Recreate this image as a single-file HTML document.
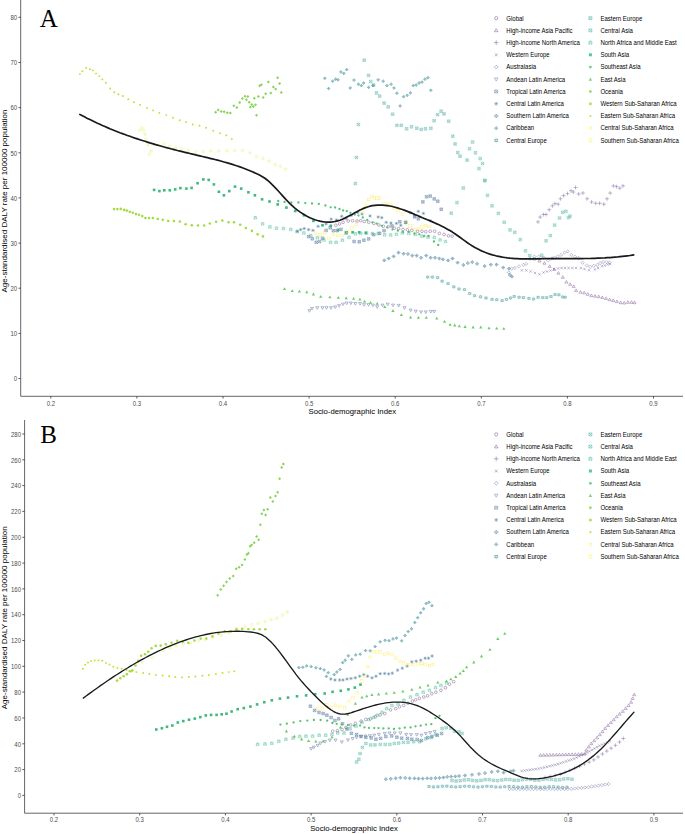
<!DOCTYPE html>
<html><head><meta charset="utf-8"><style>
html,body{margin:0;padding:0;background:#fff;width:685px;height:834px;overflow:hidden}
svg{display:block}
.tk{font-family:"Liberation Sans",sans-serif;font-size:6.4px;fill:#4d4d4d}
.ttl{font-family:"Liberation Sans",sans-serif;font-size:8px;fill:#000}
.lg{font-family:"Liberation Sans",sans-serif;font-size:6.45px;fill:#000}
.big{font-family:"Liberation Serif",serif;font-size:25px;fill:#000}
</style></head><body>
<svg width="685" height="834" viewBox="0 0 685 834">
<rect width="685" height="834" fill="#fff"/>
<path d="M20.7 0V396.3H683" stroke="#555" stroke-width="0.9" fill="none"/>
<path d="M18.5 378.5H20.7" stroke="#444" stroke-width="0.9"/>
<text transform="translate(17.099999999999998 381.2) scale(0.935 1)" text-anchor="end" class="tk">0</text>
<path d="M18.5 333.4H20.7" stroke="#444" stroke-width="0.9"/>
<text transform="translate(17.099999999999998 336.09999999999997) scale(0.935 1)" text-anchor="end" class="tk">10</text>
<path d="M18.5 288.2H20.7" stroke="#444" stroke-width="0.9"/>
<text transform="translate(17.099999999999998 290.9) scale(0.935 1)" text-anchor="end" class="tk">20</text>
<path d="M18.5 243.1H20.7" stroke="#444" stroke-width="0.9"/>
<text transform="translate(17.099999999999998 245.79999999999998) scale(0.935 1)" text-anchor="end" class="tk">30</text>
<path d="M18.5 197.9H20.7" stroke="#444" stroke-width="0.9"/>
<text transform="translate(17.099999999999998 200.6) scale(0.935 1)" text-anchor="end" class="tk">40</text>
<path d="M18.5 152.8H20.7" stroke="#444" stroke-width="0.9"/>
<text transform="translate(17.099999999999998 155.5) scale(0.935 1)" text-anchor="end" class="tk">50</text>
<path d="M18.5 107.6H20.7" stroke="#444" stroke-width="0.9"/>
<text transform="translate(17.099999999999998 110.3) scale(0.935 1)" text-anchor="end" class="tk">60</text>
<path d="M18.5 62.5H20.7" stroke="#444" stroke-width="0.9"/>
<text transform="translate(17.099999999999998 65.2) scale(0.935 1)" text-anchor="end" class="tk">70</text>
<path d="M18.5 17.3H20.7" stroke="#444" stroke-width="0.9"/>
<text transform="translate(17.099999999999998 20.0) scale(0.935 1)" text-anchor="end" class="tk">80</text>
<path d="M50.8 396.3V398.5" stroke="#444" stroke-width="0.9"/>
<text transform="translate(50.8 405.5) scale(0.935 1)" text-anchor="middle" class="tk">0.2</text>
<path d="M136.9 396.3V398.5" stroke="#444" stroke-width="0.9"/>
<text transform="translate(136.9 405.5) scale(0.935 1)" text-anchor="middle" class="tk">0.3</text>
<path d="M223.0 396.3V398.5" stroke="#444" stroke-width="0.9"/>
<text transform="translate(223.0 405.5) scale(0.935 1)" text-anchor="middle" class="tk">0.4</text>
<path d="M309.1 396.3V398.5" stroke="#444" stroke-width="0.9"/>
<text transform="translate(309.1 405.5) scale(0.935 1)" text-anchor="middle" class="tk">0.5</text>
<path d="M395.2 396.3V398.5" stroke="#444" stroke-width="0.9"/>
<text transform="translate(395.2 405.5) scale(0.935 1)" text-anchor="middle" class="tk">0.6</text>
<path d="M481.3 396.3V398.5" stroke="#444" stroke-width="0.9"/>
<text transform="translate(481.3 405.5) scale(0.935 1)" text-anchor="middle" class="tk">0.7</text>
<path d="M567.4 396.3V398.5" stroke="#444" stroke-width="0.9"/>
<text transform="translate(567.4 405.5) scale(0.935 1)" text-anchor="middle" class="tk">0.8</text>
<path d="M653.5 396.3V398.5" stroke="#444" stroke-width="0.9"/>
<text transform="translate(653.5 405.5) scale(0.935 1)" text-anchor="middle" class="tk">0.9</text>
<text transform="translate(352.3 414.3) scale(0.966 1)" text-anchor="middle" class="ttl">Socio-demographic Index</text>
<text transform="translate(7.4 201) rotate(-90)" text-anchor="middle" class="ttl">Age-standardised DALY rate per 100000 population</text>
<text x="39.8" y="26.7" class="big">A</text>
<g opacity="0.8"><circle cx="496.2" cy="18.2" r="1.60" stroke="#440154" stroke-width="0.45" fill="none"/></g>
<text transform="translate(506.3 20.5) scale(0.935 1)" class="lg">Global</text>
<g opacity="0.8"><path d="M496.2 28.7L498.0 31.7L494.4 31.7Z" stroke="#471365" stroke-width="0.45" fill="none"/></g>
<text transform="translate(506.3 32.72) scale(0.935 1)" class="lg">High-income Asia Pacific</text>
<g opacity="0.8"><path d="M493.9 42.6H498.5M496.2 40.3V45.0" stroke="#482374" stroke-width="0.45" fill="none"/></g>
<text transform="translate(506.3 44.94) scale(0.935 1)" class="lg">High-income North America</text>
<g opacity="0.8"><path d="M494.8 53.4L497.6 56.3M494.8 56.3L497.6 53.4" stroke="#46327e" stroke-width="0.45" fill="none"/></g>
<text transform="translate(506.3 57.16) scale(0.935 1)" class="lg">Western Europe</text>
<g opacity="0.8"><path d="M496.2 65.2L498.1 67.1L496.2 69.0L494.3 67.1Z" stroke="#424086" stroke-width="0.45" fill="none"/></g>
<text transform="translate(506.3 69.38) scale(0.935 1)" class="lg">Australasia</text>
<g opacity="0.8"><path d="M496.2 81.1L498.0 78.0L494.4 78.0Z" stroke="#3d4e8a" stroke-width="0.45" fill="none"/></g>
<text transform="translate(506.3 81.6) scale(0.935 1)" class="lg">Andean Latin America</text>
<g opacity="0.8"><path d="M494.7 90.0h3.0v3.0h-3.0ZM494.7 90.0L497.7 93.0M494.7 93.0L497.7 90.0" stroke="#365c8d" stroke-width="0.45" fill="none"/></g>
<text transform="translate(506.3 93.82000000000001) scale(0.935 1)" class="lg">Tropical Latin America</text>
<g opacity="0.8"><path d="M494.2 103.7H498.2M496.2 101.7V105.7M494.8 102.3L497.6 105.2M494.8 105.2L497.6 102.3" stroke="#31688e" stroke-width="0.45" fill="none"/></g>
<text transform="translate(506.3 106.04) scale(0.935 1)" class="lg">Central Latin America</text>
<g opacity="0.8"><path d="M496.2 114.0L498.1 116.0L496.2 117.9L494.3 116.0ZM494.3 116.0H498.1M496.2 114.0V117.9" stroke="#2c738e" stroke-width="0.45" fill="none"/></g>
<text transform="translate(506.3 118.26) scale(0.935 1)" class="lg">Southern Latin America</text>
<g opacity="0.8"><path d="M496.2 126.5L497.9 128.2L496.2 129.9L494.5 128.2ZM494.5 128.2H497.9M496.2 126.5V129.9" stroke="#277f8e" stroke-width="0.45" fill="none" stroke-width="0.6"/></g>
<text transform="translate(506.3 130.48000000000002) scale(0.935 1)" class="lg">Caribbean</text>
<g opacity="0.8"><path d="M496.2 138.6L498.0 141.5L494.4 141.5ZM496.2 142.2L498.0 139.3L494.4 139.3Z" stroke="#238a8d" stroke-width="0.45" fill="none"/></g>
<text transform="translate(506.3 142.70000000000002) scale(0.935 1)" class="lg">Central Europe</text>
<g opacity="0.8"><path d="M588.9 16.7h3.0v3.0h-3.0ZM588.9 16.7L591.9 19.7M588.9 19.7L591.9 16.7" stroke="#1f968b" stroke-width="0.45" fill="none"/></g>
<text transform="translate(600.4 20.5) scale(0.935 1)" class="lg">Eastern Europe</text>
<g opacity="0.8"><path d="M588.9 28.9h3.0v3.0h-3.0ZM588.9 28.9L591.9 31.9M588.9 31.9L591.9 28.9" stroke="#1fa187" stroke-width="0.45" fill="none"/></g>
<text transform="translate(600.4 32.72) scale(0.935 1)" class="lg">Central Asia</text>
<g opacity="0.8"><path d="M588.9 41.1h3.0v3.0h-3.0ZM588.9 44.2L590.4 41.1L591.9 44.2" stroke="#26ad81" stroke-width="0.45" fill="none"/></g>
<text transform="translate(600.4 44.94) scale(0.935 1)" class="lg">North Africa and Middle East</text>
<g opacity="0.8"><rect x="588.9" y="53.3" width="3.0" height="3.0" fill="#35b779"/></g>
<text transform="translate(600.4 57.16) scale(0.935 1)" class="lg">South Asia</text>
<g opacity="0.8"><circle cx="590.4" cy="67.1" r="1.36" fill="#4ac16d"/></g>
<text transform="translate(600.4 69.38) scale(0.935 1)" class="lg">Southeast Asia</text>
<g opacity="0.8"><path d="M590.4 77.5L592.2 80.7L588.6 80.7Z" fill="#65cb5e"/></g>
<text transform="translate(600.4 81.6) scale(0.935 1)" class="lg">East Asia</text>
<g opacity="0.8"><path d="M590.4 89.8L592.2 91.5L590.4 93.3L588.6 91.5Z" fill="#81d34d"/></g>
<text transform="translate(600.4 93.82000000000001) scale(0.935 1)" class="lg">Oceania</text>
<g opacity="0.8"><circle cx="590.4" cy="103.7" r="1.52" fill="#a0da39"/></g>
<text transform="translate(600.4 106.04) scale(0.935 1)" class="lg">Western Sub-Saharan Africa</text>
<g opacity="0.8"><circle cx="590.4" cy="116.0" r="1.12" fill="#c0df25"/></g>
<text transform="translate(600.4 118.26) scale(0.935 1)" class="lg">Eastern Sub-Saharan Africa</text>
<g opacity="0.8"><circle cx="590.4" cy="128.2" r="1.41" stroke="#dfe318" stroke-width="0.45" fill="none"/></g>
<text transform="translate(600.4 130.48000000000002) scale(0.935 1)" class="lg">Central Sub-Saharan Africa</text>
<g opacity="0.8"><rect x="588.9" y="138.9" width="3.0" height="3.0" stroke="#fde725" stroke-width="0.45" fill="none"/></g>
<text transform="translate(600.4 142.70000000000002) scale(0.935 1)" class="lg">Southern Sub-Saharan Africa</text>
<path d="M24.6 420V813.2H683" stroke="#555" stroke-width="0.9" fill="none"/>
<path d="M22.400000000000002 795.4H24.6" stroke="#444" stroke-width="0.9"/>
<text transform="translate(21.0 798.1) scale(0.935 1)" text-anchor="end" class="tk">0</text>
<path d="M22.400000000000002 769.6H24.6" stroke="#444" stroke-width="0.9"/>
<text transform="translate(21.0 772.3000000000001) scale(0.935 1)" text-anchor="end" class="tk">20</text>
<path d="M22.400000000000002 743.8H24.6" stroke="#444" stroke-width="0.9"/>
<text transform="translate(21.0 746.5) scale(0.935 1)" text-anchor="end" class="tk">40</text>
<path d="M22.400000000000002 718.0H24.6" stroke="#444" stroke-width="0.9"/>
<text transform="translate(21.0 720.7) scale(0.935 1)" text-anchor="end" class="tk">60</text>
<path d="M22.400000000000002 692.1H24.6" stroke="#444" stroke-width="0.9"/>
<text transform="translate(21.0 694.8000000000001) scale(0.935 1)" text-anchor="end" class="tk">80</text>
<path d="M22.400000000000002 666.3H24.6" stroke="#444" stroke-width="0.9"/>
<text transform="translate(21.0 669.0) scale(0.935 1)" text-anchor="end" class="tk">100</text>
<path d="M22.400000000000002 640.5H24.6" stroke="#444" stroke-width="0.9"/>
<text transform="translate(21.0 643.2) scale(0.935 1)" text-anchor="end" class="tk">120</text>
<path d="M22.400000000000002 614.7H24.6" stroke="#444" stroke-width="0.9"/>
<text transform="translate(21.0 617.4000000000001) scale(0.935 1)" text-anchor="end" class="tk">140</text>
<path d="M22.400000000000002 588.9H24.6" stroke="#444" stroke-width="0.9"/>
<text transform="translate(21.0 591.6) scale(0.935 1)" text-anchor="end" class="tk">160</text>
<path d="M22.400000000000002 563.1H24.6" stroke="#444" stroke-width="0.9"/>
<text transform="translate(21.0 565.8000000000001) scale(0.935 1)" text-anchor="end" class="tk">180</text>
<path d="M22.400000000000002 537.3H24.6" stroke="#444" stroke-width="0.9"/>
<text transform="translate(21.0 540.0) scale(0.935 1)" text-anchor="end" class="tk">200</text>
<path d="M22.400000000000002 511.4H24.6" stroke="#444" stroke-width="0.9"/>
<text transform="translate(21.0 514.1) scale(0.935 1)" text-anchor="end" class="tk">220</text>
<path d="M22.400000000000002 485.6H24.6" stroke="#444" stroke-width="0.9"/>
<text transform="translate(21.0 488.3) scale(0.935 1)" text-anchor="end" class="tk">240</text>
<path d="M22.400000000000002 459.8H24.6" stroke="#444" stroke-width="0.9"/>
<text transform="translate(21.0 462.5) scale(0.935 1)" text-anchor="end" class="tk">260</text>
<path d="M22.400000000000002 434.0H24.6" stroke="#444" stroke-width="0.9"/>
<text transform="translate(21.0 436.7) scale(0.935 1)" text-anchor="end" class="tk">280</text>
<path d="M54.0 813.2V815.4000000000001" stroke="#444" stroke-width="0.9"/>
<text transform="translate(54.0 822.4000000000001) scale(0.935 1)" text-anchor="middle" class="tk">0.2</text>
<path d="M139.7 813.2V815.4000000000001" stroke="#444" stroke-width="0.9"/>
<text transform="translate(139.7 822.4000000000001) scale(0.935 1)" text-anchor="middle" class="tk">0.3</text>
<path d="M225.4 813.2V815.4000000000001" stroke="#444" stroke-width="0.9"/>
<text transform="translate(225.4 822.4000000000001) scale(0.935 1)" text-anchor="middle" class="tk">0.4</text>
<path d="M311.1 813.2V815.4000000000001" stroke="#444" stroke-width="0.9"/>
<text transform="translate(311.1 822.4000000000001) scale(0.935 1)" text-anchor="middle" class="tk">0.5</text>
<path d="M396.8 813.2V815.4000000000001" stroke="#444" stroke-width="0.9"/>
<text transform="translate(396.8 822.4000000000001) scale(0.935 1)" text-anchor="middle" class="tk">0.6</text>
<path d="M482.5 813.2V815.4000000000001" stroke="#444" stroke-width="0.9"/>
<text transform="translate(482.5 822.4000000000001) scale(0.935 1)" text-anchor="middle" class="tk">0.7</text>
<path d="M568.2 813.2V815.4000000000001" stroke="#444" stroke-width="0.9"/>
<text transform="translate(568.2 822.4000000000001) scale(0.935 1)" text-anchor="middle" class="tk">0.8</text>
<path d="M653.9 813.2V815.4000000000001" stroke="#444" stroke-width="0.9"/>
<text transform="translate(653.9 822.4000000000001) scale(0.935 1)" text-anchor="middle" class="tk">0.9</text>
<text transform="translate(354 831.4) scale(0.966 1)" text-anchor="middle" class="ttl">Socio-demographic Index</text>
<text transform="translate(7.4 617.8) rotate(-90)" text-anchor="middle" class="ttl">Age-standardised DALY rate per 100000 population</text>
<text x="40.2" y="442.9" class="big">B</text>
<g opacity="0.8"><circle cx="496.2" cy="434.4" r="1.60" stroke="#440154" stroke-width="0.45" fill="none"/></g>
<text transform="translate(506.3 436.7) scale(0.935 1)" class="lg">Global</text>
<g opacity="0.8"><path d="M496.2 444.9L498.0 447.9L494.4 447.9Z" stroke="#471365" stroke-width="0.45" fill="none"/></g>
<text transform="translate(506.3 448.92) scale(0.935 1)" class="lg">High-income Asia Pacific</text>
<g opacity="0.8"><path d="M493.9 458.8H498.5M496.2 456.5V461.2" stroke="#482374" stroke-width="0.45" fill="none"/></g>
<text transform="translate(506.3 461.14) scale(0.935 1)" class="lg">High-income North America</text>
<g opacity="0.8"><path d="M494.8 469.6L497.6 472.5M494.8 472.5L497.6 469.6" stroke="#46327e" stroke-width="0.45" fill="none"/></g>
<text transform="translate(506.3 473.36) scale(0.935 1)" class="lg">Western Europe</text>
<g opacity="0.8"><path d="M496.2 481.4L498.1 483.3L496.2 485.2L494.3 483.3Z" stroke="#424086" stroke-width="0.45" fill="none"/></g>
<text transform="translate(506.3 485.58) scale(0.935 1)" class="lg">Australasia</text>
<g opacity="0.8"><path d="M496.2 497.3L498.0 494.2L494.4 494.2Z" stroke="#3d4e8a" stroke-width="0.45" fill="none"/></g>
<text transform="translate(506.3 497.8) scale(0.935 1)" class="lg">Andean Latin America</text>
<g opacity="0.8"><path d="M494.7 506.2h3.0v3.0h-3.0ZM494.7 506.2L497.7 509.2M494.7 509.2L497.7 506.2" stroke="#365c8d" stroke-width="0.45" fill="none"/></g>
<text transform="translate(506.3 510.02) scale(0.935 1)" class="lg">Tropical Latin America</text>
<g opacity="0.8"><path d="M494.2 519.9H498.2M496.2 517.9V521.9M494.8 518.5L497.6 521.4M494.8 521.4L497.6 518.5" stroke="#31688e" stroke-width="0.45" fill="none"/></g>
<text transform="translate(506.3 522.2399999999999) scale(0.935 1)" class="lg">Central Latin America</text>
<g opacity="0.8"><path d="M496.2 530.2L498.1 532.2L496.2 534.1L494.3 532.2ZM494.3 532.2H498.1M496.2 530.2V534.1" stroke="#2c738e" stroke-width="0.45" fill="none"/></g>
<text transform="translate(506.3 534.4599999999999) scale(0.935 1)" class="lg">Southern Latin America</text>
<g opacity="0.8"><path d="M496.2 542.7L497.9 544.4L496.2 546.1L494.5 544.4ZM494.5 544.4H497.9M496.2 542.7V546.1" stroke="#277f8e" stroke-width="0.45" fill="none" stroke-width="0.6"/></g>
<text transform="translate(506.3 546.68) scale(0.935 1)" class="lg">Caribbean</text>
<g opacity="0.8"><path d="M496.2 554.8L498.0 557.7L494.4 557.7ZM496.2 558.4L498.0 555.5L494.4 555.5Z" stroke="#238a8d" stroke-width="0.45" fill="none"/></g>
<text transform="translate(506.3 558.9) scale(0.935 1)" class="lg">Central Europe</text>
<g opacity="0.8"><path d="M588.9 432.9h3.0v3.0h-3.0ZM588.9 432.9L591.9 435.9M588.9 435.9L591.9 432.9" stroke="#1f968b" stroke-width="0.45" fill="none"/></g>
<text transform="translate(600.4 436.7) scale(0.935 1)" class="lg">Eastern Europe</text>
<g opacity="0.8"><path d="M588.9 445.1h3.0v3.0h-3.0ZM588.9 445.1L591.9 448.1M588.9 448.1L591.9 445.1" stroke="#1fa187" stroke-width="0.45" fill="none"/></g>
<text transform="translate(600.4 448.92) scale(0.935 1)" class="lg">Central Asia</text>
<g opacity="0.8"><path d="M588.9 457.3h3.0v3.0h-3.0ZM588.9 460.4L590.4 457.3L591.9 460.4" stroke="#26ad81" stroke-width="0.45" fill="none"/></g>
<text transform="translate(600.4 461.14) scale(0.935 1)" class="lg">North Africa and Middle East</text>
<g opacity="0.8"><rect x="588.9" y="469.5" width="3.0" height="3.0" fill="#35b779"/></g>
<text transform="translate(600.4 473.36) scale(0.935 1)" class="lg">South Asia</text>
<g opacity="0.8"><circle cx="590.4" cy="483.3" r="1.36" fill="#4ac16d"/></g>
<text transform="translate(600.4 485.58) scale(0.935 1)" class="lg">Southeast Asia</text>
<g opacity="0.8"><path d="M590.4 493.7L592.2 496.9L588.6 496.9Z" fill="#65cb5e"/></g>
<text transform="translate(600.4 497.8) scale(0.935 1)" class="lg">East Asia</text>
<g opacity="0.8"><path d="M590.4 506.0L592.2 507.7L590.4 509.5L588.6 507.7Z" fill="#81d34d"/></g>
<text transform="translate(600.4 510.02) scale(0.935 1)" class="lg">Oceania</text>
<g opacity="0.8"><circle cx="590.4" cy="519.9" r="1.52" fill="#a0da39"/></g>
<text transform="translate(600.4 522.2399999999999) scale(0.935 1)" class="lg">Western Sub-Saharan Africa</text>
<g opacity="0.8"><circle cx="590.4" cy="532.2" r="1.12" fill="#c0df25"/></g>
<text transform="translate(600.4 534.4599999999999) scale(0.935 1)" class="lg">Eastern Sub-Saharan Africa</text>
<g opacity="0.8"><circle cx="590.4" cy="544.4" r="1.41" stroke="#dfe318" stroke-width="0.45" fill="none"/></g>
<text transform="translate(600.4 546.68) scale(0.935 1)" class="lg">Central Sub-Saharan Africa</text>
<g opacity="0.8"><rect x="588.9" y="555.1" width="3.0" height="3.0" stroke="#fde725" stroke-width="0.45" fill="none"/></g>
<text transform="translate(600.4 558.9) scale(0.935 1)" class="lg">Southern Sub-Saharan Africa</text>
<g opacity="0.72"><circle cx="335.8" cy="225.3" r="1.36" stroke="#440154" stroke-width="0.45" fill="none"/><circle cx="339.5" cy="224.0" r="1.36" stroke="#440154" stroke-width="0.45" fill="none"/><circle cx="343.1" cy="222.3" r="1.36" stroke="#440154" stroke-width="0.45" fill="none"/><circle cx="348.2" cy="221.0" r="1.36" stroke="#440154" stroke-width="0.45" fill="none"/><circle cx="352.6" cy="220.7" r="1.36" stroke="#440154" stroke-width="0.45" fill="none"/><circle cx="357.0" cy="221.0" r="1.36" stroke="#440154" stroke-width="0.45" fill="none"/><circle cx="360.7" cy="220.7" r="1.36" stroke="#440154" stroke-width="0.45" fill="none"/><circle cx="364.3" cy="221.5" r="1.36" stroke="#440154" stroke-width="0.45" fill="none"/><circle cx="368.7" cy="222.3" r="1.36" stroke="#440154" stroke-width="0.45" fill="none"/><circle cx="373.8" cy="223.4" r="1.36" stroke="#440154" stroke-width="0.45" fill="none"/><circle cx="378.9" cy="225.0" r="1.36" stroke="#440154" stroke-width="0.45" fill="none"/><circle cx="383.3" cy="226.3" r="1.36" stroke="#440154" stroke-width="0.45" fill="none"/><circle cx="388.4" cy="226.6" r="1.36" stroke="#440154" stroke-width="0.45" fill="none"/><circle cx="394.2" cy="228.2" r="1.36" stroke="#440154" stroke-width="0.45" fill="none"/><circle cx="398.6" cy="228.8" r="1.36" stroke="#440154" stroke-width="0.45" fill="none"/><circle cx="403.0" cy="229.4" r="1.36" stroke="#440154" stroke-width="0.45" fill="none"/><circle cx="407.4" cy="229.9" r="1.36" stroke="#440154" stroke-width="0.45" fill="none"/><circle cx="411.8" cy="230.4" r="1.36" stroke="#440154" stroke-width="0.45" fill="none"/><circle cx="417.6" cy="231.3" r="1.36" stroke="#440154" stroke-width="0.45" fill="none"/><circle cx="422.0" cy="231.3" r="1.36" stroke="#440154" stroke-width="0.45" fill="none"/><circle cx="425.8" cy="231.8" r="1.36" stroke="#440154" stroke-width="0.45" fill="none"/><circle cx="430.2" cy="231.3" r="1.36" stroke="#440154" stroke-width="0.45" fill="none"/><circle cx="434.6" cy="231.3" r="1.36" stroke="#440154" stroke-width="0.45" fill="none"/><circle cx="439.3" cy="233.4" r="1.36" stroke="#440154" stroke-width="0.45" fill="none"/><circle cx="444.1" cy="234.5" r="1.36" stroke="#440154" stroke-width="0.45" fill="none"/><circle cx="448.5" cy="235.9" r="1.36" stroke="#440154" stroke-width="0.45" fill="none"/><circle cx="452.1" cy="236.1" r="1.36" stroke="#440154" stroke-width="0.45" fill="none"/></g>
<g opacity="0.72"><path d="M539.4 259.4L540.9 262.0L537.9 262.0Z" stroke="#471365" stroke-width="0.45" fill="none"/><path d="M544.5 261.6L546.0 264.2L543.0 264.2Z" stroke="#471365" stroke-width="0.45" fill="none"/><path d="M549.6 264.8L551.1 267.4L548.1 267.4Z" stroke="#471365" stroke-width="0.45" fill="none"/><path d="M554.3 267.8L555.8 270.4L552.8 270.4Z" stroke="#471365" stroke-width="0.45" fill="none"/><path d="M558.4 271.6L559.9 274.2L556.9 274.2Z" stroke="#471365" stroke-width="0.45" fill="none"/><path d="M562.8 275.7L564.3 278.3L561.3 278.3Z" stroke="#471365" stroke-width="0.45" fill="none"/><path d="M566.4 280.5L567.9 283.1L564.9 283.1Z" stroke="#471365" stroke-width="0.45" fill="none"/><path d="M570.1 282.8L571.6 285.4L568.6 285.4Z" stroke="#471365" stroke-width="0.45" fill="none"/><path d="M573.7 284.8L575.2 287.4L572.2 287.4Z" stroke="#471365" stroke-width="0.45" fill="none"/><path d="M576.1 288.9L577.6 291.5L574.6 291.5Z" stroke="#471365" stroke-width="0.45" fill="none"/><path d="M580.4 290.6L581.9 293.2L578.9 293.2Z" stroke="#471365" stroke-width="0.45" fill="none"/><path d="M584.1 291.3L585.6 293.9L582.6 293.9Z" stroke="#471365" stroke-width="0.45" fill="none"/><path d="M587.7 292.7L589.2 295.3L586.2 295.3Z" stroke="#471365" stroke-width="0.45" fill="none"/><path d="M591.4 294.0L592.9 296.6L589.9 296.6Z" stroke="#471365" stroke-width="0.45" fill="none"/><path d="M595.0 294.6L596.5 297.2L593.5 297.2Z" stroke="#471365" stroke-width="0.45" fill="none"/><path d="M598.7 295.1L600.2 297.7L597.2 297.7Z" stroke="#471365" stroke-width="0.45" fill="none"/><path d="M602.3 296.0L603.8 298.6L600.8 298.6Z" stroke="#471365" stroke-width="0.45" fill="none"/><path d="M606.0 296.9L607.5 299.5L604.5 299.5Z" stroke="#471365" stroke-width="0.45" fill="none"/><path d="M609.6 298.1L611.1 300.7L608.1 300.7Z" stroke="#471365" stroke-width="0.45" fill="none"/><path d="M613.3 298.9L614.8 301.5L611.8 301.5Z" stroke="#471365" stroke-width="0.45" fill="none"/><path d="M616.9 300.0L618.4 302.6L615.4 302.6Z" stroke="#471365" stroke-width="0.45" fill="none"/><path d="M620.6 301.1L622.1 303.7L619.1 303.7Z" stroke="#471365" stroke-width="0.45" fill="none"/><path d="M624.2 301.4L625.7 304.0L622.7 304.0Z" stroke="#471365" stroke-width="0.45" fill="none"/><path d="M627.9 300.7L629.4 303.3L626.4 303.3Z" stroke="#471365" stroke-width="0.45" fill="none"/><path d="M631.5 300.7L633.0 303.3L630.0 303.3Z" stroke="#471365" stroke-width="0.45" fill="none"/><path d="M634.5 301.1L636.0 303.7L633.0 303.7Z" stroke="#471365" stroke-width="0.45" fill="none"/></g>
<g opacity="0.72"><path d="M536.0 221.9H540.0M538.0 219.9V223.9" stroke="#482374" stroke-width="0.45" fill="none"/><path d="M538.2 217.1H542.2M540.2 215.1V219.1" stroke="#482374" stroke-width="0.45" fill="none"/><path d="M541.4 214.5H545.4M543.4 212.5V216.5" stroke="#482374" stroke-width="0.45" fill="none"/><path d="M544.0 214.5H548.0M546.0 212.5V216.5" stroke="#482374" stroke-width="0.45" fill="none"/><path d="M547.2 209.7H551.2M549.2 207.7V211.7" stroke="#482374" stroke-width="0.45" fill="none"/><path d="M550.4 205.8H554.4M552.4 203.8V207.8" stroke="#482374" stroke-width="0.45" fill="none"/><path d="M553.0 203.6H557.0M555.0 201.6V205.6" stroke="#482374" stroke-width="0.45" fill="none"/><path d="M556.2 204.2H560.2M558.2 202.2V206.2" stroke="#482374" stroke-width="0.45" fill="none"/><path d="M558.4 198.8H562.4M560.4 196.8V200.8" stroke="#482374" stroke-width="0.45" fill="none"/><path d="M561.6 195.6H565.6M563.6 193.6V197.6" stroke="#482374" stroke-width="0.45" fill="none"/><path d="M565.5 193.6H569.5M567.5 191.6V195.6" stroke="#482374" stroke-width="0.45" fill="none"/><path d="M569.0 190.7H573.0M571.0 188.7V192.7" stroke="#482374" stroke-width="0.45" fill="none"/><path d="M571.3 192.0H575.3M573.3 190.0V194.0" stroke="#482374" stroke-width="0.45" fill="none"/><path d="M573.5 187.5H577.5M575.5 185.5V189.5" stroke="#482374" stroke-width="0.45" fill="none"/><path d="M576.7 194.0H580.7M578.7 192.0V196.0" stroke="#482374" stroke-width="0.45" fill="none"/><path d="M580.9 193.0H584.9M582.9 191.0V195.0" stroke="#482374" stroke-width="0.45" fill="none"/><path d="M585.1 198.8H589.1M587.1 196.8V200.8" stroke="#482374" stroke-width="0.45" fill="none"/><path d="M589.6 202.0H593.6M591.6 200.0V204.0" stroke="#482374" stroke-width="0.45" fill="none"/><path d="M593.7 203.3H597.7M595.7 201.3V205.3" stroke="#482374" stroke-width="0.45" fill="none"/><path d="M597.6 203.3H601.6M599.6 201.3V205.3" stroke="#482374" stroke-width="0.45" fill="none"/><path d="M601.8 204.2H605.8M603.8 202.2V206.2" stroke="#482374" stroke-width="0.45" fill="none"/><path d="M605.0 198.8H609.0M607.0 196.8V200.8" stroke="#482374" stroke-width="0.45" fill="none"/><path d="M608.2 193.0H612.2M610.2 191.0V195.0" stroke="#482374" stroke-width="0.45" fill="none"/><path d="M611.4 185.9H615.4M613.4 183.9V187.9" stroke="#482374" stroke-width="0.45" fill="none"/><path d="M614.6 186.6H618.6M616.6 184.6V188.6" stroke="#482374" stroke-width="0.45" fill="none"/><path d="M617.8 188.2H621.8M619.8 186.2V190.2" stroke="#482374" stroke-width="0.45" fill="none"/><path d="M621.0 185.9H625.0M623.0 183.9V187.9" stroke="#482374" stroke-width="0.45" fill="none"/></g>
<g opacity="0.72"><path d="M520.7 269.1L523.1 271.5M520.7 271.5L523.1 269.1" stroke="#46327e" stroke-width="0.45" fill="none"/><path d="M525.1 269.1L527.5 271.5M525.1 271.5L527.5 269.1" stroke="#46327e" stroke-width="0.45" fill="none"/><path d="M529.5 270.3L531.9 272.7M529.5 272.7L531.9 270.3" stroke="#46327e" stroke-width="0.45" fill="none"/><path d="M533.8 271.8L536.2 274.2M533.8 274.2L536.2 271.8" stroke="#46327e" stroke-width="0.45" fill="none"/><path d="M538.2 273.1L540.6 275.5M538.2 275.5L540.6 273.1" stroke="#46327e" stroke-width="0.45" fill="none"/><path d="M542.3 271.3L544.7 273.7M542.3 273.7L544.7 271.3" stroke="#46327e" stroke-width="0.45" fill="none"/><path d="M545.8 270.3L548.2 272.7M545.8 272.7L548.2 270.3" stroke="#46327e" stroke-width="0.45" fill="none"/><path d="M549.3 269.3L551.7 271.7M549.3 271.7L551.7 269.3" stroke="#46327e" stroke-width="0.45" fill="none"/><path d="M552.8 267.8L555.2 270.2M552.8 270.2L555.2 267.8" stroke="#46327e" stroke-width="0.45" fill="none"/><path d="M556.9 267.2L559.3 269.6M556.9 269.6L559.3 267.2" stroke="#46327e" stroke-width="0.45" fill="none"/><path d="M560.4 266.9L562.8 269.3M560.4 269.3L562.8 266.9" stroke="#46327e" stroke-width="0.45" fill="none"/><path d="M563.8 266.8L566.2 269.2M563.8 269.2L566.2 266.8" stroke="#46327e" stroke-width="0.45" fill="none"/><path d="M567.4 266.8L569.8 269.2M567.4 269.2L569.8 266.8" stroke="#46327e" stroke-width="0.45" fill="none"/><path d="M571.1 266.8L573.5 269.2M571.1 269.2L573.5 266.8" stroke="#46327e" stroke-width="0.45" fill="none"/><path d="M574.8 266.8L577.2 269.2M574.8 269.2L577.2 266.8" stroke="#46327e" stroke-width="0.45" fill="none"/><path d="M579.7 266.9L582.1 269.3M579.7 269.3L582.1 266.9" stroke="#46327e" stroke-width="0.45" fill="none"/><path d="M583.3 267.8L585.7 270.2M583.3 270.2L585.7 267.8" stroke="#46327e" stroke-width="0.45" fill="none"/><path d="M587.8 269.0L590.2 271.4M587.8 271.4L590.2 269.0" stroke="#46327e" stroke-width="0.45" fill="none"/><path d="M593.7 268.3L596.1 270.7M593.7 270.7L596.1 268.3" stroke="#46327e" stroke-width="0.45" fill="none"/><path d="M596.8 266.8L599.2 269.2M596.8 269.2L599.2 266.8" stroke="#46327e" stroke-width="0.45" fill="none"/><path d="M600.7 265.0L603.1 267.4M600.7 267.4L603.1 265.0" stroke="#46327e" stroke-width="0.45" fill="none"/><path d="M603.6 264.3L606.0 266.7M603.6 266.7L606.0 264.3" stroke="#46327e" stroke-width="0.45" fill="none"/><path d="M606.5 263.3L608.9 265.7M606.5 265.7L608.9 263.3" stroke="#46327e" stroke-width="0.45" fill="none"/><path d="M608.8 262.8L611.2 265.2M608.8 265.2L611.2 262.8" stroke="#46327e" stroke-width="0.45" fill="none"/></g>
<g opacity="0.72"><path d="M508.8 270.8L510.4 272.4L508.8 274.0L507.2 272.4Z" stroke="#424086" stroke-width="0.45" fill="none"/><path d="M511.7 267.0L513.3 268.6L511.7 270.2L510.1 268.6Z" stroke="#424086" stroke-width="0.45" fill="none"/><path d="M515.0 266.4L516.6 268.0L515.0 269.6L513.4 268.0Z" stroke="#424086" stroke-width="0.45" fill="none"/><path d="M519.0 264.7L520.6 266.3L519.0 267.9L517.4 266.3Z" stroke="#424086" stroke-width="0.45" fill="none"/><path d="M523.4 263.2L525.0 264.8L523.4 266.4L521.8 264.8Z" stroke="#424086" stroke-width="0.45" fill="none"/><path d="M526.3 262.3L527.9 263.9L526.3 265.5L524.7 263.9Z" stroke="#424086" stroke-width="0.45" fill="none"/><path d="M529.9 257.2L531.5 258.8L529.9 260.4L528.3 258.8Z" stroke="#424086" stroke-width="0.45" fill="none"/><path d="M534.3 255.0L535.9 256.6L534.3 258.2L532.7 256.6Z" stroke="#424086" stroke-width="0.45" fill="none"/><path d="M538.7 255.0L540.3 256.6L538.7 258.2L537.1 256.6Z" stroke="#424086" stroke-width="0.45" fill="none"/><path d="M543.8 256.1L545.4 257.7L543.8 259.3L542.2 257.7Z" stroke="#424086" stroke-width="0.45" fill="none"/><path d="M548.2 258.7L549.8 260.3L548.2 261.9L546.6 260.3Z" stroke="#424086" stroke-width="0.45" fill="none"/><path d="M552.0 256.9L553.6 258.5L552.0 260.1L550.4 258.5Z" stroke="#424086" stroke-width="0.45" fill="none"/><path d="M554.0 256.2L555.6 257.8L554.0 259.4L552.4 257.8Z" stroke="#424086" stroke-width="0.45" fill="none"/><path d="M557.5 255.1L559.1 256.7L557.5 258.3L555.9 256.7Z" stroke="#424086" stroke-width="0.45" fill="none"/><path d="M561.0 253.3L562.6 254.9L561.0 256.5L559.4 254.9Z" stroke="#424086" stroke-width="0.45" fill="none"/><path d="M564.5 251.0L566.1 252.6L564.5 254.2L562.9 252.6Z" stroke="#424086" stroke-width="0.45" fill="none"/><path d="M567.8 249.8L569.4 251.4L567.8 253.0L566.2 251.4Z" stroke="#424086" stroke-width="0.45" fill="none"/><path d="M571.3 253.3L572.9 254.9L571.3 256.5L569.7 254.9Z" stroke="#424086" stroke-width="0.45" fill="none"/><path d="M575.0 255.1L576.6 256.7L575.0 258.3L573.4 256.7Z" stroke="#424086" stroke-width="0.45" fill="none"/><path d="M578.5 256.2L580.1 257.8L578.5 259.4L576.9 257.8Z" stroke="#424086" stroke-width="0.45" fill="none"/><path d="M582.6 261.1L584.2 262.7L582.6 264.3L581.0 262.7Z" stroke="#424086" stroke-width="0.45" fill="none"/><path d="M586.7 263.8L588.3 265.4L586.7 267.0L585.1 265.4Z" stroke="#424086" stroke-width="0.45" fill="none"/><path d="M590.2 265.2L591.8 266.8L590.2 268.4L588.6 266.8Z" stroke="#424086" stroke-width="0.45" fill="none"/><path d="M593.7 264.2L595.3 265.8L593.7 267.4L592.1 265.8Z" stroke="#424086" stroke-width="0.45" fill="none"/><path d="M597.2 263.3L598.8 264.9L597.2 266.5L595.6 264.9Z" stroke="#424086" stroke-width="0.45" fill="none"/><path d="M600.1 261.5L601.7 263.1L600.1 264.7L598.5 263.1Z" stroke="#424086" stroke-width="0.45" fill="none"/><path d="M603.1 260.4L604.7 262.0L603.1 263.6L601.5 262.0Z" stroke="#424086" stroke-width="0.45" fill="none"/><path d="M606.6 260.7L608.2 262.3L606.6 263.9L605.0 262.3Z" stroke="#424086" stroke-width="0.45" fill="none"/><path d="M609.5 260.9L611.1 262.5L609.5 264.1L607.9 262.5Z" stroke="#424086" stroke-width="0.45" fill="none"/></g>
<g opacity="0.85"><path d="M309.4 312.2L310.9 309.6L307.9 309.6Z" stroke="#3d4e8a" stroke-width="0.45" fill="none"/><path d="M312.0 310.1L313.5 307.5L310.5 307.5Z" stroke="#3d4e8a" stroke-width="0.45" fill="none"/><path d="M317.3 309.3L318.8 306.7L315.8 306.7Z" stroke="#3d4e8a" stroke-width="0.45" fill="none"/><path d="M322.5 309.3L324.0 306.7L321.0 306.7Z" stroke="#3d4e8a" stroke-width="0.45" fill="none"/><path d="M326.5 309.3L328.0 306.7L325.0 306.7Z" stroke="#3d4e8a" stroke-width="0.45" fill="none"/><path d="M331.0 309.3L332.5 306.7L329.5 306.7Z" stroke="#3d4e8a" stroke-width="0.45" fill="none"/><path d="M335.2 308.5L336.7 305.9L333.7 305.9Z" stroke="#3d4e8a" stroke-width="0.45" fill="none"/><path d="M339.1 307.2L340.6 304.6L337.6 304.6Z" stroke="#3d4e8a" stroke-width="0.45" fill="none"/><path d="M343.0 305.7L344.5 303.1L341.5 303.1Z" stroke="#3d4e8a" stroke-width="0.45" fill="none"/><path d="M346.7 304.6L348.2 302.0L345.2 302.0Z" stroke="#3d4e8a" stroke-width="0.45" fill="none"/><path d="M350.9 304.6L352.4 302.0L349.4 302.0Z" stroke="#3d4e8a" stroke-width="0.45" fill="none"/><path d="M355.4 305.1L356.9 302.5L353.9 302.5Z" stroke="#3d4e8a" stroke-width="0.45" fill="none"/><path d="M360.1 305.1L361.6 302.5L358.6 302.5Z" stroke="#3d4e8a" stroke-width="0.45" fill="none"/><path d="M364.1 306.2L365.6 303.6L362.6 303.6Z" stroke="#3d4e8a" stroke-width="0.45" fill="none"/><path d="M368.5 306.2L370.0 303.6L367.0 303.6Z" stroke="#3d4e8a" stroke-width="0.45" fill="none"/><path d="M373.0 306.7L374.5 304.1L371.5 304.1Z" stroke="#3d4e8a" stroke-width="0.45" fill="none"/><path d="M377.2 308.3L378.7 305.7L375.7 305.7Z" stroke="#3d4e8a" stroke-width="0.45" fill="none"/><path d="M382.5 306.7L384.0 304.1L381.0 304.1Z" stroke="#3d4e8a" stroke-width="0.45" fill="none"/><path d="M387.7 305.7L389.2 303.1L386.2 303.1Z" stroke="#3d4e8a" stroke-width="0.45" fill="none"/><path d="M393.0 306.7L394.5 304.1L391.5 304.1Z" stroke="#3d4e8a" stroke-width="0.45" fill="none"/><path d="M398.7 307.0L400.2 304.4L397.2 304.4Z" stroke="#3d4e8a" stroke-width="0.45" fill="none"/><path d="M404.5 309.3L406.0 306.7L403.0 306.7Z" stroke="#3d4e8a" stroke-width="0.45" fill="none"/><path d="M410.6 311.7L412.1 309.1L409.1 309.1Z" stroke="#3d4e8a" stroke-width="0.45" fill="none"/><path d="M415.8 312.7L417.3 310.1L414.3 310.1Z" stroke="#3d4e8a" stroke-width="0.45" fill="none"/><path d="M421.1 313.5L422.6 310.9L419.6 310.9Z" stroke="#3d4e8a" stroke-width="0.45" fill="none"/><path d="M425.8 313.5L427.3 310.9L424.3 310.9Z" stroke="#3d4e8a" stroke-width="0.45" fill="none"/><path d="M430.8 313.0L432.3 310.4L429.3 310.4Z" stroke="#3d4e8a" stroke-width="0.45" fill="none"/><path d="M434.2 313.0L435.7 310.4L432.7 310.4Z" stroke="#3d4e8a" stroke-width="0.45" fill="none"/></g>
<g opacity="0.85"><path d="M307.3 235.3h2.6v2.6h-2.6ZM307.3 235.3L309.9 237.9M307.3 237.9L309.9 235.3" stroke="#365c8d" stroke-width="0.45" fill="none"/><path d="M311.0 237.5h2.6v2.6h-2.6ZM311.0 237.5L313.6 240.1M311.0 240.1L313.6 237.5" stroke="#365c8d" stroke-width="0.45" fill="none"/><path d="M314.9 241.0h2.6v2.6h-2.6ZM314.9 241.0L317.5 243.6M314.9 243.6L317.5 241.0" stroke="#365c8d" stroke-width="0.45" fill="none"/><path d="M318.3 240.3h2.6v2.6h-2.6ZM318.3 240.3L320.9 242.9M318.3 242.9L320.9 240.3" stroke="#365c8d" stroke-width="0.45" fill="none"/><path d="M321.2 236.9h2.6v2.6h-2.6ZM321.2 236.9L323.8 239.5M321.2 239.5L323.8 236.9" stroke="#365c8d" stroke-width="0.45" fill="none"/><path d="M324.8 229.1h2.6v2.6h-2.6ZM324.8 229.1L327.4 231.7M324.8 231.7L327.4 229.1" stroke="#365c8d" stroke-width="0.45" fill="none"/><path d="M328.9 226.4h2.6v2.6h-2.6ZM328.9 226.4L331.5 229.0M328.9 229.0L331.5 226.4" stroke="#365c8d" stroke-width="0.45" fill="none"/><path d="M332.1 229.4h2.6v2.6h-2.6ZM332.1 229.4L334.7 232.0M332.1 232.0L334.7 229.4" stroke="#365c8d" stroke-width="0.45" fill="none"/><path d="M335.8 229.4h2.6v2.6h-2.6ZM335.8 229.4L338.4 232.0M335.8 232.0L338.4 229.4" stroke="#365c8d" stroke-width="0.45" fill="none"/><path d="M339.7 228.1h2.6v2.6h-2.6ZM339.7 228.1L342.3 230.7M339.7 230.7L342.3 228.1" stroke="#365c8d" stroke-width="0.45" fill="none"/><path d="M344.8 231.7h2.6v2.6h-2.6ZM344.8 231.7L347.4 234.3M344.8 234.3L347.4 231.7" stroke="#365c8d" stroke-width="0.45" fill="none"/><path d="M352.8 240.2h2.6v2.6h-2.6ZM352.8 240.2L355.4 242.8M352.8 242.8L355.4 240.2" stroke="#365c8d" stroke-width="0.45" fill="none"/><path d="M357.9 240.5h2.6v2.6h-2.6ZM357.9 240.5L360.5 243.1M357.9 243.1L360.5 240.5" stroke="#365c8d" stroke-width="0.45" fill="none"/><path d="M362.6 238.9h2.6v2.6h-2.6ZM362.6 238.9L365.2 241.5M362.6 241.5L365.2 238.9" stroke="#365c8d" stroke-width="0.45" fill="none"/><path d="M367.4 237.6h2.6v2.6h-2.6ZM367.4 237.6L370.0 240.2M367.4 240.2L370.0 237.6" stroke="#365c8d" stroke-width="0.45" fill="none"/><path d="M372.5 233.4h2.6v2.6h-2.6ZM372.5 233.4L375.1 236.0M372.5 236.0L375.1 233.4" stroke="#365c8d" stroke-width="0.45" fill="none"/><path d="M378.3 232.0h2.6v2.6h-2.6ZM378.3 232.0L380.9 234.6M378.3 234.6L380.9 232.0" stroke="#365c8d" stroke-width="0.45" fill="none"/><path d="M382.7 229.4h2.6v2.6h-2.6ZM382.7 229.4L385.3 232.0M382.7 232.0L385.3 229.4" stroke="#365c8d" stroke-width="0.45" fill="none"/><path d="M390.7 224.7h2.6v2.6h-2.6ZM390.7 224.7L393.3 227.3M390.7 227.3L393.3 224.7" stroke="#365c8d" stroke-width="0.45" fill="none"/><path d="M398.5 220.5h2.6v2.6h-2.6ZM398.5 220.5L401.1 223.1M398.5 223.1L401.1 220.5" stroke="#365c8d" stroke-width="0.45" fill="none"/><path d="M404.2 221.0h2.6v2.6h-2.6ZM404.2 221.0L406.8 223.6M404.2 223.6L406.8 221.0" stroke="#365c8d" stroke-width="0.45" fill="none"/><path d="M413.4 215.6h2.6v2.6h-2.6ZM413.4 215.6L416.0 218.2M413.4 218.2L416.0 215.6" stroke="#365c8d" stroke-width="0.45" fill="none"/><path d="M417.0 217.5h2.6v2.6h-2.6ZM417.0 217.5L419.6 220.1M417.0 220.1L419.6 217.5" stroke="#365c8d" stroke-width="0.45" fill="none"/><path d="M421.6 200.6h2.6v2.6h-2.6ZM421.6 200.6L424.2 203.2M421.6 203.2L424.2 200.6" stroke="#365c8d" stroke-width="0.45" fill="none"/><path d="M425.3 195.5h2.6v2.6h-2.6ZM425.3 195.5L427.9 198.1M425.3 198.1L427.9 195.5" stroke="#365c8d" stroke-width="0.45" fill="none"/><path d="M428.9 194.8h2.6v2.6h-2.6ZM428.9 194.8L431.5 197.4M428.9 197.4L431.5 194.8" stroke="#365c8d" stroke-width="0.45" fill="none"/><path d="M432.9 197.6h2.6v2.6h-2.6ZM432.9 197.6L435.5 200.2M432.9 200.2L435.5 197.6" stroke="#365c8d" stroke-width="0.45" fill="none"/><path d="M436.5 199.9h2.6v2.6h-2.6ZM436.5 199.9L439.1 202.5M436.5 202.5L439.1 199.9" stroke="#365c8d" stroke-width="0.45" fill="none"/><path d="M439.9 208.0h2.6v2.6h-2.6ZM439.9 208.0L442.5 210.6M439.9 210.6L442.5 208.0" stroke="#365c8d" stroke-width="0.45" fill="none"/></g>
<g opacity="0.85"><path d="M295.5 231.4H298.9M297.2 229.7V233.1M296.0 230.2L298.4 232.6M296.0 232.6L298.4 230.2" stroke="#31688e" stroke-width="0.45" fill="none"/><path d="M298.9 229.6H302.3M300.6 227.9V231.3M299.4 228.4L301.8 230.8M299.4 230.8L301.8 228.4" stroke="#31688e" stroke-width="0.45" fill="none"/><path d="M302.5 228.5H305.9M304.2 226.8V230.2M303.0 227.3L305.4 229.7M303.0 229.7L305.4 227.3" stroke="#31688e" stroke-width="0.45" fill="none"/><path d="M306.9 229.6H310.3M308.6 227.9V231.3M307.4 228.4L309.8 230.8M307.4 230.8L309.8 228.4" stroke="#31688e" stroke-width="0.45" fill="none"/><path d="M311.3 230.4H314.7M313.0 228.7V232.1M311.8 229.2L314.2 231.6M311.8 231.6L314.2 229.2" stroke="#31688e" stroke-width="0.45" fill="none"/><path d="M316.4 226.3H319.8M318.1 224.6V228.0M316.9 225.1L319.3 227.5M316.9 227.5L319.3 225.1" stroke="#31688e" stroke-width="0.45" fill="none"/><path d="M324.4 223.9H327.8M326.1 222.2V225.6M324.9 222.7L327.3 225.1M324.9 225.1L327.3 222.7" stroke="#31688e" stroke-width="0.45" fill="none"/><path d="M329.5 219.1H332.9M331.2 217.4V220.8M330.0 217.9L332.4 220.3M330.0 220.3L332.4 217.9" stroke="#31688e" stroke-width="0.45" fill="none"/><path d="M334.7 219.9H338.1M336.4 218.2V221.6M335.2 218.7L337.6 221.1M335.2 221.1L337.6 218.7" stroke="#31688e" stroke-width="0.45" fill="none"/><path d="M340.0 216.3H343.4M341.7 214.6V218.0M340.5 215.1L342.9 217.5M340.5 217.5L342.9 215.1" stroke="#31688e" stroke-width="0.45" fill="none"/><path d="M344.4 218.6H347.8M346.1 216.9V220.3M344.9 217.4L347.3 219.8M344.9 219.8L347.3 217.4" stroke="#31688e" stroke-width="0.45" fill="none"/><path d="M349.5 215.5H352.9M351.2 213.8V217.2M350.0 214.3L352.4 216.7M350.0 216.7L352.4 214.3" stroke="#31688e" stroke-width="0.45" fill="none"/><path d="M356.0 212.6H359.4M357.7 210.9V214.3M356.5 211.4L358.9 213.8M356.5 213.8L358.9 211.4" stroke="#31688e" stroke-width="0.45" fill="none"/><path d="M360.3 214.0H363.7M362.0 212.3V215.7M360.8 212.8L363.2 215.2M360.8 215.2L363.2 212.8" stroke="#31688e" stroke-width="0.45" fill="none"/><path d="M368.3 216.0H371.7M370.0 214.3V217.7M368.8 214.8L371.2 217.2M368.8 217.2L371.2 214.8" stroke="#31688e" stroke-width="0.45" fill="none"/><path d="M376.5 217.0H379.9M378.2 215.3V218.7M377.0 215.8L379.4 218.2M377.0 218.2L379.4 215.8" stroke="#31688e" stroke-width="0.45" fill="none"/><path d="M380.1 217.7H383.5M381.8 216.0V219.4M380.6 216.5L383.0 218.9M380.6 218.9L383.0 216.5" stroke="#31688e" stroke-width="0.45" fill="none"/><path d="M384.5 222.3H387.9M386.2 220.6V224.0M385.0 221.1L387.4 223.5M385.0 223.5L387.4 221.1" stroke="#31688e" stroke-width="0.45" fill="none"/><path d="M389.3 223.0H392.7M391.0 221.3V224.7M389.8 221.8L392.2 224.2M389.8 224.2L392.2 221.8" stroke="#31688e" stroke-width="0.45" fill="none"/><path d="M394.7 223.4H398.1M396.4 221.7V225.1M395.2 222.2L397.6 224.6M395.2 224.6L397.6 222.2" stroke="#31688e" stroke-width="0.45" fill="none"/><path d="M399.1 225.3H402.5M400.8 223.6V227.0M399.6 224.1L402.0 226.5M399.6 226.5L402.0 224.1" stroke="#31688e" stroke-width="0.45" fill="none"/><path d="M404.2 222.6H407.6M405.9 220.9V224.3M404.7 221.4L407.1 223.8M404.7 223.8L407.1 221.4" stroke="#31688e" stroke-width="0.45" fill="none"/><path d="M408.6 212.6H412.0M410.3 210.9V214.3M409.1 211.4L411.5 213.8M409.1 213.8L411.5 211.4" stroke="#31688e" stroke-width="0.45" fill="none"/><path d="M413.0 215.5H416.4M414.7 213.8V217.2M413.5 214.3L415.9 216.7M413.5 216.7L415.9 214.3" stroke="#31688e" stroke-width="0.45" fill="none"/><path d="M416.6 211.4H420.0M418.3 209.7V213.1M417.1 210.2L419.5 212.6M417.1 212.6L419.5 210.2" stroke="#31688e" stroke-width="0.45" fill="none"/><path d="M421.7 213.4H425.1M423.4 211.7V215.1M422.2 212.2L424.6 214.6M422.2 214.6L424.6 212.2" stroke="#31688e" stroke-width="0.45" fill="none"/><path d="M428.5 220.6H431.9M430.2 218.9V222.3M429.0 219.4L431.4 221.8M429.0 221.8L431.4 219.4" stroke="#31688e" stroke-width="0.45" fill="none"/></g>
<g opacity="0.85"><path d="M384.3 258.8L385.9 260.4L384.3 262.0L382.7 260.4ZM382.7 260.4H385.9M384.3 258.8V262.0" stroke="#2c738e" stroke-width="0.45" fill="none"/><path d="M388.7 256.9L390.3 258.5L388.7 260.1L387.1 258.5ZM387.1 258.5H390.3M388.7 256.9V260.1" stroke="#2c738e" stroke-width="0.45" fill="none"/><path d="M393.6 254.8L395.2 256.4L393.6 258.0L392.0 256.4ZM392.0 256.4H395.2M393.6 254.8V258.0" stroke="#2c738e" stroke-width="0.45" fill="none"/><path d="M398.5 251.0L400.1 252.6L398.5 254.2L396.9 252.6ZM396.9 252.6H400.1M398.5 251.0V254.2" stroke="#2c738e" stroke-width="0.45" fill="none"/><path d="M403.6 252.1L405.2 253.7L403.6 255.3L402.0 253.7ZM402.0 253.7H405.2M403.6 252.1V255.3" stroke="#2c738e" stroke-width="0.45" fill="none"/><path d="M408.0 252.4L409.6 254.0L408.0 255.6L406.4 254.0ZM406.4 254.0H409.6M408.0 252.4V255.6" stroke="#2c738e" stroke-width="0.45" fill="none"/><path d="M412.3 254.0L413.9 255.6L412.3 257.2L410.7 255.6ZM410.7 255.6H413.9M412.3 254.0V257.2" stroke="#2c738e" stroke-width="0.45" fill="none"/><path d="M416.7 254.0L418.3 255.6L416.7 257.2L415.1 255.6ZM415.1 255.6H418.3M416.7 254.0V257.2" stroke="#2c738e" stroke-width="0.45" fill="none"/><path d="M421.1 256.1L422.7 257.7L421.1 259.3L419.5 257.7ZM419.5 257.7H422.7M421.1 256.1V259.3" stroke="#2c738e" stroke-width="0.45" fill="none"/><path d="M426.2 254.0L427.8 255.6L426.2 257.2L424.6 255.6ZM424.6 255.6H427.8M426.2 254.0V257.2" stroke="#2c738e" stroke-width="0.45" fill="none"/><path d="M430.6 256.1L432.2 257.7L430.6 259.3L429.0 257.7ZM429.0 257.7H432.2M430.6 256.1V259.3" stroke="#2c738e" stroke-width="0.45" fill="none"/><path d="M435.0 256.1L436.6 257.7L435.0 259.3L433.4 257.7ZM433.4 257.7H436.6M435.0 256.1V259.3" stroke="#2c738e" stroke-width="0.45" fill="none"/><path d="M439.3 256.9L440.9 258.5L439.3 260.1L437.7 258.5ZM437.7 258.5H440.9M439.3 256.9V260.1" stroke="#2c738e" stroke-width="0.45" fill="none"/><path d="M443.0 257.8L444.6 259.4L443.0 261.0L441.4 259.4ZM441.4 259.4H444.6M443.0 257.8V261.0" stroke="#2c738e" stroke-width="0.45" fill="none"/><path d="M448.1 258.8L449.7 260.4L448.1 262.0L446.5 260.4ZM446.5 260.4H449.7M448.1 258.8V262.0" stroke="#2c738e" stroke-width="0.45" fill="none"/><path d="M452.5 256.9L454.1 258.5L452.5 260.1L450.9 258.5ZM450.9 258.5H454.1M452.5 256.9V260.1" stroke="#2c738e" stroke-width="0.45" fill="none"/><path d="M457.6 261.0L459.2 262.6L457.6 264.2L456.0 262.6ZM456.0 262.6H459.2M457.6 261.0V264.2" stroke="#2c738e" stroke-width="0.45" fill="none"/><path d="M463.4 263.4L465.0 265.0L463.4 266.6L461.8 265.0ZM461.8 265.0H465.0M463.4 263.4V266.6" stroke="#2c738e" stroke-width="0.45" fill="none"/><path d="M467.8 261.5L469.4 263.1L467.8 264.7L466.2 263.1ZM466.2 263.1H469.4M467.8 261.5V264.7" stroke="#2c738e" stroke-width="0.45" fill="none"/><path d="M472.2 260.5L473.8 262.1L472.2 263.7L470.6 262.1ZM470.6 262.1H473.8M472.2 260.5V263.7" stroke="#2c738e" stroke-width="0.45" fill="none"/><path d="M477.1 262.2L478.7 263.8L477.1 265.4L475.5 263.8ZM475.5 263.8H478.7M477.1 262.2V265.4" stroke="#2c738e" stroke-width="0.45" fill="none"/><path d="M484.6 264.5L486.2 266.1L484.6 267.7L483.0 266.1ZM483.0 266.1H486.2M484.6 264.5V267.7" stroke="#2c738e" stroke-width="0.45" fill="none"/><path d="M490.8 263.0L492.4 264.6L490.8 266.2L489.2 264.6ZM489.2 264.6H492.4M490.8 263.0V266.2" stroke="#2c738e" stroke-width="0.45" fill="none"/><path d="M496.5 263.0L498.1 264.6L496.5 266.2L494.9 264.6ZM494.9 264.6H498.1M496.5 263.0V266.2" stroke="#2c738e" stroke-width="0.45" fill="none"/><path d="M503.2 266.0L504.8 267.6L503.2 269.2L501.6 267.6ZM501.6 267.6H504.8M503.2 266.0V269.2" stroke="#2c738e" stroke-width="0.45" fill="none"/><path d="M508.9 267.0L510.5 268.6L508.9 270.2L507.3 268.6ZM507.3 268.6H510.5M508.9 267.0V270.2" stroke="#2c738e" stroke-width="0.45" fill="none"/><path d="M509.9 273.4L511.5 275.0L509.9 276.6L508.3 275.0ZM508.3 275.0H511.5M509.9 273.4V276.6" stroke="#2c738e" stroke-width="0.45" fill="none"/><path d="M511.9 275.0L513.5 276.6L511.9 278.2L510.3 276.6ZM510.3 276.6H513.5M511.9 275.0V278.2" stroke="#2c738e" stroke-width="0.45" fill="none"/></g>
<g opacity="0.85"><path d="M324.8 76.9L326.2 78.3L324.8 79.7L323.4 78.3ZM323.4 78.3H326.2M324.8 76.9V79.7" stroke="#277f8e" stroke-width="0.45" fill="none" stroke-width="0.6"/><path d="M328.6 87.1L330.0 88.5L328.6 89.9L327.2 88.5ZM327.2 88.5H330.0M328.6 87.1V89.9" stroke="#277f8e" stroke-width="0.45" fill="none" stroke-width="0.6"/><path d="M332.7 79.8L334.1 81.2L332.7 82.6L331.3 81.2ZM331.3 81.2H334.1M332.7 79.8V82.6" stroke="#277f8e" stroke-width="0.45" fill="none" stroke-width="0.6"/><path d="M335.6 77.8L337.0 79.2L335.6 80.6L334.2 79.2ZM334.2 79.2H337.0M335.6 77.8V80.6" stroke="#277f8e" stroke-width="0.45" fill="none" stroke-width="0.6"/><path d="M338.0 78.4L339.4 79.8L338.0 81.2L336.6 79.8ZM336.6 79.8H339.4M338.0 78.4V81.2" stroke="#277f8e" stroke-width="0.45" fill="none" stroke-width="0.6"/><path d="M340.9 70.5L342.3 71.9L340.9 73.3L339.5 71.9ZM339.5 71.9H342.3M340.9 70.5V73.3" stroke="#277f8e" stroke-width="0.45" fill="none" stroke-width="0.6"/><path d="M343.8 72.0L345.2 73.4L343.8 74.8L342.4 73.4ZM342.4 73.4H345.2M343.8 72.0V74.8" stroke="#277f8e" stroke-width="0.45" fill="none" stroke-width="0.6"/><path d="M346.7 68.2L348.1 69.6L346.7 71.0L345.3 69.6ZM345.3 69.6H348.1M346.7 68.2V71.0" stroke="#277f8e" stroke-width="0.45" fill="none" stroke-width="0.6"/><path d="M350.2 86.6L351.6 88.0L350.2 89.4L348.8 88.0ZM348.8 88.0H351.6M350.2 86.6V89.4" stroke="#277f8e" stroke-width="0.45" fill="none" stroke-width="0.6"/><path d="M354.0 78.7L355.4 80.1L354.0 81.5L352.6 80.1ZM352.6 80.1H355.4M354.0 78.7V81.5" stroke="#277f8e" stroke-width="0.45" fill="none" stroke-width="0.6"/><path d="M358.4 82.8L359.8 84.2L358.4 85.6L357.0 84.2ZM357.0 84.2H359.8M358.4 82.8V85.6" stroke="#277f8e" stroke-width="0.45" fill="none" stroke-width="0.6"/><path d="M361.3 84.2L362.7 85.6L361.3 87.0L359.9 85.6ZM359.9 85.6H362.7M361.3 84.2V87.0" stroke="#277f8e" stroke-width="0.45" fill="none" stroke-width="0.6"/><path d="M363.6 81.6L365.0 83.0L363.6 84.4L362.2 83.0ZM362.2 83.0H365.0M363.6 81.6V84.4" stroke="#277f8e" stroke-width="0.45" fill="none" stroke-width="0.6"/><path d="M368.6 86.0L370.0 87.4L368.6 88.8L367.2 87.4ZM367.2 87.4H370.0M368.6 86.0V88.8" stroke="#277f8e" stroke-width="0.45" fill="none" stroke-width="0.6"/><path d="M373.0 84.2L374.4 85.6L373.0 87.0L371.6 85.6ZM371.6 85.6H374.4M373.0 84.2V87.0" stroke="#277f8e" stroke-width="0.45" fill="none" stroke-width="0.6"/><path d="M378.2 78.4L379.6 79.8L378.2 81.2L376.8 79.8ZM376.8 79.8H379.6M378.2 78.4V81.2" stroke="#277f8e" stroke-width="0.45" fill="none" stroke-width="0.6"/><path d="M383.2 79.8L384.6 81.2L383.2 82.6L381.8 81.2ZM381.8 81.2H384.6M383.2 79.8V82.6" stroke="#277f8e" stroke-width="0.45" fill="none" stroke-width="0.6"/><path d="M387.0 84.2L388.4 85.6L387.0 87.0L385.6 85.6ZM385.6 85.6H388.4M387.0 84.2V87.0" stroke="#277f8e" stroke-width="0.45" fill="none" stroke-width="0.6"/><path d="M391.1 82.8L392.5 84.2L391.1 85.6L389.7 84.2ZM389.7 84.2H392.5M391.1 82.8V85.6" stroke="#277f8e" stroke-width="0.45" fill="none" stroke-width="0.6"/><path d="M394.0 86.6L395.4 88.0L394.0 89.4L392.6 88.0ZM392.6 88.0H395.4M394.0 86.6V89.4" stroke="#277f8e" stroke-width="0.45" fill="none" stroke-width="0.6"/><path d="M396.9 91.8L398.3 93.2L396.9 94.6L395.5 93.2ZM395.5 93.2H398.3M396.9 91.8V94.6" stroke="#277f8e" stroke-width="0.45" fill="none" stroke-width="0.6"/><path d="M400.1 104.6L401.5 106.0L400.1 107.4L398.7 106.0ZM398.7 106.0H401.5M400.1 104.6V107.4" stroke="#277f8e" stroke-width="0.45" fill="none" stroke-width="0.6"/><path d="M403.6 95.3L405.0 96.7L403.6 98.1L402.2 96.7ZM402.2 96.7H405.0M403.6 95.3V98.1" stroke="#277f8e" stroke-width="0.45" fill="none" stroke-width="0.6"/><path d="M407.2 93.9L408.6 95.3L407.2 96.7L405.8 95.3ZM405.8 95.3H408.6M407.2 93.9V96.7" stroke="#277f8e" stroke-width="0.45" fill="none" stroke-width="0.6"/><path d="M410.4 91.5L411.8 92.9L410.4 94.3L409.0 92.9ZM409.0 92.9H411.8M410.4 91.5V94.3" stroke="#277f8e" stroke-width="0.45" fill="none" stroke-width="0.6"/><path d="M413.3 84.2L414.7 85.6L413.3 87.0L411.9 85.6ZM411.9 85.6H414.7M413.3 84.2V87.0" stroke="#277f8e" stroke-width="0.45" fill="none" stroke-width="0.6"/><path d="M416.2 83.6L417.6 85.0L416.2 86.4L414.8 85.0ZM414.8 85.0H417.6M416.2 83.6V86.4" stroke="#277f8e" stroke-width="0.45" fill="none" stroke-width="0.6"/><path d="M419.1 81.6L420.5 83.0L419.1 84.4L417.7 83.0ZM417.7 83.0H420.5M419.1 81.6V84.4" stroke="#277f8e" stroke-width="0.45" fill="none" stroke-width="0.6"/><path d="M422.0 80.7L423.4 82.1L422.0 83.5L420.6 82.1ZM420.6 82.1H423.4M422.0 80.7V83.5" stroke="#277f8e" stroke-width="0.45" fill="none" stroke-width="0.6"/><path d="M425.0 77.8L426.4 79.2L425.0 80.6L423.6 79.2ZM423.6 79.2H426.4M425.0 77.8V80.6" stroke="#277f8e" stroke-width="0.45" fill="none" stroke-width="0.6"/><path d="M427.9 76.3L429.3 77.7L427.9 79.1L426.5 77.7ZM426.5 77.7H429.3M427.9 76.3V79.1" stroke="#277f8e" stroke-width="0.45" fill="none" stroke-width="0.6"/><path d="M430.8 88.9L432.2 90.3L430.8 91.7L429.4 90.3ZM429.4 90.3H432.2M430.8 88.9V91.7" stroke="#277f8e" stroke-width="0.45" fill="none" stroke-width="0.6"/></g>
<g opacity="0.72"><path d="M427.6 275.6L429.1 278.0L426.1 278.0ZM427.6 278.6L429.1 276.2L426.1 276.2Z" stroke="#238a8d" stroke-width="0.45" fill="none"/><path d="M432.4 275.6L433.9 278.0L430.9 278.0ZM432.4 278.6L433.9 276.2L430.9 276.2Z" stroke="#238a8d" stroke-width="0.45" fill="none"/><path d="M437.6 276.1L439.1 278.5L436.1 278.5ZM437.6 279.1L439.1 276.7L436.1 276.7Z" stroke="#238a8d" stroke-width="0.45" fill="none"/><path d="M442.1 279.7L443.6 282.1L440.6 282.1ZM442.1 282.7L443.6 280.3L440.6 280.3Z" stroke="#238a8d" stroke-width="0.45" fill="none"/><path d="M448.1 282.1L449.6 284.5L446.6 284.5ZM448.1 285.1L449.6 282.7L446.6 282.7Z" stroke="#238a8d" stroke-width="0.45" fill="none"/><path d="M453.8 285.3L455.3 287.7L452.3 287.7ZM453.8 288.3L455.3 285.9L452.3 285.9Z" stroke="#238a8d" stroke-width="0.45" fill="none"/><path d="M459.0 287.5L460.5 289.9L457.5 289.9ZM459.0 290.5L460.5 288.1L457.5 288.1Z" stroke="#238a8d" stroke-width="0.45" fill="none"/><path d="M464.5 288.1L466.0 290.5L463.0 290.5ZM464.5 291.1L466.0 288.7L463.0 288.7Z" stroke="#238a8d" stroke-width="0.45" fill="none"/><path d="M469.7 292.0L471.2 294.4L468.2 294.4ZM469.7 295.0L471.2 292.6L468.2 292.6Z" stroke="#238a8d" stroke-width="0.45" fill="none"/><path d="M474.6 294.2L476.1 296.6L473.1 296.6ZM474.6 297.2L476.1 294.8L473.1 294.8Z" stroke="#238a8d" stroke-width="0.45" fill="none"/><path d="M480.5 295.3L482.0 297.7L479.0 297.7ZM480.5 298.3L482.0 295.9L479.0 295.9Z" stroke="#238a8d" stroke-width="0.45" fill="none"/><path d="M486.0 296.5L487.5 298.9L484.5 298.9ZM486.0 299.5L487.5 297.1L484.5 297.1Z" stroke="#238a8d" stroke-width="0.45" fill="none"/><path d="M492.1 297.9L493.6 300.3L490.6 300.3ZM492.1 300.9L493.6 298.5L490.6 298.5Z" stroke="#238a8d" stroke-width="0.45" fill="none"/><path d="M496.7 298.2L498.2 300.6L495.2 300.6ZM496.7 301.2L498.2 298.8L495.2 298.8Z" stroke="#238a8d" stroke-width="0.45" fill="none"/><path d="M502.2 299.1L503.7 301.5L500.7 301.5ZM502.2 302.1L503.7 299.7L500.7 299.7Z" stroke="#238a8d" stroke-width="0.45" fill="none"/><path d="M506.5 297.9L508.0 300.3L505.0 300.3ZM506.5 300.9L508.0 298.5L505.0 298.5Z" stroke="#238a8d" stroke-width="0.45" fill="none"/><path d="M510.5 296.5L512.0 298.9L509.0 298.9ZM510.5 299.5L512.0 297.1L509.0 297.1Z" stroke="#238a8d" stroke-width="0.45" fill="none"/><path d="M514.2 295.0L515.7 297.4L512.7 297.4ZM514.2 298.0L515.7 295.6L512.7 295.6Z" stroke="#238a8d" stroke-width="0.45" fill="none"/><path d="M519.1 295.8L520.6 298.2L517.6 298.2ZM519.1 298.8L520.6 296.4L517.6 296.4Z" stroke="#238a8d" stroke-width="0.45" fill="none"/><path d="M523.4 296.1L524.9 298.5L521.9 298.5ZM523.4 299.1L524.9 296.7L521.9 296.7Z" stroke="#238a8d" stroke-width="0.45" fill="none"/><path d="M528.9 296.9L530.4 299.3L527.4 299.3ZM528.9 299.9L530.4 297.5L527.4 297.5Z" stroke="#238a8d" stroke-width="0.45" fill="none"/><path d="M533.5 297.5L535.0 299.9L532.0 299.9ZM533.5 300.5L535.0 298.1L532.0 298.1Z" stroke="#238a8d" stroke-width="0.45" fill="none"/><path d="M538.1 295.8L539.6 298.2L536.6 298.2ZM538.1 298.8L539.6 296.4L536.6 296.4Z" stroke="#238a8d" stroke-width="0.45" fill="none"/><path d="M542.7 296.1L544.2 298.5L541.2 298.5ZM542.7 299.1L544.2 296.7L541.2 296.7Z" stroke="#238a8d" stroke-width="0.45" fill="none"/><path d="M546.7 296.1L548.2 298.5L545.2 298.5ZM546.7 299.1L548.2 296.7L545.2 296.7Z" stroke="#238a8d" stroke-width="0.45" fill="none"/><path d="M551.0 295.0L552.5 297.4L549.5 297.4ZM551.0 298.0L552.5 295.6L549.5 295.6Z" stroke="#238a8d" stroke-width="0.45" fill="none"/><path d="M555.0 293.0L556.5 295.4L553.5 295.4ZM555.0 296.0L556.5 293.6L553.5 293.6Z" stroke="#238a8d" stroke-width="0.45" fill="none"/><path d="M558.9 293.3L560.4 295.7L557.4 295.7ZM558.9 296.3L560.4 293.9L557.4 293.9Z" stroke="#238a8d" stroke-width="0.45" fill="none"/><path d="M562.6 295.5L564.1 297.9L561.1 297.9ZM562.6 298.5L564.1 296.1L561.1 296.1Z" stroke="#238a8d" stroke-width="0.45" fill="none"/><path d="M565.1 295.8L566.6 298.2L563.6 298.2ZM565.1 298.8L566.6 296.4L563.6 296.4Z" stroke="#238a8d" stroke-width="0.45" fill="none"/></g>
<g opacity="0.72"><path d="M362.9 58.9h2.6v2.6h-2.6ZM362.9 58.9L365.5 61.5M362.9 61.5L365.5 58.9" stroke="#1f968b" stroke-width="0.45" fill="none"/><path d="M367.3 74.1h2.6v2.6h-2.6ZM367.3 74.1L369.9 76.7M367.3 76.7L369.9 74.1" stroke="#1f968b" stroke-width="0.45" fill="none"/><path d="M369.4 80.2h2.6v2.6h-2.6ZM369.4 80.2L372.0 82.8M369.4 82.8L372.0 80.2" stroke="#1f968b" stroke-width="0.45" fill="none"/><path d="M372.3 83.7h2.6v2.6h-2.6ZM372.3 83.7L374.9 86.3M372.3 86.3L374.9 83.7" stroke="#1f968b" stroke-width="0.45" fill="none"/><path d="M375.2 91.6h2.6v2.6h-2.6ZM375.2 91.6L377.8 94.2M375.2 94.2L377.8 91.6" stroke="#1f968b" stroke-width="0.45" fill="none"/><path d="M378.4 94.8h2.6v2.6h-2.6ZM378.4 94.8L381.0 97.4M378.4 97.4L381.0 94.8" stroke="#1f968b" stroke-width="0.45" fill="none"/><path d="M382.8 101.8h2.6v2.6h-2.6ZM382.8 101.8L385.4 104.4M382.8 104.4L385.4 101.8" stroke="#1f968b" stroke-width="0.45" fill="none"/><path d="M386.9 105.6h2.6v2.6h-2.6ZM386.9 105.6L389.5 108.2M386.9 108.2L389.5 105.6" stroke="#1f968b" stroke-width="0.45" fill="none"/><path d="M391.3 112.9h2.6v2.6h-2.6ZM391.3 112.9L393.9 115.5M391.3 115.5L393.9 112.9" stroke="#1f968b" stroke-width="0.45" fill="none"/><path d="M395.6 124.0h2.6v2.6h-2.6ZM395.6 124.0L398.2 126.6M395.6 126.6L398.2 124.0" stroke="#1f968b" stroke-width="0.45" fill="none"/><path d="M400.0 124.0h2.6v2.6h-2.6ZM400.0 124.0L402.6 126.6M400.0 126.6L402.6 124.0" stroke="#1f968b" stroke-width="0.45" fill="none"/><path d="M405.3 127.5h2.6v2.6h-2.6ZM405.3 127.5L407.9 130.1M405.3 130.1L407.9 127.5" stroke="#1f968b" stroke-width="0.45" fill="none"/><path d="M410.2 125.5h2.6v2.6h-2.6ZM410.2 125.5L412.8 128.1M410.2 128.1L412.8 125.5" stroke="#1f968b" stroke-width="0.45" fill="none"/><path d="M415.5 126.9h2.6v2.6h-2.6ZM415.5 126.9L418.1 129.5M415.5 129.5L418.1 126.9" stroke="#1f968b" stroke-width="0.45" fill="none"/><path d="M419.9 128.1h2.6v2.6h-2.6ZM419.9 128.1L422.5 130.7M419.9 130.7L422.5 128.1" stroke="#1f968b" stroke-width="0.45" fill="none"/><path d="M424.2 127.5h2.6v2.6h-2.6ZM424.2 127.5L426.8 130.1M424.2 130.1L426.8 127.5" stroke="#1f968b" stroke-width="0.45" fill="none"/><path d="M429.6 127.0h2.6v2.6h-2.6ZM429.6 127.0L432.2 129.6M429.6 129.6L432.2 127.0" stroke="#1f968b" stroke-width="0.45" fill="none"/><path d="M432.8 119.4h2.6v2.6h-2.6ZM432.8 119.4L435.4 122.0M432.8 122.0L435.4 119.4" stroke="#1f968b" stroke-width="0.45" fill="none"/><path d="M436.3 113.4h2.6v2.6h-2.6ZM436.3 113.4L438.9 116.0M436.3 116.0L438.9 113.4" stroke="#1f968b" stroke-width="0.45" fill="none"/><path d="M439.8 109.9h2.6v2.6h-2.6ZM439.8 109.9L442.4 112.5M439.8 112.5L442.4 109.9" stroke="#1f968b" stroke-width="0.45" fill="none"/><path d="M442.7 112.6h2.6v2.6h-2.6ZM442.7 112.6L445.3 115.2M442.7 115.2L445.3 112.6" stroke="#1f968b" stroke-width="0.45" fill="none"/><path d="M447.4 119.9h2.6v2.6h-2.6ZM447.4 119.9L450.0 122.5M447.4 122.5L450.0 119.9" stroke="#1f968b" stroke-width="0.45" fill="none"/><path d="M451.5 134.9h2.6v2.6h-2.6ZM451.5 134.9L454.1 137.5M451.5 137.5L454.1 134.9" stroke="#1f968b" stroke-width="0.45" fill="none"/><path d="M453.8 142.7h2.6v2.6h-2.6ZM453.8 142.7L456.4 145.3M453.8 145.3L456.4 142.7" stroke="#1f968b" stroke-width="0.45" fill="none"/><path d="M456.5 151.3h2.6v2.6h-2.6ZM456.5 151.3L459.1 153.9M456.5 153.9L459.1 151.3" stroke="#1f968b" stroke-width="0.45" fill="none"/><path d="M458.8 154.9h2.6v2.6h-2.6ZM458.8 154.9L461.4 157.5M458.8 157.5L461.4 154.9" stroke="#1f968b" stroke-width="0.45" fill="none"/><path d="M465.8 158.8h2.6v2.6h-2.6ZM465.8 158.8L468.4 161.4M465.8 161.4L468.4 158.8" stroke="#1f968b" stroke-width="0.45" fill="none"/><path d="M357.1 123.2h2.6v2.6h-2.6ZM357.1 123.2L359.7 125.8M357.1 125.8L359.7 123.2" stroke="#1f968b" stroke-width="0.45" fill="none"/><path d="M355.1 156.1h2.6v2.6h-2.6ZM355.1 156.1L357.7 158.7M355.1 158.7L357.7 156.1" stroke="#1f968b" stroke-width="0.45" fill="none"/><path d="M354.0 182.2h2.6v2.6h-2.6ZM354.0 182.2L356.6 184.8M354.0 184.8L356.6 182.2" stroke="#1f968b" stroke-width="0.45" fill="none"/></g>
<g opacity="0.72"><path d="M483.7 179.1h2.6v2.6h-2.6ZM483.7 179.1L486.3 181.7M483.7 181.7L486.3 179.1" stroke="#1fa187" stroke-width="0.45" fill="none"/><path d="M486.2 194.0h2.6v2.6h-2.6ZM486.2 194.0L488.8 196.6M486.2 196.6L488.8 194.0" stroke="#1fa187" stroke-width="0.45" fill="none"/><path d="M490.7 204.5h2.6v2.6h-2.6ZM490.7 204.5L493.3 207.1M490.7 207.1L493.3 204.5" stroke="#1fa187" stroke-width="0.45" fill="none"/><path d="M497.1 212.0h2.6v2.6h-2.6ZM497.1 212.0L499.7 214.6M497.1 214.6L499.7 212.0" stroke="#1fa187" stroke-width="0.45" fill="none"/><path d="M502.9 221.0h2.6v2.6h-2.6ZM502.9 221.0L505.5 223.6M502.9 223.6L505.5 221.0" stroke="#1fa187" stroke-width="0.45" fill="none"/><path d="M508.7 228.6h2.6v2.6h-2.6ZM508.7 228.6L511.3 231.2M508.7 231.2L511.3 228.6" stroke="#1fa187" stroke-width="0.45" fill="none"/><path d="M513.5 231.0h2.6v2.6h-2.6ZM513.5 231.0L516.1 233.6M513.5 233.6L516.1 231.0" stroke="#1fa187" stroke-width="0.45" fill="none"/><path d="M519.0 238.3h2.6v2.6h-2.6ZM519.0 238.3L521.6 240.9M519.0 240.9L521.6 238.3" stroke="#1fa187" stroke-width="0.45" fill="none"/><path d="M524.2 249.5h2.6v2.6h-2.6ZM524.2 249.5L526.8 252.1M524.2 252.1L526.8 249.5" stroke="#1fa187" stroke-width="0.45" fill="none"/><path d="M528.5 254.4h2.6v2.6h-2.6ZM528.5 254.4L531.1 257.0M528.5 257.0L531.1 254.4" stroke="#1fa187" stroke-width="0.45" fill="none"/><path d="M532.9 257.6h2.6v2.6h-2.6ZM532.9 257.6L535.5 260.2M532.9 260.2L535.5 257.6" stroke="#1fa187" stroke-width="0.45" fill="none"/><path d="M540.4 253.9h2.6v2.6h-2.6ZM540.4 253.9L543.0 256.5M540.4 256.5L543.0 253.9" stroke="#1fa187" stroke-width="0.45" fill="none"/><path d="M544.8 239.5h2.6v2.6h-2.6ZM544.8 239.5L547.4 242.1M544.8 242.1L547.4 239.5" stroke="#1fa187" stroke-width="0.45" fill="none"/><path d="M549.0 234.3h2.6v2.6h-2.6ZM549.0 234.3L551.6 236.9M549.0 236.9L551.6 234.3" stroke="#1fa187" stroke-width="0.45" fill="none"/><path d="M553.3 223.8h2.6v2.6h-2.6ZM553.3 223.8L555.9 226.4M553.3 226.4L555.9 223.8" stroke="#1fa187" stroke-width="0.45" fill="none"/><path d="M558.2 216.7h2.6v2.6h-2.6ZM558.2 216.7L560.8 219.3M558.2 219.3L560.8 216.7" stroke="#1fa187" stroke-width="0.45" fill="none"/><path d="M561.4 211.0h2.6v2.6h-2.6ZM561.4 211.0L564.0 213.6M561.4 213.6L564.0 211.0" stroke="#1fa187" stroke-width="0.45" fill="none"/><path d="M564.6 210.0h2.6v2.6h-2.6ZM564.6 210.0L567.2 212.6M564.6 212.6L567.2 210.0" stroke="#1fa187" stroke-width="0.45" fill="none"/><path d="M567.2 216.4h2.6v2.6h-2.6ZM567.2 216.4L569.8 219.0M567.2 219.0L569.8 216.4" stroke="#1fa187" stroke-width="0.45" fill="none"/><path d="M568.7 214.8h2.6v2.6h-2.6ZM568.7 214.8L571.3 217.4M568.7 217.4L571.3 214.8" stroke="#1fa187" stroke-width="0.45" fill="none"/><path d="M471.3 140.7h2.6v2.6h-2.6ZM471.3 140.7L473.9 143.3M471.3 143.3L473.9 140.7" stroke="#1fa187" stroke-width="0.45" fill="none"/><path d="M468.2 147.5h2.6v2.6h-2.6ZM468.2 147.5L470.8 150.1M468.2 150.1L470.8 147.5" stroke="#1fa187" stroke-width="0.45" fill="none"/><path d="M474.2 151.5h2.6v2.6h-2.6ZM474.2 151.5L476.8 154.1M474.2 154.1L476.8 151.5" stroke="#1fa187" stroke-width="0.45" fill="none"/><path d="M478.9 157.3h2.6v2.6h-2.6ZM478.9 157.3L481.5 159.9M478.9 159.9L481.5 157.3" stroke="#1fa187" stroke-width="0.45" fill="none"/><path d="M481.3 162.2h2.6v2.6h-2.6ZM481.3 162.2L483.9 164.8M481.3 164.8L483.9 162.2" stroke="#1fa187" stroke-width="0.45" fill="none"/><path d="M477.7 167.3h2.6v2.6h-2.6ZM477.7 167.3L480.3 169.9M477.7 169.9L480.3 167.3" stroke="#1fa187" stroke-width="0.45" fill="none"/><path d="M483.4 179.4h2.6v2.6h-2.6ZM483.4 179.4L486.0 182.0M483.4 182.0L486.0 179.4" stroke="#1fa187" stroke-width="0.45" fill="none"/><path d="M462.0 186.7h2.6v2.6h-2.6ZM462.0 186.7L464.6 189.3M462.0 189.3L464.6 186.7" stroke="#1fa187" stroke-width="0.45" fill="none"/><path d="M455.7 201.3h2.6v2.6h-2.6ZM455.7 201.3L458.3 203.9M455.7 203.9L458.3 201.3" stroke="#1fa187" stroke-width="0.45" fill="none"/><path d="M449.9 211.9h2.6v2.6h-2.6ZM449.9 211.9L452.5 214.5M449.9 214.5L452.5 211.9" stroke="#1fa187" stroke-width="0.45" fill="none"/></g>
<g opacity="0.72"><path d="M254.0 216.5h2.6v2.6h-2.6ZM254.0 219.1L255.3 216.5L256.6 219.1" stroke="#26ad81" stroke-width="0.45" fill="none"/><path d="M261.3 222.6h2.6v2.6h-2.6ZM261.3 225.2L262.6 222.6L263.9 225.2" stroke="#26ad81" stroke-width="0.45" fill="none"/><path d="M268.6 225.6h2.6v2.6h-2.6ZM268.6 228.2L269.9 225.6L271.2 228.2" stroke="#26ad81" stroke-width="0.45" fill="none"/><path d="M275.2 226.9h2.6v2.6h-2.6ZM275.2 229.5L276.5 226.9L277.8 229.5" stroke="#26ad81" stroke-width="0.45" fill="none"/><path d="M282.2 227.2h2.6v2.6h-2.6ZM282.2 229.8L283.5 227.2L284.8 229.8" stroke="#26ad81" stroke-width="0.45" fill="none"/><path d="M289.5 228.1h2.6v2.6h-2.6ZM289.5 230.7L290.8 228.1L292.1 230.7" stroke="#26ad81" stroke-width="0.45" fill="none"/><path d="M295.9 230.1h2.6v2.6h-2.6ZM295.9 232.7L297.2 230.1L298.5 232.7" stroke="#26ad81" stroke-width="0.45" fill="none"/><path d="M302.5 231.7h2.6v2.6h-2.6ZM302.5 234.3L303.8 231.7L305.1 234.3" stroke="#26ad81" stroke-width="0.45" fill="none"/><path d="M309.5 234.3h2.6v2.6h-2.6ZM309.5 236.9L310.8 234.3L312.1 236.9" stroke="#26ad81" stroke-width="0.45" fill="none"/><path d="M316.1 236.5h2.6v2.6h-2.6ZM316.1 239.1L317.4 236.5L318.7 239.1" stroke="#26ad81" stroke-width="0.45" fill="none"/><path d="M322.7 238.6h2.6v2.6h-2.6ZM322.7 241.2L324.0 238.6L325.3 241.2" stroke="#26ad81" stroke-width="0.45" fill="none"/><path d="M329.2 241.0h2.6v2.6h-2.6ZM329.2 243.6L330.5 241.0L331.8 243.6" stroke="#26ad81" stroke-width="0.45" fill="none"/><path d="M334.8 241.0h2.6v2.6h-2.6ZM334.8 243.6L336.1 241.0L337.4 243.6" stroke="#26ad81" stroke-width="0.45" fill="none"/><path d="M341.1 238.9h2.6v2.6h-2.6ZM341.1 241.5L342.4 238.9L343.7 241.5" stroke="#26ad81" stroke-width="0.45" fill="none"/><path d="M347.7 236.0h2.6v2.6h-2.6ZM347.7 238.6L349.0 236.0L350.3 238.6" stroke="#26ad81" stroke-width="0.45" fill="none"/><path d="M354.2 232.5h2.6v2.6h-2.6ZM354.2 235.1L355.5 232.5L356.8 235.1" stroke="#26ad81" stroke-width="0.45" fill="none"/><path d="M359.4 232.0h2.6v2.6h-2.6ZM359.4 234.6L360.7 232.0L362.0 234.6" stroke="#26ad81" stroke-width="0.45" fill="none"/><path d="M365.2 231.7h2.6v2.6h-2.6ZM365.2 234.3L366.5 231.7L367.8 234.3" stroke="#26ad81" stroke-width="0.45" fill="none"/><path d="M371.0 232.2h2.6v2.6h-2.6ZM371.0 234.8L372.3 232.2L373.6 234.8" stroke="#26ad81" stroke-width="0.45" fill="none"/><path d="M376.9 232.2h2.6v2.6h-2.6ZM376.9 234.8L378.2 232.2L379.5 234.8" stroke="#26ad81" stroke-width="0.45" fill="none"/><path d="M383.4 233.5h2.6v2.6h-2.6ZM383.4 236.1L384.7 233.5L386.0 236.1" stroke="#26ad81" stroke-width="0.45" fill="none"/><path d="M389.3 233.7h2.6v2.6h-2.6ZM389.3 236.3L390.6 233.7L391.9 236.3" stroke="#26ad81" stroke-width="0.45" fill="none"/><path d="M395.1 233.0h2.6v2.6h-2.6ZM395.1 235.6L396.4 233.0L397.7 235.6" stroke="#26ad81" stroke-width="0.45" fill="none"/><path d="M401.0 231.6h2.6v2.6h-2.6ZM401.0 234.2L402.3 231.6L403.6 234.2" stroke="#26ad81" stroke-width="0.45" fill="none"/><path d="M407.5 232.2h2.6v2.6h-2.6ZM407.5 234.8L408.8 232.2L410.1 234.8" stroke="#26ad81" stroke-width="0.45" fill="none"/><path d="M414.1 233.2h2.6v2.6h-2.6ZM414.1 235.8L415.4 233.2L416.7 235.8" stroke="#26ad81" stroke-width="0.45" fill="none"/><path d="M420.7 234.9h2.6v2.6h-2.6ZM420.7 237.5L422.0 234.9L423.3 237.5" stroke="#26ad81" stroke-width="0.45" fill="none"/><path d="M426.7 235.8h2.6v2.6h-2.6ZM426.7 238.4L428.0 235.8L429.3 238.4" stroke="#26ad81" stroke-width="0.45" fill="none"/><path d="M433.0 236.1h2.6v2.6h-2.6ZM433.0 238.7L434.3 236.1L435.6 238.7" stroke="#26ad81" stroke-width="0.45" fill="none"/><path d="M438.8 238.6h2.6v2.6h-2.6ZM438.8 241.2L440.1 238.6L441.4 241.2" stroke="#26ad81" stroke-width="0.45" fill="none"/><path d="M444.2 240.2h2.6v2.6h-2.6ZM444.2 242.8L445.5 240.2L446.8 242.8" stroke="#26ad81" stroke-width="0.45" fill="none"/></g>
<g opacity="0.95"><rect x="152.8" y="188.6" width="2.6" height="2.6" fill="#35b779"/><rect x="158.1" y="189.8" width="2.6" height="2.6" fill="#35b779"/><rect x="163.0" y="189.0" width="2.6" height="2.6" fill="#35b779"/><rect x="168.5" y="189.0" width="2.6" height="2.6" fill="#35b779"/><rect x="173.9" y="188.1" width="2.6" height="2.6" fill="#35b779"/><rect x="179.1" y="186.8" width="2.6" height="2.6" fill="#35b779"/><rect x="185.1" y="187.3" width="2.6" height="2.6" fill="#35b779"/><rect x="190.3" y="186.6" width="2.6" height="2.6" fill="#35b779"/><rect x="196.3" y="181.9" width="2.6" height="2.6" fill="#35b779"/><rect x="202.0" y="178.1" width="2.6" height="2.6" fill="#35b779"/><rect x="207.4" y="178.6" width="2.6" height="2.6" fill="#35b779"/><rect x="212.6" y="183.1" width="2.6" height="2.6" fill="#35b779"/><rect x="217.6" y="190.5" width="2.6" height="2.6" fill="#35b779"/><rect x="222.6" y="194.0" width="2.6" height="2.6" fill="#35b779"/><rect x="228.0" y="189.8" width="2.6" height="2.6" fill="#35b779"/><rect x="233.7" y="185.3" width="2.6" height="2.6" fill="#35b779"/><rect x="239.9" y="187.3" width="2.6" height="2.6" fill="#35b779"/><rect x="247.1" y="191.0" width="2.6" height="2.6" fill="#35b779"/><rect x="253.6" y="194.0" width="2.6" height="2.6" fill="#35b779"/><rect x="260.8" y="198.0" width="2.6" height="2.6" fill="#35b779"/><rect x="268.2" y="200.2" width="2.6" height="2.6" fill="#35b779"/><rect x="276.4" y="203.1" width="2.6" height="2.6" fill="#35b779"/><rect x="285.1" y="206.3" width="2.6" height="2.6" fill="#35b779"/><rect x="293.9" y="209.7" width="2.6" height="2.6" fill="#35b779"/><rect x="302.6" y="214.0" width="2.6" height="2.6" fill="#35b779"/><rect x="312.1" y="219.6" width="2.6" height="2.6" fill="#35b779"/><rect x="321.2" y="224.0" width="2.6" height="2.6" fill="#35b779"/><rect x="329.5" y="224.5" width="2.6" height="2.6" fill="#35b779"/><rect x="336.8" y="228.6" width="2.6" height="2.6" fill="#35b779"/><rect x="345.1" y="231.0" width="2.6" height="2.6" fill="#35b779"/><rect x="351.3" y="231.0" width="2.6" height="2.6" fill="#35b779"/><rect x="357.9" y="231.0" width="2.6" height="2.6" fill="#35b779"/><rect x="364.5" y="231.6" width="2.6" height="2.6" fill="#35b779"/></g>
<g opacity="0.95"><circle cx="278.2" cy="201.0" r="1.16" fill="#4ac16d"/><circle cx="284.5" cy="202.0" r="1.16" fill="#4ac16d"/><circle cx="291.4" cy="202.5" r="1.16" fill="#4ac16d"/><circle cx="298.4" cy="202.5" r="1.16" fill="#4ac16d"/><circle cx="305.3" cy="203.1" r="1.16" fill="#4ac16d"/><circle cx="312.0" cy="203.5" r="1.16" fill="#4ac16d"/><circle cx="318.8" cy="203.9" r="1.16" fill="#4ac16d"/><circle cx="325.4" cy="205.5" r="1.16" fill="#4ac16d"/><circle cx="330.7" cy="207.3" r="1.16" fill="#4ac16d"/><circle cx="335.1" cy="207.5" r="1.16" fill="#4ac16d"/><circle cx="339.5" cy="209.0" r="1.16" fill="#4ac16d"/><circle cx="343.1" cy="210.5" r="1.16" fill="#4ac16d"/><circle cx="346.8" cy="211.2" r="1.16" fill="#4ac16d"/><circle cx="350.4" cy="212.8" r="1.16" fill="#4ac16d"/><circle cx="354.8" cy="214.6" r="1.16" fill="#4ac16d"/><circle cx="358.5" cy="215.6" r="1.16" fill="#4ac16d"/><circle cx="362.8" cy="217.5" r="1.16" fill="#4ac16d"/><circle cx="367.2" cy="219.9" r="1.16" fill="#4ac16d"/><circle cx="372.3" cy="222.3" r="1.16" fill="#4ac16d"/><circle cx="376.7" cy="223.6" r="1.16" fill="#4ac16d"/><circle cx="381.8" cy="225.8" r="1.16" fill="#4ac16d"/><circle cx="387.2" cy="227.4" r="1.16" fill="#4ac16d"/><circle cx="392.5" cy="229.4" r="1.16" fill="#4ac16d"/><circle cx="397.9" cy="230.7" r="1.16" fill="#4ac16d"/><circle cx="403.0" cy="232.1" r="1.16" fill="#4ac16d"/><circle cx="408.8" cy="231.8" r="1.16" fill="#4ac16d"/><circle cx="414.4" cy="233.5" r="1.16" fill="#4ac16d"/><circle cx="419.3" cy="234.3" r="1.16" fill="#4ac16d"/><circle cx="424.2" cy="236.0" r="1.16" fill="#4ac16d"/><circle cx="428.5" cy="236.0" r="1.16" fill="#4ac16d"/><circle cx="433.9" cy="241.5" r="1.16" fill="#4ac16d"/><circle cx="438.2" cy="245.0" r="1.16" fill="#4ac16d"/></g>
<g opacity="0.95"><path d="M284.5 287.3L286.1 290.1L282.9 290.1Z" fill="#65cb5e"/><path d="M292.3 289.2L293.9 292.0L290.7 292.0Z" fill="#65cb5e"/><path d="M299.4 289.7L301.0 292.5L297.8 292.5Z" fill="#65cb5e"/><path d="M306.8 290.5L308.4 293.3L305.2 293.3Z" fill="#65cb5e"/><path d="M313.4 292.6L315.0 295.4L311.8 295.4Z" fill="#65cb5e"/><path d="M320.7 294.9L322.3 297.7L319.1 297.7Z" fill="#65cb5e"/><path d="M329.9 295.4L331.5 298.2L328.3 298.2Z" fill="#65cb5e"/><path d="M338.3 295.9L339.9 298.7L336.7 298.7Z" fill="#65cb5e"/><path d="M346.2 296.5L347.8 299.3L344.6 299.3Z" fill="#65cb5e"/><path d="M353.6 297.0L355.2 299.8L352.0 299.8Z" fill="#65cb5e"/><path d="M359.9 297.8L361.5 300.6L358.3 300.6Z" fill="#65cb5e"/><path d="M364.6 299.7L366.2 302.5L363.0 302.5Z" fill="#65cb5e"/><path d="M370.6 301.0L372.2 303.8L369.0 303.8Z" fill="#65cb5e"/><path d="M377.2 302.0L378.8 304.8L375.6 304.8Z" fill="#65cb5e"/><path d="M384.8 305.2L386.4 308.0L383.2 308.0Z" fill="#65cb5e"/><path d="M393.0 309.1L394.6 311.9L391.4 311.9Z" fill="#65cb5e"/><path d="M401.4 313.3L403.0 316.1L399.8 316.1Z" fill="#65cb5e"/><path d="M410.6 315.7L412.2 318.5L409.0 318.5Z" fill="#65cb5e"/><path d="M418.4 316.0L420.0 318.8L416.8 318.8Z" fill="#65cb5e"/><path d="M426.3 316.0L427.9 318.8L424.7 318.8Z" fill="#65cb5e"/><path d="M436.8 316.8L438.4 319.6L435.2 319.6Z" fill="#65cb5e"/><path d="M444.6 319.9L446.2 322.7L443.0 322.7Z" fill="#65cb5e"/><path d="M450.1 322.9L451.7 325.7L448.5 325.7Z" fill="#65cb5e"/><path d="M454.7 323.6L456.3 326.4L453.1 326.4Z" fill="#65cb5e"/><path d="M459.3 324.5L460.9 327.3L457.7 327.3Z" fill="#65cb5e"/><path d="M465.1 325.1L466.7 327.9L463.5 327.9Z" fill="#65cb5e"/><path d="M473.1 325.6L474.7 328.4L471.5 328.4Z" fill="#65cb5e"/><path d="M480.8 325.6L482.4 328.4L479.2 328.4Z" fill="#65cb5e"/><path d="M489.0 326.4L490.6 329.2L487.4 329.2Z" fill="#65cb5e"/><path d="M496.7 326.7L498.3 329.5L495.1 329.5Z" fill="#65cb5e"/><path d="M503.8 327.0L505.4 329.8L502.2 329.8Z" fill="#65cb5e"/></g>
<g opacity="0.95"><path d="M215.6 110.8L217.1 112.3L215.6 113.8L214.1 112.3Z" fill="#81d34d"/><path d="M218.2 108.4L219.7 109.9L218.2 111.4L216.7 109.9Z" fill="#81d34d"/><path d="M221.2 110.1L222.7 111.6L221.2 113.1L219.7 111.6Z" fill="#81d34d"/><path d="M224.1 110.3L225.6 111.8L224.1 113.3L222.6 111.8Z" fill="#81d34d"/><path d="M227.3 111.3L228.8 112.8L227.3 114.3L225.8 112.8Z" fill="#81d34d"/><path d="M230.4 111.5L231.9 113.0L230.4 114.5L228.9 113.0Z" fill="#81d34d"/><path d="M233.9 104.3L235.4 105.8L233.9 107.3L232.4 105.8Z" fill="#81d34d"/><path d="M236.8 106.1L238.3 107.6L236.8 109.1L235.3 107.6Z" fill="#81d34d"/><path d="M239.7 101.1L241.2 102.6L239.7 104.1L238.2 102.6Z" fill="#81d34d"/><path d="M242.3 97.0L243.8 98.5L242.3 100.0L240.8 98.5Z" fill="#81d34d"/><path d="M245.0 94.7L246.5 96.2L245.0 97.7L243.5 96.2Z" fill="#81d34d"/><path d="M247.9 94.9L249.4 96.4L247.9 97.9L246.4 96.4Z" fill="#81d34d"/><path d="M246.4 98.2L247.9 99.7L246.4 101.2L244.9 99.7Z" fill="#81d34d"/><path d="M249.2 100.8L250.7 102.3L249.2 103.8L247.7 102.3Z" fill="#81d34d"/><path d="M251.8 102.9L253.3 104.4L251.8 105.9L250.3 104.4Z" fill="#81d34d"/><path d="M250.4 105.5L251.9 107.0L250.4 108.5L248.9 107.0Z" fill="#81d34d"/><path d="M253.3 104.9L254.8 106.4L253.3 107.9L251.8 106.4Z" fill="#81d34d"/><path d="M255.5 103.2L257.0 104.7L255.5 106.2L254.0 104.7Z" fill="#81d34d"/><path d="M256.5 113.7L258.0 115.2L256.5 116.7L255.0 115.2Z" fill="#81d34d"/><path d="M254.3 96.7L255.8 98.2L254.3 99.7L252.8 98.2Z" fill="#81d34d"/><path d="M258.4 95.0L259.9 96.5L258.4 98.0L256.9 96.5Z" fill="#81d34d"/><path d="M259.6 84.3L261.1 85.8L259.6 87.3L258.1 85.8Z" fill="#81d34d"/><path d="M261.3 83.3L262.8 84.8L261.3 86.3L259.8 84.8Z" fill="#81d34d"/><path d="M263.2 96.0L264.7 97.5L263.2 99.0L261.7 97.5Z" fill="#81d34d"/><path d="M265.7 92.2L267.2 93.7L265.7 95.2L264.2 93.7Z" fill="#81d34d"/><path d="M268.3 80.6L269.8 82.1L268.3 83.6L266.8 82.1Z" fill="#81d34d"/><path d="M270.8 91.5L272.3 93.0L270.8 94.5L269.3 93.0Z" fill="#81d34d"/><path d="M273.4 85.5L274.9 87.0L273.4 88.5L271.9 87.0Z" fill="#81d34d"/><path d="M275.6 87.4L277.1 88.9L275.6 90.4L274.1 88.9Z" fill="#81d34d"/><path d="M277.7 76.2L279.2 77.7L277.7 79.2L276.2 77.7Z" fill="#81d34d"/><path d="M279.6 82.1L281.1 83.6L279.6 85.1L278.1 83.6Z" fill="#81d34d"/><path d="M281.3 91.1L282.8 92.6L281.3 94.1L279.8 92.6Z" fill="#81d34d"/></g>
<g opacity="0.95"><circle cx="114.1" cy="209.1" r="1.29" fill="#a0da39"/><circle cx="117.4" cy="209.1" r="1.29" fill="#a0da39"/><circle cx="120.8" cy="208.9" r="1.29" fill="#a0da39"/><circle cx="124.1" cy="209.9" r="1.29" fill="#a0da39"/><circle cx="126.8" cy="210.6" r="1.29" fill="#a0da39"/><circle cx="129.8" cy="211.8" r="1.29" fill="#a0da39"/><circle cx="132.8" cy="212.8" r="1.29" fill="#a0da39"/><circle cx="136.0" cy="214.1" r="1.29" fill="#a0da39"/><circle cx="139.0" cy="214.8" r="1.29" fill="#a0da39"/><circle cx="142.2" cy="216.1" r="1.29" fill="#a0da39"/><circle cx="145.4" cy="218.0" r="1.29" fill="#a0da39"/><circle cx="149.1" cy="218.0" r="1.29" fill="#a0da39"/><circle cx="152.9" cy="218.0" r="1.29" fill="#a0da39"/><circle cx="157.8" cy="219.0" r="1.29" fill="#a0da39"/><circle cx="162.8" cy="219.8" r="1.29" fill="#a0da39"/><circle cx="168.2" cy="221.0" r="1.29" fill="#a0da39"/><circle cx="173.9" cy="221.0" r="1.29" fill="#a0da39"/><circle cx="179.9" cy="221.5" r="1.29" fill="#a0da39"/><circle cx="185.6" cy="224.2" r="1.29" fill="#a0da39"/><circle cx="191.8" cy="225.2" r="1.29" fill="#a0da39"/><circle cx="198.0" cy="225.5" r="1.29" fill="#a0da39"/><circle cx="204.2" cy="225.5" r="1.29" fill="#a0da39"/><circle cx="209.9" cy="223.5" r="1.29" fill="#a0da39"/><circle cx="216.1" cy="221.8" r="1.29" fill="#a0da39"/><circle cx="222.3" cy="220.5" r="1.29" fill="#a0da39"/><circle cx="228.5" cy="222.3" r="1.29" fill="#a0da39"/><circle cx="234.0" cy="222.3" r="1.29" fill="#a0da39"/><circle cx="240.2" cy="224.7" r="1.29" fill="#a0da39"/><circle cx="245.9" cy="228.0" r="1.29" fill="#a0da39"/><circle cx="251.9" cy="230.9" r="1.29" fill="#a0da39"/><circle cx="257.6" cy="234.2" r="1.29" fill="#a0da39"/><circle cx="263.0" cy="236.4" r="1.29" fill="#a0da39"/></g>
<g opacity="0.95"><circle cx="79.9" cy="74.1" r="0.95" fill="#c0df25"/><circle cx="82.4" cy="71.2" r="0.95" fill="#c0df25"/><circle cx="86.1" cy="67.9" r="0.95" fill="#c0df25"/><circle cx="89.9" cy="69.2" r="0.95" fill="#c0df25"/><circle cx="92.8" cy="70.4" r="0.95" fill="#c0df25"/><circle cx="96.0" cy="73.6" r="0.95" fill="#c0df25"/><circle cx="99.3" cy="76.1" r="0.95" fill="#c0df25"/><circle cx="102.3" cy="79.4" r="0.95" fill="#c0df25"/><circle cx="106.0" cy="82.8" r="0.95" fill="#c0df25"/><circle cx="110.2" cy="88.5" r="0.95" fill="#c0df25"/><circle cx="114.2" cy="92.3" r="0.95" fill="#c0df25"/><circle cx="118.4" cy="94.2" r="0.95" fill="#c0df25"/><circle cx="122.9" cy="96.0" r="0.95" fill="#c0df25"/><circle cx="128.3" cy="99.2" r="0.95" fill="#c0df25"/><circle cx="134.0" cy="102.2" r="0.95" fill="#c0df25"/><circle cx="140.2" cy="104.7" r="0.95" fill="#c0df25"/><circle cx="146.9" cy="107.9" r="0.95" fill="#c0df25"/><circle cx="153.1" cy="110.4" r="0.95" fill="#c0df25"/><circle cx="159.3" cy="112.9" r="0.95" fill="#c0df25"/><circle cx="166.3" cy="115.1" r="0.95" fill="#c0df25"/><circle cx="173.0" cy="117.8" r="0.95" fill="#c0df25"/><circle cx="179.7" cy="120.3" r="0.95" fill="#c0df25"/><circle cx="186.1" cy="122.0" r="0.95" fill="#c0df25"/><circle cx="192.8" cy="124.5" r="0.95" fill="#c0df25"/><circle cx="199.5" cy="125.8" r="0.95" fill="#c0df25"/><circle cx="206.0" cy="127.7" r="0.95" fill="#c0df25"/><circle cx="213.2" cy="130.7" r="0.95" fill="#c0df25"/><circle cx="220.1" cy="133.2" r="0.95" fill="#c0df25"/><circle cx="226.3" cy="135.2" r="0.95" fill="#c0df25"/><circle cx="231.8" cy="138.9" r="0.95" fill="#c0df25"/></g>
<g opacity="0.72"><circle cx="139.4" cy="130.4" r="1.20" stroke="#dfe318" stroke-width="0.45" fill="none"/><circle cx="141.7" cy="127.9" r="1.20" stroke="#dfe318" stroke-width="0.45" fill="none"/><circle cx="143.6" cy="130.4" r="1.20" stroke="#dfe318" stroke-width="0.45" fill="none"/><circle cx="144.9" cy="134.4" r="1.20" stroke="#dfe318" stroke-width="0.45" fill="none"/><circle cx="146.1" cy="139.4" r="1.20" stroke="#dfe318" stroke-width="0.45" fill="none"/><circle cx="147.9" cy="144.8" r="1.20" stroke="#dfe318" stroke-width="0.45" fill="none"/><circle cx="151.1" cy="151.0" r="1.20" stroke="#dfe318" stroke-width="0.45" fill="none"/><circle cx="149.4" cy="154.2" r="1.20" stroke="#dfe318" stroke-width="0.45" fill="none"/><circle cx="154.3" cy="144.8" r="1.20" stroke="#dfe318" stroke-width="0.45" fill="none"/><circle cx="164.2" cy="143.6" r="1.20" stroke="#dfe318" stroke-width="0.45" fill="none"/><circle cx="169.7" cy="146.6" r="1.20" stroke="#dfe318" stroke-width="0.45" fill="none"/><circle cx="175.2" cy="148.0" r="1.20" stroke="#dfe318" stroke-width="0.45" fill="none"/><circle cx="181.4" cy="148.5" r="1.20" stroke="#dfe318" stroke-width="0.45" fill="none"/><circle cx="188.3" cy="150.5" r="1.20" stroke="#dfe318" stroke-width="0.45" fill="none"/><circle cx="195.8" cy="151.5" r="1.20" stroke="#dfe318" stroke-width="0.45" fill="none"/><circle cx="203.2" cy="151.5" r="1.20" stroke="#dfe318" stroke-width="0.45" fill="none"/><circle cx="210.6" cy="151.0" r="1.20" stroke="#dfe318" stroke-width="0.45" fill="none"/><circle cx="218.6" cy="151.0" r="1.20" stroke="#dfe318" stroke-width="0.45" fill="none"/><circle cx="226.8" cy="151.0" r="1.20" stroke="#dfe318" stroke-width="0.45" fill="none"/><circle cx="234.7" cy="150.5" r="1.20" stroke="#dfe318" stroke-width="0.45" fill="none"/><circle cx="242.4" cy="150.3" r="1.20" stroke="#dfe318" stroke-width="0.45" fill="none"/><circle cx="249.9" cy="153.0" r="1.20" stroke="#dfe318" stroke-width="0.45" fill="none"/><circle cx="256.6" cy="156.7" r="1.20" stroke="#dfe318" stroke-width="0.45" fill="none"/><circle cx="262.8" cy="158.5" r="1.20" stroke="#dfe318" stroke-width="0.45" fill="none"/><circle cx="269.0" cy="161.0" r="1.20" stroke="#dfe318" stroke-width="0.45" fill="none"/><circle cx="275.2" cy="164.7" r="1.20" stroke="#dfe318" stroke-width="0.45" fill="none"/><circle cx="280.6" cy="166.4" r="1.20" stroke="#dfe318" stroke-width="0.45" fill="none"/><circle cx="285.6" cy="169.1" r="1.20" stroke="#dfe318" stroke-width="0.45" fill="none"/></g>
<g opacity="0.72"><rect x="314.3" y="232.0" width="2.6" height="2.6" stroke="#fde725" stroke-width="0.45" fill="none"/><rect x="318.7" y="233.4" width="2.6" height="2.6" stroke="#fde725" stroke-width="0.45" fill="none"/><rect x="323.1" y="231.7" width="2.6" height="2.6" stroke="#fde725" stroke-width="0.45" fill="none"/><rect x="327.7" y="237.1" width="2.6" height="2.6" stroke="#fde725" stroke-width="0.45" fill="none"/><rect x="332.1" y="233.2" width="2.6" height="2.6" stroke="#fde725" stroke-width="0.45" fill="none"/><rect x="336.7" y="234.2" width="2.6" height="2.6" stroke="#fde725" stroke-width="0.45" fill="none"/><rect x="341.1" y="234.2" width="2.6" height="2.6" stroke="#fde725" stroke-width="0.45" fill="none"/><rect x="346.2" y="230.2" width="2.6" height="2.6" stroke="#fde725" stroke-width="0.45" fill="none"/><rect x="350.6" y="226.9" width="2.6" height="2.6" stroke="#fde725" stroke-width="0.45" fill="none"/><rect x="355.0" y="223.2" width="2.6" height="2.6" stroke="#fde725" stroke-width="0.45" fill="none"/><rect x="361.5" y="211.0" width="2.6" height="2.6" stroke="#fde725" stroke-width="0.45" fill="none"/><rect x="364.5" y="204.0" width="2.6" height="2.6" stroke="#fde725" stroke-width="0.45" fill="none"/><rect x="367.4" y="198.2" width="2.6" height="2.6" stroke="#fde725" stroke-width="0.45" fill="none"/><rect x="370.3" y="195.3" width="2.6" height="2.6" stroke="#fde725" stroke-width="0.45" fill="none"/><rect x="373.2" y="196.9" width="2.6" height="2.6" stroke="#fde725" stroke-width="0.45" fill="none"/><rect x="375.7" y="196.9" width="2.6" height="2.6" stroke="#fde725" stroke-width="0.45" fill="none"/><rect x="378.3" y="196.9" width="2.6" height="2.6" stroke="#fde725" stroke-width="0.45" fill="none"/><rect x="382.4" y="202.3" width="2.6" height="2.6" stroke="#fde725" stroke-width="0.45" fill="none"/><rect x="386.4" y="202.2" width="2.6" height="2.6" stroke="#fde725" stroke-width="0.45" fill="none"/><rect x="390.0" y="203.2" width="2.6" height="2.6" stroke="#fde725" stroke-width="0.45" fill="none"/><rect x="392.9" y="206.7" width="2.6" height="2.6" stroke="#fde725" stroke-width="0.45" fill="none"/><rect x="396.6" y="209.4" width="2.6" height="2.6" stroke="#fde725" stroke-width="0.45" fill="none"/><rect x="401.0" y="212.9" width="2.6" height="2.6" stroke="#fde725" stroke-width="0.45" fill="none"/><rect x="404.6" y="220.2" width="2.6" height="2.6" stroke="#fde725" stroke-width="0.45" fill="none"/><rect x="408.7" y="224.7" width="2.6" height="2.6" stroke="#fde725" stroke-width="0.45" fill="none"/><rect x="413.4" y="228.3" width="2.6" height="2.6" stroke="#fde725" stroke-width="0.45" fill="none"/><rect x="417.0" y="227.2" width="2.6" height="2.6" stroke="#fde725" stroke-width="0.45" fill="none"/><rect x="420.7" y="225.7" width="2.6" height="2.6" stroke="#fde725" stroke-width="0.45" fill="none"/><rect x="424.3" y="224.2" width="2.6" height="2.6" stroke="#fde725" stroke-width="0.45" fill="none"/><rect x="427.7" y="225.2" width="2.6" height="2.6" stroke="#fde725" stroke-width="0.45" fill="none"/></g>
<g opacity="0.72"><circle cx="332.6" cy="731.2" r="1.36" stroke="#440154" stroke-width="0.45" fill="none"/><circle cx="337.4" cy="730.7" r="1.36" stroke="#440154" stroke-width="0.45" fill="none"/><circle cx="342.1" cy="729.5" r="1.36" stroke="#440154" stroke-width="0.45" fill="none"/><circle cx="345.9" cy="727.4" r="1.36" stroke="#440154" stroke-width="0.45" fill="none"/><circle cx="350.7" cy="725.0" r="1.36" stroke="#440154" stroke-width="0.45" fill="none"/><circle cx="355.4" cy="723.3" r="1.36" stroke="#440154" stroke-width="0.45" fill="none"/><circle cx="361.1" cy="721.1" r="1.36" stroke="#440154" stroke-width="0.45" fill="none"/><circle cx="365.8" cy="719.5" r="1.36" stroke="#440154" stroke-width="0.45" fill="none"/><circle cx="370.6" cy="718.8" r="1.36" stroke="#440154" stroke-width="0.45" fill="none"/><circle cx="375.3" cy="716.7" r="1.36" stroke="#440154" stroke-width="0.45" fill="none"/><circle cx="380.1" cy="714.9" r="1.36" stroke="#440154" stroke-width="0.45" fill="none"/><circle cx="384.8" cy="713.5" r="1.36" stroke="#440154" stroke-width="0.45" fill="none"/><circle cx="390.5" cy="709.9" r="1.36" stroke="#440154" stroke-width="0.45" fill="none"/><circle cx="395.7" cy="708.7" r="1.36" stroke="#440154" stroke-width="0.45" fill="none"/><circle cx="399.5" cy="706.8" r="1.36" stroke="#440154" stroke-width="0.45" fill="none"/><circle cx="403.7" cy="705.4" r="1.36" stroke="#440154" stroke-width="0.45" fill="none"/><circle cx="408.0" cy="703.2" r="1.36" stroke="#440154" stroke-width="0.45" fill="none"/><circle cx="412.4" cy="701.1" r="1.36" stroke="#440154" stroke-width="0.45" fill="none"/><circle cx="415.6" cy="699.8" r="1.36" stroke="#440154" stroke-width="0.45" fill="none"/><circle cx="419.4" cy="698.4" r="1.36" stroke="#440154" stroke-width="0.45" fill="none"/><circle cx="423.8" cy="697.0" r="1.36" stroke="#440154" stroke-width="0.45" fill="none"/><circle cx="427.6" cy="695.8" r="1.36" stroke="#440154" stroke-width="0.45" fill="none"/><circle cx="431.8" cy="693.7" r="1.36" stroke="#440154" stroke-width="0.45" fill="none"/><circle cx="435.9" cy="692.2" r="1.36" stroke="#440154" stroke-width="0.45" fill="none"/><circle cx="440.9" cy="690.3" r="1.36" stroke="#440154" stroke-width="0.45" fill="none"/><circle cx="445.4" cy="687.7" r="1.36" stroke="#440154" stroke-width="0.45" fill="none"/><circle cx="449.4" cy="684.2" r="1.36" stroke="#440154" stroke-width="0.45" fill="none"/><circle cx="453.6" cy="681.7" r="1.36" stroke="#440154" stroke-width="0.45" fill="none"/></g>
<g opacity="0.72"><path d="M540.4 753.7L541.9 756.3L538.9 756.3Z" stroke="#471365" stroke-width="0.45" fill="none"/><path d="M543.6 753.6L545.1 756.2L542.1 756.2Z" stroke="#471365" stroke-width="0.45" fill="none"/><path d="M546.7 753.5L548.2 756.2L545.2 756.2Z" stroke="#471365" stroke-width="0.45" fill="none"/><path d="M549.9 753.4L551.4 756.1L548.4 756.1Z" stroke="#471365" stroke-width="0.45" fill="none"/><path d="M553.1 753.4L554.6 756.0L551.6 756.0Z" stroke="#471365" stroke-width="0.45" fill="none"/><path d="M556.3 753.3L557.8 755.9L554.8 755.9Z" stroke="#471365" stroke-width="0.45" fill="none"/><path d="M559.4 753.2L560.9 755.8L557.9 755.8Z" stroke="#471365" stroke-width="0.45" fill="none"/><path d="M562.6 753.1L564.1 755.7L561.1 755.7Z" stroke="#471365" stroke-width="0.45" fill="none"/><path d="M565.8 753.0L567.3 755.6L564.3 755.6Z" stroke="#471365" stroke-width="0.45" fill="none"/><path d="M568.9 752.9L570.4 755.6L567.4 755.6Z" stroke="#471365" stroke-width="0.45" fill="none"/><path d="M572.1 752.8L573.6 755.5L570.6 755.5Z" stroke="#471365" stroke-width="0.45" fill="none"/><path d="M575.3 752.8L576.8 755.4L573.8 755.4Z" stroke="#471365" stroke-width="0.45" fill="none"/><path d="M578.5 752.7L580.0 755.3L577.0 755.3Z" stroke="#471365" stroke-width="0.45" fill="none"/><path d="M581.6 752.6L583.1 755.2L580.1 755.2Z" stroke="#471365" stroke-width="0.45" fill="none"/><path d="M584.8 752.5L586.3 755.1L583.3 755.1Z" stroke="#471365" stroke-width="0.45" fill="none"/><path d="M586.3 748.5L587.8 751.1L584.8 751.1Z" stroke="#471365" stroke-width="0.45" fill="none"/><path d="M588.8 745.2L590.3 747.9L587.3 747.9Z" stroke="#471365" stroke-width="0.45" fill="none"/><path d="M591.3 742.0L592.8 744.6L589.8 744.6Z" stroke="#471365" stroke-width="0.45" fill="none"/><path d="M594.2 739.1L595.7 741.7L592.7 741.7Z" stroke="#471365" stroke-width="0.45" fill="none"/><path d="M597.1 736.2L598.6 738.8L595.6 738.8Z" stroke="#471365" stroke-width="0.45" fill="none"/><path d="M599.8 733.1L601.3 735.7L598.3 735.7Z" stroke="#471365" stroke-width="0.45" fill="none"/><path d="M602.5 730.0L604.0 732.6L601.0 732.6Z" stroke="#471365" stroke-width="0.45" fill="none"/><path d="M605.2 726.9L606.7 729.6L603.7 729.6Z" stroke="#471365" stroke-width="0.45" fill="none"/><path d="M608.0 723.9L609.5 726.5L606.5 726.5Z" stroke="#471365" stroke-width="0.45" fill="none"/><path d="M610.9 721.0L612.4 723.7L609.4 723.7Z" stroke="#471365" stroke-width="0.45" fill="none"/><path d="M613.8 718.2L615.3 720.8L612.3 720.8Z" stroke="#471365" stroke-width="0.45" fill="none"/><path d="M616.7 715.2L618.2 717.8L615.2 717.8Z" stroke="#471365" stroke-width="0.45" fill="none"/><path d="M619.7 712.4L621.2 715.1L618.2 715.1Z" stroke="#471365" stroke-width="0.45" fill="none"/><path d="M622.8 709.8L624.3 712.4L621.3 712.4Z" stroke="#471365" stroke-width="0.45" fill="none"/><path d="M625.7 706.9L627.2 709.5L624.2 709.5Z" stroke="#471365" stroke-width="0.45" fill="none"/><path d="M628.6 703.9L630.1 706.6L627.1 706.6Z" stroke="#471365" stroke-width="0.45" fill="none"/><path d="M631.1 700.7L632.6 703.3L629.6 703.3Z" stroke="#471365" stroke-width="0.45" fill="none"/><path d="M632.7 696.9L634.2 699.5L631.2 699.5Z" stroke="#471365" stroke-width="0.45" fill="none"/><path d="M634.2 693.1L635.7 695.7L632.7 695.7Z" stroke="#471365" stroke-width="0.45" fill="none"/></g>
<g opacity="0.72"><path d="M543.0 777.5H547.0M545.0 775.5V779.5" stroke="#482374" stroke-width="0.45" fill="none"/><path d="M548.1 776.5H552.1M550.1 774.5V778.4" stroke="#482374" stroke-width="0.45" fill="none"/><path d="M553.3 775.5H557.2M555.2 773.5V777.4" stroke="#482374" stroke-width="0.45" fill="none"/><path d="M558.4 774.4H562.3M560.3 772.4V776.3" stroke="#482374" stroke-width="0.45" fill="none"/><path d="M563.2 772.4H567.1M565.1 770.4V774.3" stroke="#482374" stroke-width="0.45" fill="none"/><path d="M568.0 770.4H571.9M570.0 768.4V772.3" stroke="#482374" stroke-width="0.45" fill="none"/><path d="M572.8 768.3H576.7M574.7 766.3V770.3" stroke="#482374" stroke-width="0.45" fill="none"/><path d="M577.5 766.2H581.5M579.5 764.2V768.1" stroke="#482374" stroke-width="0.45" fill="none"/><path d="M582.3 764.1H586.3M584.3 762.1V766.1" stroke="#482374" stroke-width="0.45" fill="none"/><path d="M587.1 762.1H591.1M589.1 760.1V764.0" stroke="#482374" stroke-width="0.45" fill="none"/><path d="M591.9 759.9H595.8M593.8 757.9V761.9" stroke="#482374" stroke-width="0.45" fill="none"/><path d="M596.1 756.9H600.1M598.1 755.0V758.9" stroke="#482374" stroke-width="0.45" fill="none"/><path d="M600.4 754.0H604.4M602.4 752.0V755.9" stroke="#482374" stroke-width="0.45" fill="none"/><path d="M604.8 751.1H608.7M606.8 749.1V753.1" stroke="#482374" stroke-width="0.45" fill="none"/><path d="M609.2 748.2H613.1M611.1 746.3V750.2" stroke="#482374" stroke-width="0.45" fill="none"/><path d="M613.5 745.3H617.4M615.4 743.4V747.3" stroke="#482374" stroke-width="0.45" fill="none"/><path d="M617.5 742.1H621.5M619.5 740.1V744.1" stroke="#482374" stroke-width="0.45" fill="none"/><path d="M621.3 738.5H625.3M623.3 736.5V740.5" stroke="#482374" stroke-width="0.45" fill="none"/></g>
<g opacity="0.72"><path d="M520.5 769.8L522.9 772.2M520.5 772.2L522.9 769.8" stroke="#46327e" stroke-width="0.45" fill="none"/><path d="M523.3 769.4L525.7 771.8M523.3 771.8L525.7 769.4" stroke="#46327e" stroke-width="0.45" fill="none"/><path d="M526.1 769.0L528.6 771.5M526.1 771.5L528.6 769.0" stroke="#46327e" stroke-width="0.45" fill="none"/><path d="M528.9 768.6L531.4 771.1M528.9 771.1L531.4 768.6" stroke="#46327e" stroke-width="0.45" fill="none"/><path d="M531.7 768.2L534.2 770.7M531.7 770.7L534.2 768.2" stroke="#46327e" stroke-width="0.45" fill="none"/><path d="M534.6 767.9L537.0 770.3M534.6 770.3L537.0 767.9" stroke="#46327e" stroke-width="0.45" fill="none"/><path d="M537.4 767.5L539.8 769.9M537.4 769.9L539.8 767.5" stroke="#46327e" stroke-width="0.45" fill="none"/><path d="M540.2 766.9L542.6 769.4M540.2 769.4L542.6 766.9" stroke="#46327e" stroke-width="0.45" fill="none"/><path d="M542.9 766.3L545.4 768.7M542.9 768.7L545.4 766.3" stroke="#46327e" stroke-width="0.45" fill="none"/><path d="M545.7 765.6L548.2 768.1M545.7 768.1L548.2 765.6" stroke="#46327e" stroke-width="0.45" fill="none"/><path d="M548.5 765.0L550.9 767.4M548.5 767.4L550.9 765.0" stroke="#46327e" stroke-width="0.45" fill="none"/><path d="M551.2 764.3L553.7 766.7M551.2 766.7L553.7 764.3" stroke="#46327e" stroke-width="0.45" fill="none"/><path d="M554.0 763.6L556.5 766.1M554.0 766.1L556.5 763.6" stroke="#46327e" stroke-width="0.45" fill="none"/><path d="M556.7 762.9L559.2 765.3M556.7 765.3L559.2 762.9" stroke="#46327e" stroke-width="0.45" fill="none"/><path d="M559.4 762.0L561.9 764.4M559.4 764.4L561.9 762.0" stroke="#46327e" stroke-width="0.45" fill="none"/><path d="M562.1 761.1L564.6 763.5M562.1 763.5L564.6 761.1" stroke="#46327e" stroke-width="0.45" fill="none"/><path d="M564.8 760.2L567.3 762.6M564.8 762.6L567.3 760.2" stroke="#46327e" stroke-width="0.45" fill="none"/><path d="M567.5 759.3L570.0 761.7M567.5 761.7L570.0 759.3" stroke="#46327e" stroke-width="0.45" fill="none"/><path d="M570.2 758.4L572.7 760.8M570.2 760.8L572.7 758.4" stroke="#46327e" stroke-width="0.45" fill="none"/><path d="M572.9 757.5L575.4 759.9M572.9 759.9L575.4 757.5" stroke="#46327e" stroke-width="0.45" fill="none"/><path d="M575.5 756.3L578.0 758.7M575.5 758.7L578.0 756.3" stroke="#46327e" stroke-width="0.45" fill="none"/><path d="M578.1 755.0L580.5 757.5M578.1 757.5L580.5 755.0" stroke="#46327e" stroke-width="0.45" fill="none"/><path d="M580.6 753.8L583.1 756.2M580.6 756.2L583.1 753.8" stroke="#46327e" stroke-width="0.45" fill="none"/><path d="M583.2 752.6L585.6 755.0M583.2 755.0L585.6 752.6" stroke="#46327e" stroke-width="0.45" fill="none"/><path d="M585.8 751.3L588.2 753.8M585.8 753.8L588.2 751.3" stroke="#46327e" stroke-width="0.45" fill="none"/><path d="M588.3 750.1L590.8 752.5M588.3 752.5L590.8 750.1" stroke="#46327e" stroke-width="0.45" fill="none"/><path d="M590.8 748.7L593.3 751.2M590.8 751.2L593.3 748.7" stroke="#46327e" stroke-width="0.45" fill="none"/><path d="M593.3 747.3L595.7 749.8M593.3 749.8L595.7 747.3" stroke="#46327e" stroke-width="0.45" fill="none"/><path d="M595.8 745.9L598.2 748.4M595.8 748.4L598.2 745.9" stroke="#46327e" stroke-width="0.45" fill="none"/><path d="M598.3 744.5L600.7 747.0M598.3 747.0L600.7 744.5" stroke="#46327e" stroke-width="0.45" fill="none"/><path d="M600.9 743.4L603.3 745.8M600.9 745.8L603.3 743.4" stroke="#46327e" stroke-width="0.45" fill="none"/><path d="M603.5 742.3L605.9 744.7M603.5 744.7L605.9 742.3" stroke="#46327e" stroke-width="0.45" fill="none"/><path d="M606.1 741.1L608.5 743.6M606.1 743.6L608.5 741.1" stroke="#46327e" stroke-width="0.45" fill="none"/><path d="M608.7 740.0L611.1 742.4M608.7 742.4L611.1 740.0" stroke="#46327e" stroke-width="0.45" fill="none"/></g>
<g opacity="0.72"><path d="M509.6 787.4L511.2 789.0L509.6 790.6L508.0 789.0Z" stroke="#424086" stroke-width="0.45" fill="none"/><path d="M513.0 787.4L514.7 789.0L513.0 790.6L511.4 789.0Z" stroke="#424086" stroke-width="0.45" fill="none"/><path d="M516.5 787.4L518.1 789.0L516.5 790.6L514.8 789.0Z" stroke="#424086" stroke-width="0.45" fill="none"/><path d="M519.9 787.4L521.5 789.0L519.9 790.6L518.2 789.0Z" stroke="#424086" stroke-width="0.45" fill="none"/><path d="M523.3 787.4L524.9 789.0L523.3 790.6L521.7 789.0Z" stroke="#424086" stroke-width="0.45" fill="none"/><path d="M526.7 787.4L528.4 789.0L526.7 790.6L525.1 789.0Z" stroke="#424086" stroke-width="0.45" fill="none"/><path d="M530.2 787.4L531.8 789.0L530.2 790.6L528.5 789.0Z" stroke="#424086" stroke-width="0.45" fill="none"/><path d="M533.6 787.4L535.2 789.0L533.6 790.6L531.9 789.0Z" stroke="#424086" stroke-width="0.45" fill="none"/><path d="M537.0 787.4L538.6 789.0L537.0 790.6L535.4 789.0Z" stroke="#424086" stroke-width="0.45" fill="none"/><path d="M540.4 787.4L542.1 789.0L540.4 790.6L538.8 789.0Z" stroke="#424086" stroke-width="0.45" fill="none"/><path d="M543.9 787.4L545.5 789.0L543.9 790.6L542.2 789.0Z" stroke="#424086" stroke-width="0.45" fill="none"/><path d="M547.3 787.4L548.9 789.0L547.3 790.6L545.6 789.0Z" stroke="#424086" stroke-width="0.45" fill="none"/><path d="M550.7 787.4L552.3 789.0L550.7 790.6L549.1 789.0Z" stroke="#424086" stroke-width="0.45" fill="none"/><path d="M554.1 787.4L555.8 789.0L554.1 790.6L552.5 789.0Z" stroke="#424086" stroke-width="0.45" fill="none"/><path d="M557.6 787.4L559.2 789.0L557.6 790.6L555.9 789.0Z" stroke="#424086" stroke-width="0.45" fill="none"/><path d="M561.0 787.4L562.6 789.0L561.0 790.6L559.3 789.0Z" stroke="#424086" stroke-width="0.45" fill="none"/><path d="M564.4 787.4L566.0 789.0L564.4 790.6L562.8 789.0Z" stroke="#424086" stroke-width="0.45" fill="none"/><path d="M567.8 787.4L569.5 789.0L567.8 790.6L566.2 789.0Z" stroke="#424086" stroke-width="0.45" fill="none"/><path d="M571.3 787.2L572.9 788.9L571.3 790.5L569.6 788.9Z" stroke="#424086" stroke-width="0.45" fill="none"/><path d="M574.7 786.9L576.3 788.5L574.7 790.2L573.0 788.5Z" stroke="#424086" stroke-width="0.45" fill="none"/><path d="M578.1 786.6L579.7 788.2L578.1 789.8L576.4 788.2Z" stroke="#424086" stroke-width="0.45" fill="none"/><path d="M581.5 786.2L583.1 787.9L581.5 789.5L579.8 787.9Z" stroke="#424086" stroke-width="0.45" fill="none"/><path d="M584.9 785.9L586.5 787.5L584.9 789.1L583.3 787.5Z" stroke="#424086" stroke-width="0.45" fill="none"/><path d="M588.3 785.5L589.9 787.2L588.3 788.8L586.7 787.2Z" stroke="#424086" stroke-width="0.45" fill="none"/><path d="M591.7 785.0L593.3 786.6L591.7 788.3L590.0 786.6Z" stroke="#424086" stroke-width="0.45" fill="none"/><path d="M595.1 784.5L596.7 786.1L595.1 787.7L593.4 786.1Z" stroke="#424086" stroke-width="0.45" fill="none"/><path d="M598.4 783.9L600.1 785.6L598.4 787.2L596.8 785.6Z" stroke="#424086" stroke-width="0.45" fill="none"/><path d="M601.8 783.4L603.5 785.1L601.8 786.7L600.2 785.1Z" stroke="#424086" stroke-width="0.45" fill="none"/><path d="M605.2 782.9L606.8 784.5L605.2 786.2L603.6 784.5Z" stroke="#424086" stroke-width="0.45" fill="none"/><path d="M608.6 782.4L610.2 784.0L608.6 785.6L607.0 784.0Z" stroke="#424086" stroke-width="0.45" fill="none"/></g>
<g opacity="0.85"><path d="M311.1 750.2L312.6 747.6L309.6 747.6Z" stroke="#3d4e8a" stroke-width="0.45" fill="none"/><path d="M313.9 748.7L315.4 746.1L312.4 746.1Z" stroke="#3d4e8a" stroke-width="0.45" fill="none"/><path d="M317.7 746.9L319.2 744.3L316.2 744.3Z" stroke="#3d4e8a" stroke-width="0.45" fill="none"/><path d="M320.3 744.7L321.8 742.1L318.8 742.1Z" stroke="#3d4e8a" stroke-width="0.45" fill="none"/><path d="M325.0 743.1L326.5 740.5L323.5 740.5Z" stroke="#3d4e8a" stroke-width="0.45" fill="none"/><path d="M329.8 741.7L331.3 739.1L328.3 739.1Z" stroke="#3d4e8a" stroke-width="0.45" fill="none"/><path d="M335.5 741.7L337.0 739.1L334.0 739.1Z" stroke="#3d4e8a" stroke-width="0.45" fill="none"/><path d="M341.8 743.5L343.3 740.9L340.3 740.9Z" stroke="#3d4e8a" stroke-width="0.45" fill="none"/><path d="M347.9 741.5L349.4 738.9L346.4 738.9Z" stroke="#3d4e8a" stroke-width="0.45" fill="none"/><path d="M352.6 740.1L354.1 737.5L351.1 737.5Z" stroke="#3d4e8a" stroke-width="0.45" fill="none"/><path d="M356.6 738.9L358.1 736.3L355.1 736.3Z" stroke="#3d4e8a" stroke-width="0.45" fill="none"/><path d="M361.0 737.9L362.5 735.3L359.5 735.3Z" stroke="#3d4e8a" stroke-width="0.45" fill="none"/><path d="M365.4 737.6L366.9 735.0L363.9 735.0Z" stroke="#3d4e8a" stroke-width="0.45" fill="none"/><path d="M369.8 737.3L371.3 734.7L368.3 734.7Z" stroke="#3d4e8a" stroke-width="0.45" fill="none"/><path d="M374.2 736.7L375.7 734.1L372.7 734.1Z" stroke="#3d4e8a" stroke-width="0.45" fill="none"/><path d="M378.9 736.0L380.4 733.4L377.4 733.4Z" stroke="#3d4e8a" stroke-width="0.45" fill="none"/><path d="M384.7 735.0L386.2 732.4L383.2 732.4Z" stroke="#3d4e8a" stroke-width="0.45" fill="none"/><path d="M389.4 734.5L390.9 731.9L387.9 731.9Z" stroke="#3d4e8a" stroke-width="0.45" fill="none"/><path d="M394.7 734.5L396.2 731.9L393.2 731.9Z" stroke="#3d4e8a" stroke-width="0.45" fill="none"/><path d="M400.4 734.5L401.9 731.9L398.9 731.9Z" stroke="#3d4e8a" stroke-width="0.45" fill="none"/><path d="M406.2 736.0L407.7 733.4L404.7 733.4Z" stroke="#3d4e8a" stroke-width="0.45" fill="none"/><path d="M411.0 736.2L412.5 733.6L409.5 733.6Z" stroke="#3d4e8a" stroke-width="0.45" fill="none"/><path d="M416.7 736.2L418.2 733.6L415.2 733.6Z" stroke="#3d4e8a" stroke-width="0.45" fill="none"/><path d="M421.5 736.7L423.0 734.1L420.0 734.1Z" stroke="#3d4e8a" stroke-width="0.45" fill="none"/><path d="M425.8 735.0L427.3 732.4L424.3 732.4Z" stroke="#3d4e8a" stroke-width="0.45" fill="none"/><path d="M430.2 734.1L431.7 731.5L428.7 731.5Z" stroke="#3d4e8a" stroke-width="0.45" fill="none"/><path d="M434.6 733.0L436.1 730.4L433.1 730.4Z" stroke="#3d4e8a" stroke-width="0.45" fill="none"/></g>
<g opacity="0.85"><path d="M309.1 704.9h2.6v2.6h-2.6ZM309.1 704.9L311.7 707.5M309.1 707.5L311.7 704.9" stroke="#365c8d" stroke-width="0.45" fill="none"/><path d="M313.3 709.1h2.6v2.6h-2.6ZM313.3 709.1L315.9 711.7M313.3 711.7L315.9 709.1" stroke="#365c8d" stroke-width="0.45" fill="none"/><path d="M317.7 711.1h2.6v2.6h-2.6ZM317.7 711.1L320.3 713.7M317.7 713.7L320.3 711.1" stroke="#365c8d" stroke-width="0.45" fill="none"/><path d="M321.8 712.2h2.6v2.6h-2.6ZM321.8 712.2L324.4 714.8M321.8 714.8L324.4 712.2" stroke="#365c8d" stroke-width="0.45" fill="none"/><path d="M325.6 713.9h2.6v2.6h-2.6ZM325.6 713.9L328.2 716.5M325.6 716.5L328.2 713.9" stroke="#365c8d" stroke-width="0.45" fill="none"/><path d="M329.8 716.2h2.6v2.6h-2.6ZM329.8 716.2L332.4 718.8M329.8 718.8L332.4 716.2" stroke="#365c8d" stroke-width="0.45" fill="none"/><path d="M333.6 719.2h2.6v2.6h-2.6ZM333.6 719.2L336.2 721.8M333.6 721.8L336.2 719.2" stroke="#365c8d" stroke-width="0.45" fill="none"/><path d="M337.4 717.5h2.6v2.6h-2.6ZM337.4 717.5L340.0 720.1M337.4 720.1L340.0 717.5" stroke="#365c8d" stroke-width="0.45" fill="none"/><path d="M341.2 722.4h2.6v2.6h-2.6ZM341.2 722.4L343.8 725.0M341.2 725.0L343.8 722.4" stroke="#365c8d" stroke-width="0.45" fill="none"/><path d="M345.7 727.7h2.6v2.6h-2.6ZM345.7 727.7L348.3 730.3M345.7 730.3L348.3 727.7" stroke="#365c8d" stroke-width="0.45" fill="none"/><path d="M350.1 732.0h2.6v2.6h-2.6ZM350.1 732.0L352.7 734.6M350.1 734.6L352.7 732.0" stroke="#365c8d" stroke-width="0.45" fill="none"/><path d="M355.3 733.2h2.6v2.6h-2.6ZM355.3 733.2L357.9 735.8M355.3 735.8L357.9 733.2" stroke="#365c8d" stroke-width="0.45" fill="none"/><path d="M359.7 735.2h2.6v2.6h-2.6ZM359.7 735.2L362.3 737.8M359.7 737.8L362.3 735.2" stroke="#365c8d" stroke-width="0.45" fill="none"/><path d="M364.6 736.1h2.6v2.6h-2.6ZM364.6 736.1L367.2 738.7M364.6 738.7L367.2 736.1" stroke="#365c8d" stroke-width="0.45" fill="none"/><path d="M369.9 736.6h2.6v2.6h-2.6ZM369.9 736.6L372.5 739.2M369.9 739.2L372.5 736.6" stroke="#365c8d" stroke-width="0.45" fill="none"/><path d="M374.6 737.9h2.6v2.6h-2.6ZM374.6 737.9L377.2 740.5M374.6 740.5L377.2 737.9" stroke="#365c8d" stroke-width="0.45" fill="none"/><path d="M379.3 737.1h2.6v2.6h-2.6ZM379.3 737.1L381.9 739.7M379.3 739.7L381.9 737.1" stroke="#365c8d" stroke-width="0.45" fill="none"/><path d="M384.6 735.3h2.6v2.6h-2.6ZM384.6 735.3L387.2 737.9M384.6 737.9L387.2 735.3" stroke="#365c8d" stroke-width="0.45" fill="none"/><path d="M390.4 734.6h2.6v2.6h-2.6ZM390.4 734.6L393.0 737.2M390.4 737.2L393.0 734.6" stroke="#365c8d" stroke-width="0.45" fill="none"/><path d="M395.6 735.9h2.6v2.6h-2.6ZM395.6 735.9L398.2 738.5M395.6 738.5L398.2 735.9" stroke="#365c8d" stroke-width="0.45" fill="none"/><path d="M400.4 736.9h2.6v2.6h-2.6ZM400.4 736.9L403.0 739.5M400.4 739.5L403.0 736.9" stroke="#365c8d" stroke-width="0.45" fill="none"/><path d="M406.1 737.1h2.6v2.6h-2.6ZM406.1 737.1L408.7 739.7M406.1 739.7L408.7 737.1" stroke="#365c8d" stroke-width="0.45" fill="none"/><path d="M410.5 737.9h2.6v2.6h-2.6ZM410.5 737.9L413.1 740.5M410.5 740.5L413.1 737.9" stroke="#365c8d" stroke-width="0.45" fill="none"/><path d="M415.8 738.3h2.6v2.6h-2.6ZM415.8 738.3L418.4 740.9M415.8 740.9L418.4 738.3" stroke="#365c8d" stroke-width="0.45" fill="none"/><path d="M420.2 739.2h2.6v2.6h-2.6ZM420.2 739.2L422.8 741.8M420.2 741.8L422.8 739.2" stroke="#365c8d" stroke-width="0.45" fill="none"/><path d="M426.3 736.3h2.6v2.6h-2.6ZM426.3 736.3L428.9 738.9M426.3 738.9L428.9 736.3" stroke="#365c8d" stroke-width="0.45" fill="none"/><path d="M430.7 735.1h2.6v2.6h-2.6ZM430.7 735.1L433.3 737.7M430.7 737.7L433.3 735.1" stroke="#365c8d" stroke-width="0.45" fill="none"/><path d="M435.9 733.9h2.6v2.6h-2.6ZM435.9 733.9L438.5 736.5M435.9 736.5L438.5 733.9" stroke="#365c8d" stroke-width="0.45" fill="none"/><path d="M440.3 732.2h2.6v2.6h-2.6ZM440.3 732.2L442.9 734.8M440.3 734.8L442.9 732.2" stroke="#365c8d" stroke-width="0.45" fill="none"/></g>
<g opacity="0.85"><path d="M329.1 679.0H332.5M330.8 677.3V680.7M329.6 677.8L332.0 680.2M329.6 680.2L332.0 677.8" stroke="#31688e" stroke-width="0.45" fill="none"/><path d="M333.3 680.0H336.7M335.0 678.3V681.7M333.8 678.8L336.2 681.2M333.8 681.2L336.2 678.8" stroke="#31688e" stroke-width="0.45" fill="none"/><path d="M337.9 680.0H341.3M339.6 678.3V681.7M338.4 678.8L340.8 681.2M338.4 681.2L340.8 678.8" stroke="#31688e" stroke-width="0.45" fill="none"/><path d="M341.3 680.0H344.7M343.0 678.3V681.7M341.8 678.8L344.2 681.2M341.8 681.2L344.2 678.8" stroke="#31688e" stroke-width="0.45" fill="none"/><path d="M345.3 679.0H348.7M347.0 677.3V680.7M345.8 677.8L348.2 680.2M345.8 680.2L348.2 677.8" stroke="#31688e" stroke-width="0.45" fill="none"/><path d="M349.3 678.5H352.7M351.0 676.8V680.2M349.8 677.3L352.2 679.7M349.8 679.7L352.2 677.3" stroke="#31688e" stroke-width="0.45" fill="none"/><path d="M353.6 677.8H357.0M355.3 676.1V679.5M354.1 676.6L356.5 679.0M354.1 679.0L356.5 676.6" stroke="#31688e" stroke-width="0.45" fill="none"/><path d="M358.0 676.2H361.4M359.7 674.5V677.9M358.5 675.0L360.9 677.4M358.5 677.4L360.9 675.0" stroke="#31688e" stroke-width="0.45" fill="none"/><path d="M362.0 674.6H365.4M363.7 672.9V676.3M362.5 673.4L364.9 675.8M362.5 675.8L364.9 673.4" stroke="#31688e" stroke-width="0.45" fill="none"/><path d="M365.9 676.2H369.3M367.6 674.5V677.9M366.4 675.0L368.8 677.4M366.4 677.4L368.8 675.0" stroke="#31688e" stroke-width="0.45" fill="none"/><path d="M370.3 677.8H373.7M372.0 676.1V679.5M370.8 676.6L373.2 679.0M370.8 679.0L373.2 676.6" stroke="#31688e" stroke-width="0.45" fill="none"/><path d="M374.3 676.2H377.7M376.0 674.5V677.9M374.8 675.0L377.2 677.4M374.8 677.4L377.2 675.0" stroke="#31688e" stroke-width="0.45" fill="none"/><path d="M378.5 673.7H381.9M380.2 672.0V675.4M379.0 672.5L381.4 674.9M379.0 674.9L381.4 672.5" stroke="#31688e" stroke-width="0.45" fill="none"/><path d="M382.9 673.5H386.3M384.6 671.8V675.2M383.4 672.3L385.8 674.7M383.4 674.7L385.8 672.3" stroke="#31688e" stroke-width="0.45" fill="none"/><path d="M386.9 673.9H390.3M388.6 672.2V675.6M387.4 672.7L389.8 675.1M387.4 675.1L389.8 672.7" stroke="#31688e" stroke-width="0.45" fill="none"/><path d="M390.6 673.2H394.0M392.3 671.5V674.9M391.1 672.0L393.5 674.4M391.1 674.4L393.5 672.0" stroke="#31688e" stroke-width="0.45" fill="none"/><path d="M395.9 670.2H399.3M397.6 668.5V671.9M396.4 669.0L398.8 671.4M396.4 671.4L398.8 669.0" stroke="#31688e" stroke-width="0.45" fill="none"/><path d="M400.6 668.2H404.0M402.3 666.5V669.9M401.1 667.0L403.5 669.4M401.1 669.4L403.5 667.0" stroke="#31688e" stroke-width="0.45" fill="none"/><path d="M405.4 666.1H408.8M407.1 664.4V667.8M405.9 664.9L408.3 667.3M405.9 667.3L408.3 664.9" stroke="#31688e" stroke-width="0.45" fill="none"/><path d="M410.1 661.8H413.5M411.8 660.1V663.5M410.6 660.6L413.0 663.0M410.6 663.0L413.0 660.6" stroke="#31688e" stroke-width="0.45" fill="none"/><path d="M414.5 661.2H417.9M416.2 659.5V662.9M415.0 660.0L417.4 662.4M415.0 662.4L417.4 660.0" stroke="#31688e" stroke-width="0.45" fill="none"/><path d="M419.0 660.2H422.4M420.7 658.5V661.9M419.5 659.0L421.9 661.4M419.5 661.4L421.9 659.0" stroke="#31688e" stroke-width="0.45" fill="none"/><path d="M423.4 658.2H426.8M425.1 656.5V659.9M423.9 657.0L426.3 659.4M423.9 659.4L426.3 657.0" stroke="#31688e" stroke-width="0.45" fill="none"/><path d="M426.8 658.2H430.2M428.5 656.5V659.9M427.3 657.0L429.7 659.4M427.3 659.4L429.7 657.0" stroke="#31688e" stroke-width="0.45" fill="none"/><path d="M430.4 656.0H433.8M432.1 654.3V657.7M430.9 654.8L433.3 657.2M430.9 657.2L433.3 654.8" stroke="#31688e" stroke-width="0.45" fill="none"/></g>
<g opacity="0.85"><path d="M385.9 777.6L387.5 779.2L385.9 780.8L384.3 779.2ZM384.3 779.2H387.5M385.9 777.6V780.8" stroke="#2c738e" stroke-width="0.45" fill="none"/><path d="M390.8 777.2L392.4 778.8L390.8 780.4L389.2 778.8ZM389.2 778.8H392.4M390.8 777.2V780.4" stroke="#2c738e" stroke-width="0.45" fill="none"/><path d="M395.7 776.7L397.3 778.3L395.7 779.9L394.1 778.3ZM394.1 778.3H397.3M395.7 776.7V779.9" stroke="#2c738e" stroke-width="0.45" fill="none"/><path d="M400.4 776.1L402.0 777.7L400.4 779.3L398.8 777.7ZM398.8 777.7H402.0M400.4 776.1V779.3" stroke="#2c738e" stroke-width="0.45" fill="none"/><path d="M405.2 776.3L406.8 777.9L405.2 779.5L403.6 777.9ZM403.6 777.9H406.8M405.2 776.3V779.5" stroke="#2c738e" stroke-width="0.45" fill="none"/><path d="M409.7 776.7L411.3 778.3L409.7 779.9L408.1 778.3ZM408.1 778.3H411.3M409.7 776.7V779.9" stroke="#2c738e" stroke-width="0.45" fill="none"/><path d="M414.5 776.8L416.1 778.4L414.5 780.0L412.9 778.4ZM412.9 778.4H416.1M414.5 776.8V780.0" stroke="#2c738e" stroke-width="0.45" fill="none"/><path d="M418.5 777.0L420.1 778.6L418.5 780.2L416.9 778.6ZM416.9 778.6H420.1M418.5 777.0V780.2" stroke="#2c738e" stroke-width="0.45" fill="none"/><path d="M422.7 777.0L424.3 778.6L422.7 780.2L421.1 778.6ZM421.1 778.6H424.3M422.7 777.0V780.2" stroke="#2c738e" stroke-width="0.45" fill="none"/><path d="M427.2 776.7L428.8 778.3L427.2 779.9L425.6 778.3ZM425.6 778.3H428.8M427.2 776.7V779.9" stroke="#2c738e" stroke-width="0.45" fill="none"/><path d="M431.1 776.8L432.7 778.4L431.1 780.0L429.5 778.4ZM429.5 778.4H432.7M431.1 776.8V780.0" stroke="#2c738e" stroke-width="0.45" fill="none"/><path d="M435.5 776.5L437.1 778.1L435.5 779.7L433.9 778.1ZM433.9 778.1H437.1M435.5 776.5V779.7" stroke="#2c738e" stroke-width="0.45" fill="none"/><path d="M439.5 776.3L441.1 777.9L439.5 779.5L437.9 777.9ZM437.9 777.9H441.1M439.5 776.3V779.5" stroke="#2c738e" stroke-width="0.45" fill="none"/><path d="M443.4 775.9L445.0 777.5L443.4 779.1L441.8 777.5ZM441.8 777.5H445.0M443.4 775.9V779.1" stroke="#2c738e" stroke-width="0.45" fill="none"/><path d="M447.2 775.3L448.8 776.9L447.2 778.5L445.6 776.9ZM445.6 776.9H448.8M447.2 775.3V778.5" stroke="#2c738e" stroke-width="0.45" fill="none"/><path d="M451.2 775.0L452.8 776.6L451.2 778.2L449.6 776.6ZM449.6 776.6H452.8M451.2 775.0V778.2" stroke="#2c738e" stroke-width="0.45" fill="none"/><path d="M455.3 774.8L456.9 776.4L455.3 778.0L453.7 776.4ZM453.7 776.4H456.9M455.3 774.8V778.0" stroke="#2c738e" stroke-width="0.45" fill="none"/><path d="M459.1 774.4L460.7 776.0L459.1 777.6L457.5 776.0ZM457.5 776.0H460.7M459.1 774.4V777.6" stroke="#2c738e" stroke-width="0.45" fill="none"/><path d="M465.0 773.9L466.6 775.5L465.0 777.1L463.4 775.5ZM463.4 775.5H466.6M465.0 773.9V777.1" stroke="#2c738e" stroke-width="0.45" fill="none"/><path d="M472.0 773.2L473.6 774.8L472.0 776.4L470.4 774.8ZM470.4 774.8H473.6M472.0 773.2V776.4" stroke="#2c738e" stroke-width="0.45" fill="none"/><path d="M479.0 772.4L480.6 774.0L479.0 775.6L477.4 774.0ZM477.4 774.0H480.6M479.0 772.4V775.6" stroke="#2c738e" stroke-width="0.45" fill="none"/><path d="M485.0 771.5L486.6 773.1L485.0 774.7L483.4 773.1ZM483.4 773.1H486.6M485.0 771.5V774.7" stroke="#2c738e" stroke-width="0.45" fill="none"/><path d="M491.7 770.3L493.3 771.9L491.7 773.5L490.1 771.9ZM490.1 771.9H493.3M491.7 770.3V773.5" stroke="#2c738e" stroke-width="0.45" fill="none"/><path d="M497.8 769.7L499.4 771.3L497.8 772.9L496.2 771.3ZM496.2 771.3H499.4M497.8 769.7V772.9" stroke="#2c738e" stroke-width="0.45" fill="none"/><path d="M503.6 771.0L505.2 772.6L503.6 774.2L502.0 772.6ZM502.0 772.6H505.2M503.6 771.0V774.2" stroke="#2c738e" stroke-width="0.45" fill="none"/><path d="M510.7 769.7L512.3 771.3L510.7 772.9L509.1 771.3ZM509.1 771.3H512.3M510.7 769.7V772.9" stroke="#2c738e" stroke-width="0.45" fill="none"/><path d="M513.5 769.1L515.1 770.7L513.5 772.3L511.9 770.7ZM511.9 770.7H515.1M513.5 769.1V772.3" stroke="#2c738e" stroke-width="0.45" fill="none"/></g>
<g opacity="0.85"><path d="M298.9 666.2L300.3 667.6L298.9 669.0L297.5 667.6ZM297.5 667.6H300.3M298.9 666.2V669.0" stroke="#277f8e" stroke-width="0.45" fill="none" stroke-width="0.6"/><path d="M302.8 665.9L304.2 667.3L302.8 668.7L301.4 667.3ZM301.4 667.3H304.2M302.8 665.9V668.7" stroke="#277f8e" stroke-width="0.45" fill="none" stroke-width="0.6"/><path d="M306.6 664.5L308.0 665.9L306.6 667.3L305.2 665.9ZM305.2 665.9H308.0M306.6 664.5V667.3" stroke="#277f8e" stroke-width="0.45" fill="none" stroke-width="0.6"/><path d="M311.2 665.2L312.6 666.6L311.2 668.0L309.8 666.6ZM309.8 666.6H312.6M311.2 665.2V668.0" stroke="#277f8e" stroke-width="0.45" fill="none" stroke-width="0.6"/><path d="M315.9 666.4L317.3 667.8L315.9 669.2L314.5 667.8ZM314.5 667.8H317.3M315.9 666.4V669.2" stroke="#277f8e" stroke-width="0.45" fill="none" stroke-width="0.6"/><path d="M320.3 667.2L321.7 668.6L320.3 670.0L318.9 668.6ZM318.9 668.6H321.7M320.3 667.2V670.0" stroke="#277f8e" stroke-width="0.45" fill="none" stroke-width="0.6"/><path d="M324.1 668.6L325.5 670.0L324.1 671.4L322.7 670.0ZM322.7 670.0H325.5M324.1 668.6V671.4" stroke="#277f8e" stroke-width="0.45" fill="none" stroke-width="0.6"/><path d="M328.2 671.3L329.6 672.7L328.2 674.1L326.8 672.7ZM326.8 672.7H329.6M328.2 671.3V674.1" stroke="#277f8e" stroke-width="0.45" fill="none" stroke-width="0.6"/><path d="M326.4 675.0L327.8 676.4L326.4 677.8L325.0 676.4ZM325.0 676.4H327.8M326.4 675.0V677.8" stroke="#277f8e" stroke-width="0.45" fill="none" stroke-width="0.6"/><path d="M334.3 673.2L335.7 674.6L334.3 676.0L332.9 674.6ZM332.9 674.6H335.7M334.3 673.2V676.0" stroke="#277f8e" stroke-width="0.45" fill="none" stroke-width="0.6"/><path d="M336.9 670.6L338.3 672.0L336.9 673.4L335.5 672.0ZM335.5 672.0H338.3M336.9 670.6V673.4" stroke="#277f8e" stroke-width="0.45" fill="none" stroke-width="0.6"/><path d="M340.1 668.0L341.5 669.4L340.1 670.8L338.7 669.4ZM338.7 669.4H341.5M340.1 668.0V670.8" stroke="#277f8e" stroke-width="0.45" fill="none" stroke-width="0.6"/><path d="M342.7 661.2L344.1 662.6L342.7 664.0L341.3 662.6ZM341.3 662.6H344.1M342.7 661.2V664.0" stroke="#277f8e" stroke-width="0.45" fill="none" stroke-width="0.6"/><path d="M345.2 658.8L346.6 660.2L345.2 661.6L343.8 660.2ZM343.8 660.2H346.6M345.2 658.8V661.6" stroke="#277f8e" stroke-width="0.45" fill="none" stroke-width="0.6"/><path d="M348.3 654.4L349.7 655.8L348.3 657.2L346.9 655.8ZM346.9 655.8H349.7M348.3 654.4V657.2" stroke="#277f8e" stroke-width="0.45" fill="none" stroke-width="0.6"/><path d="M351.8 658.0L353.2 659.4L351.8 660.8L350.4 659.4ZM350.4 659.4H353.2M351.8 658.0V660.8" stroke="#277f8e" stroke-width="0.45" fill="none" stroke-width="0.6"/><path d="M355.7 653.5L357.1 654.9L355.7 656.3L354.3 654.9ZM354.3 654.9H357.1M355.7 653.5V656.3" stroke="#277f8e" stroke-width="0.45" fill="none" stroke-width="0.6"/><path d="M360.2 652.8L361.6 654.2L360.2 655.6L358.8 654.2ZM358.8 654.2H361.6M360.2 652.8V655.6" stroke="#277f8e" stroke-width="0.45" fill="none" stroke-width="0.6"/><path d="M365.5 649.2L366.9 650.6L365.5 652.0L364.1 650.6ZM364.1 650.6H366.9M365.5 649.2V652.0" stroke="#277f8e" stroke-width="0.45" fill="none" stroke-width="0.6"/><path d="M370.2 649.4L371.6 650.8L370.2 652.2L368.8 650.8ZM368.8 650.8H371.6M370.2 649.4V652.2" stroke="#277f8e" stroke-width="0.45" fill="none" stroke-width="0.6"/><path d="M375.1 645.2L376.5 646.6L375.1 648.0L373.7 646.6ZM373.7 646.6H376.5M375.1 645.2V648.0" stroke="#277f8e" stroke-width="0.45" fill="none" stroke-width="0.6"/><path d="M380.2 640.4L381.6 641.8L380.2 643.2L378.8 641.8ZM378.8 641.8H381.6M380.2 640.4V643.2" stroke="#277f8e" stroke-width="0.45" fill="none" stroke-width="0.6"/><path d="M385.1 638.9L386.5 640.3L385.1 641.7L383.7 640.3ZM383.7 640.3H386.5M385.1 638.9V641.7" stroke="#277f8e" stroke-width="0.45" fill="none" stroke-width="0.6"/><path d="M389.0 639.3L390.4 640.7L389.0 642.1L387.6 640.7ZM387.6 640.7H390.4M389.0 639.3V642.1" stroke="#277f8e" stroke-width="0.45" fill="none" stroke-width="0.6"/><path d="M393.0 637.5L394.4 638.9L393.0 640.3L391.6 638.9ZM391.6 638.9H394.4M393.0 637.5V640.3" stroke="#277f8e" stroke-width="0.45" fill="none" stroke-width="0.6"/><path d="M396.5 636.7L397.9 638.1L396.5 639.5L395.1 638.1ZM395.1 638.1H397.9M396.5 636.7V639.5" stroke="#277f8e" stroke-width="0.45" fill="none" stroke-width="0.6"/><path d="M401.7 639.4L403.1 640.8L401.7 642.2L400.3 640.8ZM400.3 640.8H403.1M401.7 639.4V642.2" stroke="#277f8e" stroke-width="0.45" fill="none" stroke-width="0.6"/><path d="M405.0 634.1L406.4 635.5L405.0 636.9L403.6 635.5ZM403.6 635.5H406.4M405.0 634.1V636.9" stroke="#277f8e" stroke-width="0.45" fill="none" stroke-width="0.6"/><path d="M408.2 630.1L409.6 631.5L408.2 632.9L406.8 631.5ZM406.8 631.5H409.6M408.2 630.1V632.9" stroke="#277f8e" stroke-width="0.45" fill="none" stroke-width="0.6"/><path d="M411.5 627.4L412.9 628.8L411.5 630.2L410.1 628.8ZM410.1 628.8H412.9M411.5 627.4V630.2" stroke="#277f8e" stroke-width="0.45" fill="none" stroke-width="0.6"/><path d="M414.8 621.1L416.2 622.5L414.8 623.9L413.4 622.5ZM413.4 622.5H416.2M414.8 621.1V623.9" stroke="#277f8e" stroke-width="0.45" fill="none" stroke-width="0.6"/><path d="M417.7 616.3L419.1 617.7L417.7 619.1L416.3 617.7ZM416.3 617.7H419.1M417.7 616.3V619.1" stroke="#277f8e" stroke-width="0.45" fill="none" stroke-width="0.6"/><path d="M420.7 611.4L422.1 612.8L420.7 614.2L419.3 612.8ZM419.3 612.8H422.1M420.7 611.4V614.2" stroke="#277f8e" stroke-width="0.45" fill="none" stroke-width="0.6"/><path d="M423.6 607.4L425.0 608.8L423.6 610.2L422.2 608.8ZM422.2 608.8H425.0M423.6 607.4V610.2" stroke="#277f8e" stroke-width="0.45" fill="none" stroke-width="0.6"/><path d="M426.2 602.1L427.6 603.5L426.2 604.9L424.8 603.5ZM424.8 603.5H427.6M426.2 602.1V604.9" stroke="#277f8e" stroke-width="0.45" fill="none" stroke-width="0.6"/><path d="M429.0 600.9L430.4 602.3L429.0 603.7L427.6 602.3ZM427.6 602.3H430.4M429.0 600.9V603.7" stroke="#277f8e" stroke-width="0.45" fill="none" stroke-width="0.6"/><path d="M431.9 604.3L433.3 605.7L431.9 607.1L430.5 605.7ZM430.5 605.7H433.3M431.9 604.3V607.1" stroke="#277f8e" stroke-width="0.45" fill="none" stroke-width="0.6"/></g>
<g opacity="0.72"><path d="M429.0 785.0L430.5 787.4L427.5 787.4ZM429.0 788.0L430.5 785.6L427.5 785.6Z" stroke="#238a8d" stroke-width="0.45" fill="none"/><path d="M433.5 785.4L434.9 787.8L432.0 787.8ZM433.5 788.4L434.9 786.0L432.0 786.0Z" stroke="#238a8d" stroke-width="0.45" fill="none"/><path d="M437.9 785.2L439.4 787.6L436.4 787.6ZM437.9 788.2L439.4 785.8L436.4 785.8Z" stroke="#238a8d" stroke-width="0.45" fill="none"/><path d="M442.4 784.8L443.9 787.2L440.9 787.2ZM442.4 787.8L443.9 785.4L440.9 785.4Z" stroke="#238a8d" stroke-width="0.45" fill="none"/><path d="M446.8 784.7L448.3 787.1L445.3 787.1ZM446.8 787.7L448.3 785.3L445.3 785.3Z" stroke="#238a8d" stroke-width="0.45" fill="none"/><path d="M451.3 785.2L452.8 787.6L449.8 787.6ZM451.3 788.2L452.8 785.8L449.8 785.8Z" stroke="#238a8d" stroke-width="0.45" fill="none"/><path d="M455.7 785.5L457.2 787.9L454.2 787.9ZM455.7 788.5L457.2 786.1L454.2 786.1Z" stroke="#238a8d" stroke-width="0.45" fill="none"/><path d="M460.2 785.2L461.7 787.6L458.7 787.6ZM460.2 788.2L461.7 785.8L458.7 785.8Z" stroke="#238a8d" stroke-width="0.45" fill="none"/><path d="M464.6 784.8L466.1 787.2L463.1 787.2ZM464.6 787.8L466.1 785.4L463.1 785.4Z" stroke="#238a8d" stroke-width="0.45" fill="none"/><path d="M469.1 784.8L470.6 787.2L467.6 787.2ZM469.1 787.8L470.6 785.4L467.6 785.4Z" stroke="#238a8d" stroke-width="0.45" fill="none"/><path d="M473.5 785.3L475.0 787.7L472.0 787.7ZM473.5 788.3L475.0 785.9L472.0 785.9Z" stroke="#238a8d" stroke-width="0.45" fill="none"/><path d="M478.0 785.6L479.5 788.0L476.5 788.0ZM478.0 788.6L479.5 786.2L476.5 786.2Z" stroke="#238a8d" stroke-width="0.45" fill="none"/><path d="M482.4 785.2L483.9 787.6L480.9 787.6ZM482.4 788.2L483.9 785.8L480.9 785.8Z" stroke="#238a8d" stroke-width="0.45" fill="none"/><path d="M486.9 784.8L488.4 787.2L485.4 787.2ZM486.9 787.8L488.4 785.4L485.4 785.4Z" stroke="#238a8d" stroke-width="0.45" fill="none"/><path d="M491.3 785.0L492.8 787.4L489.8 787.4ZM491.3 788.0L492.8 785.6L489.8 785.6Z" stroke="#238a8d" stroke-width="0.45" fill="none"/><path d="M495.8 785.5L497.3 787.9L494.3 787.9ZM495.8 788.5L497.3 786.1L494.3 786.1Z" stroke="#238a8d" stroke-width="0.45" fill="none"/><path d="M500.2 785.6L501.7 788.0L498.7 788.0ZM500.2 788.6L501.7 786.2L498.7 786.2Z" stroke="#238a8d" stroke-width="0.45" fill="none"/><path d="M504.7 785.2L506.2 787.6L503.2 787.6ZM504.7 788.2L506.2 785.8L503.2 785.8Z" stroke="#238a8d" stroke-width="0.45" fill="none"/><path d="M509.1 784.9L510.6 787.3L507.6 787.3ZM509.1 787.9L510.6 785.5L507.6 785.5Z" stroke="#238a8d" stroke-width="0.45" fill="none"/><path d="M513.6 785.1L515.1 787.5L512.1 787.5ZM513.6 788.1L515.1 785.7L512.1 785.7Z" stroke="#238a8d" stroke-width="0.45" fill="none"/><path d="M518.0 785.6L519.5 788.0L516.5 788.0ZM518.0 788.6L519.5 786.2L516.5 786.2Z" stroke="#238a8d" stroke-width="0.45" fill="none"/><path d="M522.5 785.7L524.0 788.1L521.0 788.1ZM522.5 788.7L524.0 786.3L521.0 786.3Z" stroke="#238a8d" stroke-width="0.45" fill="none"/><path d="M526.9 785.2L528.4 787.6L525.4 787.6ZM526.9 788.2L528.4 785.8L525.4 785.8Z" stroke="#238a8d" stroke-width="0.45" fill="none"/><path d="M531.4 785.0L532.9 787.4L529.9 787.4ZM531.4 788.0L532.9 785.6L529.9 785.6Z" stroke="#238a8d" stroke-width="0.45" fill="none"/><path d="M535.8 785.3L537.3 787.7L534.3 787.7ZM535.8 788.3L537.3 785.9L534.3 785.9Z" stroke="#238a8d" stroke-width="0.45" fill="none"/><path d="M540.3 785.8L541.8 788.2L538.8 788.2ZM540.3 788.8L541.8 786.4L538.8 786.4Z" stroke="#238a8d" stroke-width="0.45" fill="none"/><path d="M544.7 785.7L546.2 788.1L543.2 788.1ZM544.7 788.7L546.2 786.3L543.2 786.3Z" stroke="#238a8d" stroke-width="0.45" fill="none"/><path d="M549.2 785.2L550.7 787.6L547.7 787.6ZM549.2 788.2L550.7 785.8L547.7 785.8Z" stroke="#238a8d" stroke-width="0.45" fill="none"/><path d="M553.6 785.1L555.1 787.5L552.1 787.5ZM553.6 788.1L555.1 785.7L552.1 785.7Z" stroke="#238a8d" stroke-width="0.45" fill="none"/><path d="M558.1 785.5L559.6 787.9L556.6 787.9ZM558.1 788.5L559.6 786.1L556.6 786.1Z" stroke="#238a8d" stroke-width="0.45" fill="none"/><path d="M562.5 785.9L564.0 788.3L561.1 788.3ZM562.5 788.9L564.0 786.5L561.1 786.5Z" stroke="#238a8d" stroke-width="0.45" fill="none"/><path d="M567.0 785.7L568.5 788.1L565.5 788.1ZM567.0 788.7L568.5 786.3L565.5 786.3Z" stroke="#238a8d" stroke-width="0.45" fill="none"/></g>
<g opacity="0.72"><path d="M450.7 779.2h2.6v2.6h-2.6ZM450.7 779.2L453.3 781.8M450.7 781.8L453.3 779.2" stroke="#1f968b" stroke-width="0.45" fill="none"/><path d="M454.8 779.7h2.6v2.6h-2.6ZM454.8 779.7L457.4 782.3M454.8 782.3L457.4 779.7" stroke="#1f968b" stroke-width="0.45" fill="none"/><path d="M459.0 779.4h2.6v2.6h-2.6ZM459.0 779.4L461.6 782.0M459.0 782.0L461.6 779.4" stroke="#1f968b" stroke-width="0.45" fill="none"/><path d="M463.1 778.7h2.6v2.6h-2.6ZM463.1 778.7L465.7 781.2M463.1 781.2L465.7 778.7" stroke="#1f968b" stroke-width="0.45" fill="none"/><path d="M467.3 778.5h2.6v2.6h-2.6ZM467.3 778.5L469.8 781.1M467.3 781.1L469.8 778.5" stroke="#1f968b" stroke-width="0.45" fill="none"/><path d="M471.4 779.1h2.6v2.6h-2.6ZM471.4 779.1L474.0 781.7M471.4 781.7L474.0 779.1" stroke="#1f968b" stroke-width="0.45" fill="none"/><path d="M475.5 779.5h2.6v2.6h-2.6ZM475.5 779.5L478.1 782.1M475.5 782.1L478.1 779.5" stroke="#1f968b" stroke-width="0.45" fill="none"/><path d="M479.7 779.1h2.6v2.6h-2.6ZM479.7 779.1L482.3 781.7M479.7 781.7L482.3 779.1" stroke="#1f968b" stroke-width="0.45" fill="none"/><path d="M483.8 778.4h2.6v2.6h-2.6ZM483.8 778.4L486.4 780.9M483.8 780.9L486.4 778.4" stroke="#1f968b" stroke-width="0.45" fill="none"/><path d="M487.9 778.3h2.6v2.6h-2.6ZM487.9 778.3L490.5 780.9M487.9 780.9L490.5 778.3" stroke="#1f968b" stroke-width="0.45" fill="none"/><path d="M492.1 779.0h2.6v2.6h-2.6ZM492.1 779.0L494.7 781.6M492.1 781.6L494.7 779.0" stroke="#1f968b" stroke-width="0.45" fill="none"/><path d="M496.2 779.3h2.6v2.6h-2.6ZM496.2 779.3L498.8 781.9M496.2 781.9L498.8 779.3" stroke="#1f968b" stroke-width="0.45" fill="none"/><path d="M500.4 778.7h2.6v2.6h-2.6ZM500.4 778.7L502.9 781.3M500.4 781.3L502.9 778.7" stroke="#1f968b" stroke-width="0.45" fill="none"/><path d="M504.5 778.1h2.6v2.6h-2.6ZM504.5 778.1L507.1 780.7M504.5 780.7L507.1 778.1" stroke="#1f968b" stroke-width="0.45" fill="none"/><path d="M508.6 778.2h2.6v2.6h-2.6ZM508.6 778.2L511.2 780.8M508.6 780.8L511.2 778.2" stroke="#1f968b" stroke-width="0.45" fill="none"/><path d="M512.8 778.9h2.6v2.6h-2.6ZM512.8 778.9L515.4 781.5M512.8 781.5L515.4 778.9" stroke="#1f968b" stroke-width="0.45" fill="none"/><path d="M516.9 779.0h2.6v2.6h-2.6ZM516.9 779.0L519.5 781.6M516.9 781.6L519.5 779.0" stroke="#1f968b" stroke-width="0.45" fill="none"/><path d="M521.1 778.4h2.6v2.6h-2.6ZM521.1 778.4L523.6 781.0M521.1 781.0L523.6 778.4" stroke="#1f968b" stroke-width="0.45" fill="none"/><path d="M525.2 777.8h2.6v2.6h-2.6ZM525.2 777.8L527.8 780.4M525.2 780.4L527.8 777.8" stroke="#1f968b" stroke-width="0.45" fill="none"/><path d="M529.3 778.1h2.6v2.6h-2.6ZM529.3 778.1L531.9 780.7M529.3 780.7L531.9 778.1" stroke="#1f968b" stroke-width="0.45" fill="none"/><path d="M533.5 778.8h2.6v2.6h-2.6ZM533.5 778.8L536.1 781.4M533.5 781.4L536.1 778.8" stroke="#1f968b" stroke-width="0.45" fill="none"/><path d="M537.6 778.8h2.6v2.6h-2.6ZM537.6 778.8L540.2 781.3M537.6 781.3L540.2 778.8" stroke="#1f968b" stroke-width="0.45" fill="none"/><path d="M541.7 778.0h2.6v2.6h-2.6ZM541.7 778.0L544.3 780.6M541.7 780.6L544.3 778.0" stroke="#1f968b" stroke-width="0.45" fill="none"/><path d="M545.9 777.6h2.6v2.6h-2.6ZM545.9 777.6L548.5 780.2M545.9 780.2L548.5 777.6" stroke="#1f968b" stroke-width="0.45" fill="none"/><path d="M550.0 778.0h2.6v2.6h-2.6ZM550.0 778.0L552.6 780.6M550.0 780.6L552.6 778.0" stroke="#1f968b" stroke-width="0.45" fill="none"/><path d="M554.2 778.6h2.6v2.6h-2.6ZM554.2 778.6L556.7 781.2M554.2 781.2L556.7 778.6" stroke="#1f968b" stroke-width="0.45" fill="none"/><path d="M558.3 778.5h2.6v2.6h-2.6ZM558.3 778.5L560.9 781.0M558.3 781.0L560.9 778.5" stroke="#1f968b" stroke-width="0.45" fill="none"/><path d="M562.4 777.7h2.6v2.6h-2.6ZM562.4 777.7L565.0 780.3M562.4 780.3L565.0 777.7" stroke="#1f968b" stroke-width="0.45" fill="none"/><path d="M566.6 777.4h2.6v2.6h-2.6ZM566.6 777.4L569.2 780.0M566.6 780.0L569.2 777.4" stroke="#1f968b" stroke-width="0.45" fill="none"/><path d="M570.7 777.9h2.6v2.6h-2.6ZM570.7 777.9L573.3 780.5M570.7 780.5L573.3 777.9" stroke="#1f968b" stroke-width="0.45" fill="none"/></g>
<g opacity="0.72"><path d="M355.3 760.7h2.6v2.6h-2.6ZM355.3 760.7L357.9 763.3M355.3 763.3L357.9 760.7" stroke="#1fa187" stroke-width="0.45" fill="none"/><path d="M357.6 757.9h2.6v2.6h-2.6ZM357.6 757.9L360.2 760.5M357.6 760.5L360.2 757.9" stroke="#1fa187" stroke-width="0.45" fill="none"/><path d="M358.8 752.3h2.6v2.6h-2.6ZM358.8 752.3L361.4 754.9M358.8 754.9L361.4 752.3" stroke="#1fa187" stroke-width="0.45" fill="none"/><path d="M361.1 746.1h2.6v2.6h-2.6ZM361.1 746.1L363.7 748.7M361.1 748.7L363.7 746.1" stroke="#1fa187" stroke-width="0.45" fill="none"/><path d="M364.6 742.2h2.6v2.6h-2.6ZM364.6 742.2L367.2 744.8M364.6 744.8L367.2 742.2" stroke="#1fa187" stroke-width="0.45" fill="none"/><path d="M369.4 743.7h2.6v2.6h-2.6ZM369.4 743.7L372.0 746.3M369.4 746.3L372.0 743.7" stroke="#1fa187" stroke-width="0.45" fill="none"/><path d="M373.7 743.6h2.6v2.6h-2.6ZM373.7 743.6L376.3 746.2M373.7 746.2L376.3 743.6" stroke="#1fa187" stroke-width="0.45" fill="none"/><path d="M379.0 743.1h2.6v2.6h-2.6ZM379.0 743.1L381.6 745.7M379.0 745.7L381.6 743.1" stroke="#1fa187" stroke-width="0.45" fill="none"/><path d="M383.9 743.2h2.6v2.6h-2.6ZM383.9 743.2L386.5 745.8M383.9 745.8L386.5 743.2" stroke="#1fa187" stroke-width="0.45" fill="none"/><path d="M388.6 743.1h2.6v2.6h-2.6ZM388.6 743.1L391.2 745.7M388.6 745.7L391.2 743.1" stroke="#1fa187" stroke-width="0.45" fill="none"/><path d="M393.0 742.2h2.6v2.6h-2.6ZM393.0 742.2L395.6 744.8M393.0 744.8L395.6 742.2" stroke="#1fa187" stroke-width="0.45" fill="none"/><path d="M397.4 741.8h2.6v2.6h-2.6ZM397.4 741.8L400.0 744.4M397.4 744.4L400.0 741.8" stroke="#1fa187" stroke-width="0.45" fill="none"/><path d="M402.1 741.1h2.6v2.6h-2.6ZM402.1 741.1L404.7 743.7M402.1 743.7L404.7 741.1" stroke="#1fa187" stroke-width="0.45" fill="none"/><path d="M406.7 741.0h2.6v2.6h-2.6ZM406.7 741.0L409.3 743.6M406.7 743.6L409.3 741.0" stroke="#1fa187" stroke-width="0.45" fill="none"/><path d="M412.3 740.4h2.6v2.6h-2.6ZM412.3 740.4L414.9 743.0M412.3 743.0L414.9 740.4" stroke="#1fa187" stroke-width="0.45" fill="none"/><path d="M418.4 740.4h2.6v2.6h-2.6ZM418.4 740.4L421.0 743.0M418.4 743.0L421.0 740.4" stroke="#1fa187" stroke-width="0.45" fill="none"/><path d="M424.5 737.5h2.6v2.6h-2.6ZM424.5 737.5L427.1 740.1M424.5 740.1L427.1 737.5" stroke="#1fa187" stroke-width="0.45" fill="none"/><path d="M429.8 736.3h2.6v2.6h-2.6ZM429.8 736.3L432.4 738.9M429.8 738.9L432.4 736.3" stroke="#1fa187" stroke-width="0.45" fill="none"/><path d="M434.7 733.2h2.6v2.6h-2.6ZM434.7 733.2L437.3 735.8M434.7 735.8L437.3 733.2" stroke="#1fa187" stroke-width="0.45" fill="none"/><path d="M440.8 727.2h2.6v2.6h-2.6ZM440.8 727.2L443.4 729.8M440.8 729.8L443.4 727.2" stroke="#1fa187" stroke-width="0.45" fill="none"/><path d="M444.9 726.4h2.6v2.6h-2.6ZM444.9 726.4L447.5 729.0M444.9 729.0L447.5 726.4" stroke="#1fa187" stroke-width="0.45" fill="none"/><path d="M449.6 726.9h2.6v2.6h-2.6ZM449.6 726.9L452.2 729.5M449.6 729.5L452.2 726.9" stroke="#1fa187" stroke-width="0.45" fill="none"/><path d="M453.1 729.9h2.6v2.6h-2.6ZM453.1 729.9L455.7 732.5M453.1 732.5L455.7 729.9" stroke="#1fa187" stroke-width="0.45" fill="none"/><path d="M457.7 730.5h2.6v2.6h-2.6ZM457.7 730.5L460.3 733.1M457.7 733.1L460.3 730.5" stroke="#1fa187" stroke-width="0.45" fill="none"/><path d="M460.7 732.1h2.6v2.6h-2.6ZM460.7 732.1L463.3 734.7M460.7 734.7L463.3 732.1" stroke="#1fa187" stroke-width="0.45" fill="none"/></g>
<g opacity="0.72"><path d="M256.3 743.0h2.6v2.6h-2.6ZM256.3 745.6L257.6 743.0L258.9 745.6" stroke="#26ad81" stroke-width="0.45" fill="none"/><path d="M263.7 742.7h2.6v2.6h-2.6ZM263.7 745.3L265.0 742.7L266.3 745.3" stroke="#26ad81" stroke-width="0.45" fill="none"/><path d="M270.5 742.0h2.6v2.6h-2.6ZM270.5 744.6L271.8 742.0L273.1 744.6" stroke="#26ad81" stroke-width="0.45" fill="none"/><path d="M277.5 740.0h2.6v2.6h-2.6ZM277.5 742.6L278.8 740.0L280.1 742.6" stroke="#26ad81" stroke-width="0.45" fill="none"/><path d="M284.6 737.9h2.6v2.6h-2.6ZM284.6 740.5L285.9 737.9L287.2 740.5" stroke="#26ad81" stroke-width="0.45" fill="none"/><path d="M291.8 736.8h2.6v2.6h-2.6ZM291.8 739.4L293.1 736.8L294.4 739.4" stroke="#26ad81" stroke-width="0.45" fill="none"/><path d="M298.4 735.2h2.6v2.6h-2.6ZM298.4 737.8L299.7 735.2L301.0 737.8" stroke="#26ad81" stroke-width="0.45" fill="none"/><path d="M304.7 734.8h2.6v2.6h-2.6ZM304.7 737.4L306.0 734.8L307.3 737.4" stroke="#26ad81" stroke-width="0.45" fill="none"/><path d="M311.3 734.8h2.6v2.6h-2.6ZM311.3 737.4L312.6 734.8L313.9 737.4" stroke="#26ad81" stroke-width="0.45" fill="none"/><path d="M317.8 733.9h2.6v2.6h-2.6ZM317.8 736.5L319.1 733.9L320.4 736.5" stroke="#26ad81" stroke-width="0.45" fill="none"/><path d="M324.4 733.9h2.6v2.6h-2.6ZM324.4 736.5L325.7 733.9L327.0 736.5" stroke="#26ad81" stroke-width="0.45" fill="none"/><path d="M330.7 733.2h2.6v2.6h-2.6ZM330.7 735.8L332.0 733.2L333.3 735.8" stroke="#26ad81" stroke-width="0.45" fill="none"/><path d="M336.4 731.6h2.6v2.6h-2.6ZM336.4 734.2L337.7 731.6L339.0 734.2" stroke="#26ad81" stroke-width="0.45" fill="none"/><path d="M342.7 731.7h2.6v2.6h-2.6ZM342.7 734.3L344.0 731.7L345.3 734.3" stroke="#26ad81" stroke-width="0.45" fill="none"/><path d="M348.8 727.5h2.6v2.6h-2.6ZM348.8 730.1L350.1 727.5L351.4 730.1" stroke="#26ad81" stroke-width="0.45" fill="none"/><path d="M354.7 724.7h2.6v2.6h-2.6ZM354.7 727.3L356.0 724.7L357.3 727.3" stroke="#26ad81" stroke-width="0.45" fill="none"/><path d="M360.7 721.2h2.6v2.6h-2.6ZM360.7 723.8L362.0 721.2L363.3 723.8" stroke="#26ad81" stroke-width="0.45" fill="none"/><path d="M367.4 718.2h2.6v2.6h-2.6ZM367.4 720.8L368.7 718.2L370.0 720.8" stroke="#26ad81" stroke-width="0.45" fill="none"/><path d="M372.1 716.2h2.6v2.6h-2.6ZM372.1 718.8L373.4 716.2L374.7 718.8" stroke="#26ad81" stroke-width="0.45" fill="none"/><path d="M375.9 713.9h2.6v2.6h-2.6ZM375.9 716.5L377.2 713.9L378.5 716.5" stroke="#26ad81" stroke-width="0.45" fill="none"/><path d="M380.7 711.1h2.6v2.6h-2.6ZM380.7 713.7L382.0 711.1L383.3 713.7" stroke="#26ad81" stroke-width="0.45" fill="none"/><path d="M385.4 707.3h2.6v2.6h-2.6ZM385.4 709.9L386.7 707.3L388.0 709.9" stroke="#26ad81" stroke-width="0.45" fill="none"/><path d="M390.6 704.2h2.6v2.6h-2.6ZM390.6 706.8L391.9 704.2L393.2 706.8" stroke="#26ad81" stroke-width="0.45" fill="none"/><path d="M396.7 702.6h2.6v2.6h-2.6ZM396.7 705.2L398.0 702.6L399.3 705.2" stroke="#26ad81" stroke-width="0.45" fill="none"/><path d="M402.6 699.0h2.6v2.6h-2.6ZM402.6 701.6L403.9 699.0L405.2 701.6" stroke="#26ad81" stroke-width="0.45" fill="none"/><path d="M409.2 695.8h2.6v2.6h-2.6ZM409.2 698.4L410.5 695.8L411.8 698.4" stroke="#26ad81" stroke-width="0.45" fill="none"/><path d="M415.7 693.4h2.6v2.6h-2.6ZM415.7 696.0L417.0 693.4L418.3 696.0" stroke="#26ad81" stroke-width="0.45" fill="none"/><path d="M421.9 690.9h2.6v2.6h-2.6ZM421.9 693.5L423.2 690.9L424.5 693.5" stroke="#26ad81" stroke-width="0.45" fill="none"/><path d="M428.2 689.0h2.6v2.6h-2.6ZM428.2 691.6L429.5 689.0L430.8 691.6" stroke="#26ad81" stroke-width="0.45" fill="none"/><path d="M434.2 686.3h2.6v2.6h-2.6ZM434.2 688.9L435.5 686.3L436.8 688.9" stroke="#26ad81" stroke-width="0.45" fill="none"/><path d="M439.6 684.2h2.6v2.6h-2.6ZM439.6 686.8L440.9 684.2L442.2 686.8" stroke="#26ad81" stroke-width="0.45" fill="none"/><path d="M445.3 681.5h2.6v2.6h-2.6ZM445.3 684.1L446.6 681.5L447.9 684.1" stroke="#26ad81" stroke-width="0.45" fill="none"/></g>
<g opacity="0.95"><rect x="155.0" y="728.2" width="2.6" height="2.6" fill="#35b779"/><rect x="160.6" y="727.0" width="2.6" height="2.6" fill="#35b779"/><rect x="165.7" y="725.5" width="2.6" height="2.6" fill="#35b779"/><rect x="171.0" y="724.2" width="2.6" height="2.6" fill="#35b779"/><rect x="176.5" y="721.2" width="2.6" height="2.6" fill="#35b779"/><rect x="182.0" y="719.8" width="2.6" height="2.6" fill="#35b779"/><rect x="187.7" y="718.4" width="2.6" height="2.6" fill="#35b779"/><rect x="193.5" y="717.3" width="2.6" height="2.6" fill="#35b779"/><rect x="199.0" y="715.8" width="2.6" height="2.6" fill="#35b779"/><rect x="204.5" y="714.1" width="2.6" height="2.6" fill="#35b779"/><rect x="209.8" y="713.6" width="2.6" height="2.6" fill="#35b779"/><rect x="215.3" y="713.6" width="2.6" height="2.6" fill="#35b779"/><rect x="220.4" y="713.0" width="2.6" height="2.6" fill="#35b779"/><rect x="225.2" y="712.4" width="2.6" height="2.6" fill="#35b779"/><rect x="230.3" y="710.2" width="2.6" height="2.6" fill="#35b779"/><rect x="236.4" y="707.9" width="2.6" height="2.6" fill="#35b779"/><rect x="242.5" y="706.8" width="2.6" height="2.6" fill="#35b779"/><rect x="249.1" y="705.3" width="2.6" height="2.6" fill="#35b779"/><rect x="255.8" y="703.1" width="2.6" height="2.6" fill="#35b779"/><rect x="263.0" y="700.9" width="2.6" height="2.6" fill="#35b779"/><rect x="270.5" y="699.0" width="2.6" height="2.6" fill="#35b779"/><rect x="278.6" y="697.3" width="2.6" height="2.6" fill="#35b779"/><rect x="286.7" y="696.3" width="2.6" height="2.6" fill="#35b779"/><rect x="295.7" y="695.0" width="2.6" height="2.6" fill="#35b779"/><rect x="304.8" y="694.1" width="2.6" height="2.6" fill="#35b779"/><rect x="313.9" y="692.9" width="2.6" height="2.6" fill="#35b779"/><rect x="323.4" y="692.2" width="2.6" height="2.6" fill="#35b779"/><rect x="331.3" y="690.5" width="2.6" height="2.6" fill="#35b779"/><rect x="339.5" y="689.5" width="2.6" height="2.6" fill="#35b779"/><rect x="347.1" y="688.1" width="2.6" height="2.6" fill="#35b779"/><rect x="353.5" y="686.3" width="2.6" height="2.6" fill="#35b779"/><rect x="359.2" y="683.3" width="2.6" height="2.6" fill="#35b779"/></g>
<g opacity="0.95"><circle cx="280.4" cy="724.6" r="1.16" fill="#4ac16d"/><circle cx="286.8" cy="723.7" r="1.16" fill="#4ac16d"/><circle cx="293.6" cy="722.4" r="1.16" fill="#4ac16d"/><circle cx="300.3" cy="721.1" r="1.16" fill="#4ac16d"/><circle cx="307.3" cy="720.6" r="1.16" fill="#4ac16d"/><circle cx="313.9" cy="720.0" r="1.16" fill="#4ac16d"/><circle cx="320.6" cy="720.0" r="1.16" fill="#4ac16d"/><circle cx="327.2" cy="720.7" r="1.16" fill="#4ac16d"/><circle cx="332.4" cy="723.0" r="1.16" fill="#4ac16d"/><circle cx="336.7" cy="723.8" r="1.16" fill="#4ac16d"/><circle cx="341.8" cy="724.4" r="1.16" fill="#4ac16d"/><circle cx="347.9" cy="725.0" r="1.16" fill="#4ac16d"/><circle cx="354.0" cy="725.6" r="1.16" fill="#4ac16d"/><circle cx="360.1" cy="725.6" r="1.16" fill="#4ac16d"/><circle cx="364.5" cy="727.4" r="1.16" fill="#4ac16d"/><circle cx="368.9" cy="727.9" r="1.16" fill="#4ac16d"/><circle cx="374.2" cy="728.1" r="1.16" fill="#4ac16d"/><circle cx="378.5" cy="728.1" r="1.16" fill="#4ac16d"/><circle cx="383.4" cy="728.4" r="1.16" fill="#4ac16d"/><circle cx="388.7" cy="728.4" r="1.16" fill="#4ac16d"/><circle cx="394.0" cy="729.0" r="1.16" fill="#4ac16d"/><circle cx="399.6" cy="728.4" r="1.16" fill="#4ac16d"/><circle cx="404.8" cy="727.7" r="1.16" fill="#4ac16d"/><circle cx="410.6" cy="727.4" r="1.16" fill="#4ac16d"/><circle cx="415.5" cy="726.3" r="1.16" fill="#4ac16d"/><circle cx="420.7" cy="725.7" r="1.16" fill="#4ac16d"/><circle cx="426.0" cy="724.6" r="1.16" fill="#4ac16d"/><circle cx="431.3" cy="724.2" r="1.16" fill="#4ac16d"/><circle cx="435.5" cy="718.2" r="1.16" fill="#4ac16d"/><circle cx="439.5" cy="715.8" r="1.16" fill="#4ac16d"/></g>
<g opacity="0.95"><path d="M286.4 729.6L288.0 732.4L284.8 732.4Z" fill="#65cb5e"/><path d="M294.4 734.8L296.0 737.6L292.8 737.6Z" fill="#65cb5e"/><path d="M301.6 737.6L303.2 740.4L300.0 740.4Z" fill="#65cb5e"/><path d="M308.6 739.3L310.2 742.1L307.0 742.1Z" fill="#65cb5e"/><path d="M315.8 739.7L317.4 742.5L314.2 742.5Z" fill="#65cb5e"/><path d="M323.1 739.7L324.7 742.5L321.5 742.5Z" fill="#65cb5e"/><path d="M332.0 735.5L333.6 738.3L330.4 738.3Z" fill="#65cb5e"/><path d="M340.5 725.6L342.1 728.4L338.9 728.4Z" fill="#65cb5e"/><path d="M347.8 712.9L349.4 715.7L346.2 715.7Z" fill="#65cb5e"/><path d="M355.4 702.0L357.0 704.8L353.8 704.8Z" fill="#65cb5e"/><path d="M362.0 695.8L363.6 698.6L360.4 698.6Z" fill="#65cb5e"/><path d="M366.8 694.5L368.4 697.3L365.2 697.3Z" fill="#65cb5e"/><path d="M371.9 693.2L373.5 696.0L370.3 696.0Z" fill="#65cb5e"/><path d="M378.6 692.6L380.2 695.4L377.0 695.4Z" fill="#65cb5e"/><path d="M386.3 691.7L387.9 694.5L384.7 694.5Z" fill="#65cb5e"/><path d="M394.2 691.0L395.8 693.8L392.6 693.8Z" fill="#65cb5e"/><path d="M402.9 689.8L404.5 692.6L401.3 692.6Z" fill="#65cb5e"/><path d="M411.8 688.0L413.4 690.8L410.2 690.8Z" fill="#65cb5e"/><path d="M420.0 685.8L421.6 688.6L418.4 688.6Z" fill="#65cb5e"/><path d="M428.0 683.8L429.6 686.6L426.4 686.6Z" fill="#65cb5e"/><path d="M437.8 680.8L439.4 683.6L436.2 683.6Z" fill="#65cb5e"/><path d="M446.5 679.5L448.1 682.3L444.9 682.3Z" fill="#65cb5e"/><path d="M450.9 677.4L452.5 680.2L449.3 680.2Z" fill="#65cb5e"/><path d="M455.8 675.1L457.4 677.9L454.2 677.9Z" fill="#65cb5e"/><path d="M460.1 671.7L461.7 674.5L458.5 674.5Z" fill="#65cb5e"/><path d="M463.3 669.2L464.9 672.0L461.7 672.0Z" fill="#65cb5e"/><path d="M466.6 665.4L468.2 668.2L465.0 668.2Z" fill="#65cb5e"/><path d="M473.8 660.6L475.4 663.4L472.2 663.4Z" fill="#65cb5e"/><path d="M481.5 654.6L483.1 657.4L479.9 657.4Z" fill="#65cb5e"/><path d="M489.9 648.0L491.5 650.8L488.3 650.8Z" fill="#65cb5e"/><path d="M497.8 637.1L499.4 639.9L496.2 639.9Z" fill="#65cb5e"/><path d="M504.8 631.9L506.4 634.7L503.2 634.7Z" fill="#65cb5e"/></g>
<g opacity="0.95"><path d="M217.7 593.8L219.2 595.3L217.7 596.8L216.2 595.3Z" fill="#81d34d"/><path d="M220.7 588.0L222.2 589.5L220.7 591.0L219.2 589.5Z" fill="#81d34d"/><path d="M223.6 584.3L225.1 585.8L223.6 587.3L222.1 585.8Z" fill="#81d34d"/><path d="M226.5 580.4L228.0 581.9L226.5 583.4L225.0 581.9Z" fill="#81d34d"/><path d="M229.7 577.1L231.2 578.6L229.7 580.1L228.2 578.6Z" fill="#81d34d"/><path d="M233.2 574.6L234.7 576.1L233.2 577.6L231.7 576.1Z" fill="#81d34d"/><path d="M236.1 567.2L237.6 568.7L236.1 570.2L234.6 568.7Z" fill="#81d34d"/><path d="M239.1 565.8L240.6 567.3L239.1 568.8L237.6 567.3Z" fill="#81d34d"/><path d="M242.0 563.5L243.5 565.0L242.0 566.5L240.5 565.0Z" fill="#81d34d"/><path d="M244.9 558.1L246.4 559.6L244.9 561.1L243.4 559.6Z" fill="#81d34d"/><path d="M246.9 552.9L248.4 554.4L246.9 555.9L245.4 554.4Z" fill="#81d34d"/><path d="M248.4 551.8L249.9 553.3L248.4 554.8L246.9 553.3Z" fill="#81d34d"/><path d="M250.1 544.8L251.6 546.3L250.1 547.8L248.6 546.3Z" fill="#81d34d"/><path d="M251.6 543.6L253.1 545.1L251.6 546.6L250.1 545.1Z" fill="#81d34d"/><path d="M254.2 541.3L255.7 542.8L254.2 544.3L252.7 542.8Z" fill="#81d34d"/><path d="M256.6 534.9L258.1 536.4L256.6 537.9L255.1 536.4Z" fill="#81d34d"/><path d="M258.6 538.3L260.1 539.8L258.6 541.3L257.1 539.8Z" fill="#81d34d"/><path d="M260.4 523.3L261.9 524.8L260.4 526.3L258.9 524.8Z" fill="#81d34d"/><path d="M261.8 512.3L263.3 513.8L261.8 515.3L260.3 513.8Z" fill="#81d34d"/><path d="M263.9 508.5L265.4 510.0L263.9 511.5L262.4 510.0Z" fill="#81d34d"/><path d="M265.6 513.5L267.1 515.0L265.6 516.5L264.1 515.0Z" fill="#81d34d"/><path d="M267.7 507.7L269.2 509.2L267.7 510.7L266.2 509.2Z" fill="#81d34d"/><path d="M270.3 496.0L271.8 497.5L270.3 499.0L268.8 497.5Z" fill="#81d34d"/><path d="M272.9 500.1L274.4 501.6L272.9 503.1L271.4 501.6Z" fill="#81d34d"/><path d="M275.5 494.5L277.0 496.0L275.5 497.5L274.0 496.0Z" fill="#81d34d"/><path d="M277.6 490.8L279.1 492.3L277.6 493.8L276.1 492.3Z" fill="#81d34d"/><path d="M279.6 477.3L281.1 478.8L279.6 480.3L278.1 478.8Z" fill="#81d34d"/><path d="M281.7 465.9L283.2 467.4L281.7 468.9L280.2 467.4Z" fill="#81d34d"/><path d="M283.4 462.4L284.9 463.9L283.4 465.4L281.9 463.9Z" fill="#81d34d"/></g>
<g opacity="0.95"><circle cx="117.1" cy="680.6" r="1.29" fill="#a0da39"/><circle cx="120.3" cy="678.2" r="1.29" fill="#a0da39"/><circle cx="123.7" cy="676.2" r="1.29" fill="#a0da39"/><circle cx="126.9" cy="674.3" r="1.29" fill="#a0da39"/><circle cx="129.8" cy="671.3" r="1.29" fill="#a0da39"/><circle cx="132.3" cy="670.4" r="1.29" fill="#a0da39"/><circle cx="135.5" cy="665.5" r="1.29" fill="#a0da39"/><circle cx="138.3" cy="660.8" r="1.29" fill="#a0da39"/><circle cx="141.2" cy="655.7" r="1.29" fill="#a0da39"/><circle cx="145.0" cy="654.2" r="1.29" fill="#a0da39"/><circle cx="148.2" cy="651.8" r="1.29" fill="#a0da39"/><circle cx="151.6" cy="648.2" r="1.29" fill="#a0da39"/><circle cx="155.8" cy="645.9" r="1.29" fill="#a0da39"/><circle cx="160.7" cy="645.6" r="1.29" fill="#a0da39"/><circle cx="165.8" cy="644.2" r="1.29" fill="#a0da39"/><circle cx="171.5" cy="642.8" r="1.29" fill="#a0da39"/><circle cx="177.2" cy="640.8" r="1.29" fill="#a0da39"/><circle cx="182.6" cy="642.0" r="1.29" fill="#a0da39"/><circle cx="188.4" cy="642.9" r="1.29" fill="#a0da39"/><circle cx="194.4" cy="640.5" r="1.29" fill="#a0da39"/><circle cx="200.7" cy="638.6" r="1.29" fill="#a0da39"/><circle cx="206.3" cy="638.6" r="1.29" fill="#a0da39"/><circle cx="212.4" cy="636.4" r="1.29" fill="#a0da39"/><circle cx="218.5" cy="633.6" r="1.29" fill="#a0da39"/><circle cx="224.7" cy="631.2" r="1.29" fill="#a0da39"/><circle cx="230.8" cy="631.5" r="1.29" fill="#a0da39"/><circle cx="236.4" cy="629.1" r="1.29" fill="#a0da39"/><circle cx="242.2" cy="628.9" r="1.29" fill="#a0da39"/><circle cx="248.3" cy="629.3" r="1.29" fill="#a0da39"/><circle cx="253.9" cy="629.3" r="1.29" fill="#a0da39"/><circle cx="259.7" cy="629.3" r="1.29" fill="#a0da39"/><circle cx="265.3" cy="629.3" r="1.29" fill="#a0da39"/></g>
<g opacity="0.95"><circle cx="82.9" cy="668.8" r="0.95" fill="#c0df25"/><circle cx="85.2" cy="664.8" r="0.95" fill="#c0df25"/><circle cx="88.0" cy="662.5" r="0.95" fill="#c0df25"/><circle cx="90.9" cy="661.1" r="0.95" fill="#c0df25"/><circle cx="94.7" cy="660.4" r="0.95" fill="#c0df25"/><circle cx="98.5" cy="660.4" r="0.95" fill="#c0df25"/><circle cx="102.3" cy="660.8" r="0.95" fill="#c0df25"/><circle cx="106.1" cy="662.9" r="0.95" fill="#c0df25"/><circle cx="109.5" cy="664.5" r="0.95" fill="#c0df25"/><circle cx="113.3" cy="666.7" r="0.95" fill="#c0df25"/><circle cx="117.4" cy="668.0" r="0.95" fill="#c0df25"/><circle cx="121.6" cy="668.7" r="0.95" fill="#c0df25"/><circle cx="126.6" cy="670.0" r="0.95" fill="#c0df25"/><circle cx="131.7" cy="671.5" r="0.95" fill="#c0df25"/><circle cx="136.4" cy="672.1" r="0.95" fill="#c0df25"/><circle cx="143.1" cy="673.0" r="0.95" fill="#c0df25"/><circle cx="149.3" cy="674.0" r="0.95" fill="#c0df25"/><circle cx="155.8" cy="675.0" r="0.95" fill="#c0df25"/><circle cx="162.6" cy="675.5" r="0.95" fill="#c0df25"/><circle cx="169.1" cy="676.2" r="0.95" fill="#c0df25"/><circle cx="175.3" cy="677.0" r="0.95" fill="#c0df25"/><circle cx="182.1" cy="677.4" r="0.95" fill="#c0df25"/><circle cx="188.8" cy="677.0" r="0.95" fill="#c0df25"/><circle cx="195.4" cy="676.5" r="0.95" fill="#c0df25"/><circle cx="202.4" cy="675.7" r="0.95" fill="#c0df25"/><circle cx="208.9" cy="675.0" r="0.95" fill="#c0df25"/><circle cx="215.9" cy="674.0" r="0.95" fill="#c0df25"/><circle cx="222.6" cy="673.0" r="0.95" fill="#c0df25"/><circle cx="228.7" cy="672.1" r="0.95" fill="#c0df25"/><circle cx="234.3" cy="671.3" r="0.95" fill="#c0df25"/></g>
<g opacity="0.72"><circle cx="142.1" cy="662.2" r="1.20" stroke="#dfe318" stroke-width="0.45" fill="none"/><circle cx="152.6" cy="657.6" r="1.20" stroke="#dfe318" stroke-width="0.45" fill="none"/><circle cx="163.0" cy="650.7" r="1.20" stroke="#dfe318" stroke-width="0.45" fill="none"/><circle cx="170.0" cy="648.0" r="1.20" stroke="#dfe318" stroke-width="0.45" fill="none"/><circle cx="176.0" cy="646.0" r="1.20" stroke="#dfe318" stroke-width="0.45" fill="none"/><circle cx="183.5" cy="643.8" r="1.20" stroke="#dfe318" stroke-width="0.45" fill="none"/><circle cx="190.5" cy="642.9" r="1.20" stroke="#dfe318" stroke-width="0.45" fill="none"/><circle cx="198.4" cy="640.8" r="1.20" stroke="#dfe318" stroke-width="0.45" fill="none"/><circle cx="205.4" cy="639.4" r="1.20" stroke="#dfe318" stroke-width="0.45" fill="none"/><circle cx="213.0" cy="637.0" r="1.20" stroke="#dfe318" stroke-width="0.45" fill="none"/><circle cx="221.2" cy="635.2" r="1.20" stroke="#dfe318" stroke-width="0.45" fill="none"/><circle cx="229.1" cy="632.9" r="1.20" stroke="#dfe318" stroke-width="0.45" fill="none"/><circle cx="237.8" cy="630.2" r="1.20" stroke="#dfe318" stroke-width="0.45" fill="none"/><circle cx="244.8" cy="626.3" r="1.20" stroke="#dfe318" stroke-width="0.45" fill="none"/><circle cx="251.8" cy="624.5" r="1.20" stroke="#dfe318" stroke-width="0.45" fill="none"/><circle cx="258.3" cy="623.3" r="1.20" stroke="#dfe318" stroke-width="0.45" fill="none"/><circle cx="265.0" cy="621.7" r="1.20" stroke="#dfe318" stroke-width="0.45" fill="none"/><circle cx="271.1" cy="619.8" r="1.20" stroke="#dfe318" stroke-width="0.45" fill="none"/><circle cx="276.9" cy="618.2" r="1.20" stroke="#dfe318" stroke-width="0.45" fill="none"/><circle cx="282.5" cy="615.2" r="1.20" stroke="#dfe318" stroke-width="0.45" fill="none"/><circle cx="287.2" cy="612.1" r="1.20" stroke="#dfe318" stroke-width="0.45" fill="none"/></g>
<g opacity="0.72"><rect x="316.1" y="707.2" width="2.6" height="2.6" stroke="#fde725" stroke-width="0.45" fill="none"/><rect x="320.9" y="707.0" width="2.6" height="2.6" stroke="#fde725" stroke-width="0.45" fill="none"/><rect x="325.3" y="703.4" width="2.6" height="2.6" stroke="#fde725" stroke-width="0.45" fill="none"/><rect x="329.8" y="706.4" width="2.6" height="2.6" stroke="#fde725" stroke-width="0.45" fill="none"/><rect x="334.2" y="703.9" width="2.6" height="2.6" stroke="#fde725" stroke-width="0.45" fill="none"/><rect x="338.5" y="705.3" width="2.6" height="2.6" stroke="#fde725" stroke-width="0.45" fill="none"/><rect x="343.3" y="706.4" width="2.6" height="2.6" stroke="#fde725" stroke-width="0.45" fill="none"/><rect x="348.0" y="700.0" width="2.6" height="2.6" stroke="#fde725" stroke-width="0.45" fill="none"/><rect x="351.8" y="696.3" width="2.6" height="2.6" stroke="#fde725" stroke-width="0.45" fill="none"/><rect x="356.0" y="691.5" width="2.6" height="2.6" stroke="#fde725" stroke-width="0.45" fill="none"/><rect x="360.4" y="679.7" width="2.6" height="2.6" stroke="#fde725" stroke-width="0.45" fill="none"/><rect x="363.7" y="675.1" width="2.6" height="2.6" stroke="#fde725" stroke-width="0.45" fill="none"/><rect x="366.3" y="665.4" width="2.6" height="2.6" stroke="#fde725" stroke-width="0.45" fill="none"/><rect x="368.9" y="656.0" width="2.6" height="2.6" stroke="#fde725" stroke-width="0.45" fill="none"/><rect x="372.1" y="650.4" width="2.6" height="2.6" stroke="#fde725" stroke-width="0.45" fill="none"/><rect x="375.6" y="650.9" width="2.6" height="2.6" stroke="#fde725" stroke-width="0.45" fill="none"/><rect x="379.1" y="650.7" width="2.6" height="2.6" stroke="#fde725" stroke-width="0.45" fill="none"/><rect x="383.5" y="652.9" width="2.6" height="2.6" stroke="#fde725" stroke-width="0.45" fill="none"/><rect x="387.3" y="651.9" width="2.6" height="2.6" stroke="#fde725" stroke-width="0.45" fill="none"/><rect x="390.8" y="653.1" width="2.6" height="2.6" stroke="#fde725" stroke-width="0.45" fill="none"/><rect x="394.4" y="656.9" width="2.6" height="2.6" stroke="#fde725" stroke-width="0.45" fill="none"/><rect x="398.2" y="660.0" width="2.6" height="2.6" stroke="#fde725" stroke-width="0.45" fill="none"/><rect x="402.4" y="661.5" width="2.6" height="2.6" stroke="#fde725" stroke-width="0.45" fill="none"/><rect x="406.7" y="663.4" width="2.6" height="2.6" stroke="#fde725" stroke-width="0.45" fill="none"/><rect x="411.5" y="663.2" width="2.6" height="2.6" stroke="#fde725" stroke-width="0.45" fill="none"/><rect x="416.8" y="662.6" width="2.6" height="2.6" stroke="#fde725" stroke-width="0.45" fill="none"/><rect x="420.6" y="662.2" width="2.6" height="2.6" stroke="#fde725" stroke-width="0.45" fill="none"/><rect x="423.8" y="663.2" width="2.6" height="2.6" stroke="#fde725" stroke-width="0.45" fill="none"/><rect x="428.2" y="664.3" width="2.6" height="2.6" stroke="#fde725" stroke-width="0.45" fill="none"/><rect x="432.0" y="663.2" width="2.6" height="2.6" stroke="#fde725" stroke-width="0.45" fill="none"/></g>
<path d="M79.9 114.5L82.4 115.8L84.9 117.1L87.4 118.4L89.9 119.6L92.4 120.8L94.9 122.0L97.4 123.2L99.9 124.3L102.4 125.5L104.9 126.5L107.4 127.6L109.9 128.7L112.4 129.7L114.9 130.7L117.4 131.7L119.9 132.7L122.4 133.6L124.9 134.5L127.4 135.5L129.9 136.3L132.4 137.2L134.9 138.1L137.4 138.9L139.9 139.7L142.4 140.5L144.9 141.3L147.4 142.1L149.9 142.9L152.4 143.6L154.9 144.4L157.4 145.1L159.9 145.8L162.4 146.5L164.9 147.2L167.4 147.9L169.9 148.5L172.4 149.2L174.9 149.8L177.4 150.5L179.9 151.1L182.4 151.7L184.9 152.3L187.4 152.9L189.9 153.5L192.4 154.1L194.9 154.7L197.4 155.3L199.9 155.9L202.4 156.5L204.9 157.1L207.4 157.7L209.9 158.3L212.4 158.9L214.9 159.5L217.4 160.1L219.9 160.8L222.4 161.5L224.9 162.2L227.4 162.9L229.9 163.6L232.4 164.4L234.9 165.2L237.4 166.0L239.9 166.9L242.4 167.8L244.9 168.7L247.4 169.7L249.9 170.7L252.4 171.8L254.9 172.9L257.4 174.1L259.9 175.3L262.4 176.7L264.9 178.3L267.4 180.2L269.9 182.4L272.4 184.8L274.9 187.3L277.4 190.0L279.9 192.8L282.4 195.6L284.9 198.3L287.4 201.0L289.9 203.6L292.4 205.9L294.9 208.1L297.4 210.1L299.9 211.9L302.4 213.6L304.9 215.1L307.4 216.5L309.9 217.7L312.4 218.8L314.9 219.7L317.4 220.5L319.9 221.1L322.4 221.6L324.9 222.0L327.4 222.1L329.9 222.1L332.4 221.9L334.9 221.5L337.4 220.9L339.9 220.2L342.4 219.2L344.9 218.1L347.4 216.8L349.9 215.5L352.4 214.2L354.9 212.8L357.4 211.4L359.9 210.1L362.4 208.9L364.9 207.9L367.4 207.0L369.9 206.2L372.4 205.7L374.9 205.3L377.4 205.1L379.9 205.0L382.4 205.1L384.9 205.3L387.4 205.6L389.9 206.0L392.4 206.5L394.9 207.2L397.4 207.9L399.9 208.7L402.4 209.5L404.9 210.4L407.4 211.4L409.9 212.4L412.4 213.4L414.9 214.5L417.4 215.5L419.9 216.6L422.4 217.7L424.9 218.7L427.4 219.8L429.9 220.8L432.4 221.9L434.9 223.0L437.4 224.1L439.9 225.3L442.4 226.5L444.9 227.8L447.4 229.2L449.9 230.6L452.4 232.1L454.9 233.7L457.4 235.5L459.9 237.3L462.4 239.1L464.9 240.9L467.4 242.7L469.9 244.4L472.4 246.0L474.9 247.5L477.4 248.8L479.9 250.1L482.4 251.2L484.9 252.3L487.4 253.2L489.9 254.1L492.4 254.9L494.9 255.5L497.4 256.2L499.9 256.7L502.4 257.2L504.9 257.5L507.4 257.9L509.9 258.2L512.4 258.4L514.9 258.6L517.4 258.7L519.9 258.8L522.4 258.9L524.9 258.9L527.4 258.9L529.9 258.9L532.4 258.9L534.9 258.9L537.4 258.8L539.9 258.8L542.4 258.7L544.9 258.7L547.4 258.7L549.9 258.7L552.4 258.6L554.9 258.6L557.4 258.6L559.9 258.6L562.4 258.6L564.9 258.6L567.4 258.6L569.9 258.6L572.4 258.6L574.9 258.6L577.4 258.6L579.9 258.6L582.4 258.6L584.9 258.5L587.4 258.5L589.9 258.5L592.4 258.4L594.9 258.3L597.4 258.2L599.9 258.1L602.4 258.0L604.9 257.9L607.4 257.7L609.9 257.6L612.4 257.4L614.9 257.2L617.4 257.0L619.9 256.7L622.4 256.4L624.9 256.1L627.4 255.8L629.9 255.5L632.4 255.1L633.7 254.9" stroke="#1a1a1a" stroke-width="1.7" fill="none" stroke-linecap="round" stroke-linejoin="round"/>
<path d="M83.3 698.1L85.8 696.2L88.3 694.4L90.8 692.6L93.3 690.8L95.8 689.0L98.3 687.2L100.8 685.4L103.3 683.7L105.8 682.0L108.3 680.3L110.8 678.6L113.3 676.9L115.8 675.3L118.3 673.7L120.8 672.1L123.3 670.5L125.8 669.0L128.3 667.5L130.8 665.9L133.3 664.5L135.8 663.0L138.3 661.6L140.8 660.2L143.3 658.8L145.8 657.5L148.3 656.1L150.8 654.8L153.3 653.6L155.8 652.3L158.3 651.1L160.8 650.0L163.3 648.8L165.8 647.7L168.3 646.6L170.8 645.6L173.3 644.6L175.8 643.6L178.3 642.6L180.8 641.7L183.3 640.8L185.8 640.0L188.3 639.2L190.8 638.4L193.3 637.6L195.8 636.9L198.3 636.3L200.8 635.7L203.3 635.1L205.8 634.5L208.3 634.0L210.8 633.5L213.3 633.1L215.8 632.7L218.3 632.4L220.8 632.1L223.3 631.8L225.8 631.6L228.3 631.5L230.8 631.3L233.3 631.3L235.8 631.2L238.3 631.2L240.8 631.3L243.3 631.4L245.8 631.6L248.3 631.8L250.8 632.0L253.3 632.4L255.8 632.8L258.3 633.5L260.8 634.4L263.3 635.7L265.8 637.3L268.3 639.4L270.8 641.7L273.3 644.4L275.8 647.3L278.3 650.4L280.8 653.6L283.3 657.0L285.8 660.4L288.3 663.9L290.8 667.3L293.3 670.7L295.8 674.1L298.3 677.3L300.8 680.4L303.3 683.3L305.8 686.1L308.3 688.8L310.8 691.5L313.3 694.0L315.8 696.5L318.3 699.0L320.8 701.4L323.3 703.7L325.8 705.9L328.3 707.9L330.8 709.7L333.3 711.3L335.8 712.6L338.3 713.5L340.8 714.1L343.3 714.2L345.8 714.0L348.3 713.5L350.8 712.9L353.3 712.0L355.8 711.2L358.3 710.3L360.8 709.5L363.3 708.6L365.8 707.8L368.3 707.1L370.8 706.3L373.3 705.6L375.8 705.0L378.3 704.4L380.8 703.8L383.3 703.4L385.8 702.9L388.3 702.6L390.8 702.3L393.3 702.2L395.8 702.1L398.3 702.1L400.8 702.1L403.3 702.3L405.8 702.7L408.3 703.1L410.8 703.6L413.3 704.3L415.8 705.1L418.3 706.0L420.8 707.1L423.3 708.3L425.8 709.6L428.3 711.0L430.8 712.6L433.3 714.2L435.8 715.8L438.3 717.5L440.8 719.3L443.3 721.1L445.8 722.9L448.3 724.8L450.8 726.9L453.3 729.0L455.8 731.3L458.3 733.7L460.8 736.4L463.3 739.2L465.8 742.0L468.3 744.8L470.8 747.6L473.3 750.1L475.8 752.5L478.3 754.7L480.8 756.8L483.3 758.7L485.8 760.4L488.3 762.0L490.8 763.5L493.3 764.9L495.8 766.2L498.3 767.4L500.8 768.5L503.3 769.6L505.8 770.7L508.3 771.7L510.8 772.8L513.3 773.8L515.8 774.8L518.3 775.9L520.8 776.9L523.3 777.6L525.8 778.2L528.3 778.6L530.8 778.8L533.3 778.9L535.8 778.9L538.3 778.7L540.8 778.4L543.3 778.1L545.8 777.6L548.3 777.2L550.8 776.7L553.3 776.1L555.8 775.4L558.3 774.7L560.8 774.0L563.3 773.1L565.8 772.2L568.3 771.2L570.8 770.1L573.3 768.9L575.8 767.7L578.3 766.3L580.8 764.9L583.3 763.3L585.8 761.6L588.3 759.8L590.8 757.9L593.3 755.9L595.8 753.8L598.3 751.5L600.8 749.2L603.3 746.7L605.8 744.1L608.3 741.4L610.8 738.6L613.3 735.8L615.8 733.0L618.3 730.1L620.8 727.2L623.3 724.3L625.8 721.4L628.3 718.5L630.8 715.7L633.3 712.9L633.9 712.2" stroke="#1a1a1a" stroke-width="1.35" fill="none" stroke-linecap="round" stroke-linejoin="round"/>
</svg></body></html>
